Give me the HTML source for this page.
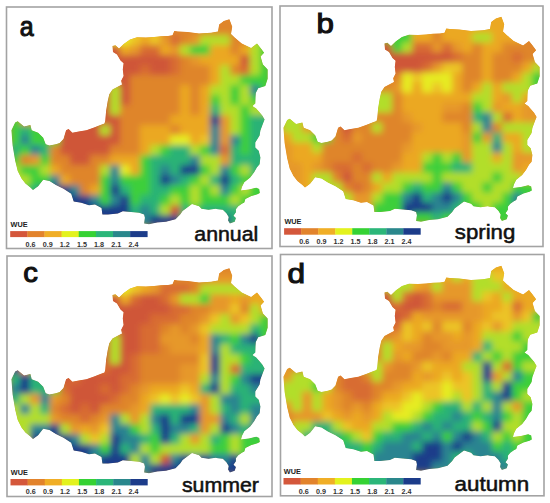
<!DOCTYPE html>
<html><head><meta charset="utf-8"><style>
html,body{margin:0;padding:0;background:#fff;}
svg{display:block;}
text{font-family:"Liberation Sans",sans-serif;}
.wue{font-size:7.3px;font-weight:bold;fill:#222;}
.lbl{font-size:7.2px;font-weight:bold;fill:#333;}
.big{font-size:27.5px;font-weight:normal;fill:#111;stroke:#111;stroke-width:1.1px;}
.season{font-size:21px;fill:#111;stroke:#111;stroke-width:0.55px;}
</style></head><body>
<svg width="550" height="503" viewBox="0 0 550 503">
<defs><clipPath id="clipmap"><polygon points="112.5,46.0 115.4,45.2 119.0,48.5 124.0,43.7 130.0,39.4 137.0,37.2 146.0,37.5 154.0,37.0 161.0,36.3 168.0,36.0 172.5,35.2 174.3,31.0 177.8,31.5 187.3,32.0 199.0,33.4 211.0,32.7 218.0,31.5 219.2,24.5 223.9,20.9 229.4,19.3 232.2,26.8 231.0,33.9 234.6,37.5 241.7,43.4 251.1,48.1 257.0,43.4 260.6,48.1 264.1,52.8 260.6,56.4 262.9,64.6 267.7,69.4 267.7,78.8 265.3,85.9 258.2,88.3 255.8,93.0 255.5,97.0 255.3,103.5 252.5,106.0 256.2,108.6 262.1,115.3 264.6,119.6 262.9,123.8 260.4,130.5 259.6,135.6 255.3,142.4 255.3,147.4 258.7,150.8 260.4,157.6 259.6,164.3 257.0,167.3 254.0,172.5 250.2,177.5 244.3,182.3 241.9,187.1 241.0,190.5 249.0,189.5 256.2,187.7 259.2,188.9 259.8,193.1 257.4,194.3 251.4,196.0 245.4,199.0 244.3,202.6 241.9,203.8 238.3,206.2 235.9,209.2 235.9,212.2 233.5,215.7 235.9,218.1 234.7,221.7 229.9,223.5 228.1,220.5 228.7,216.9 226.4,213.3 222.8,209.8 218.0,209.2 215.7,208.7 208.6,209.8 201.5,208.7 199.1,206.3 192.0,203.9 187.3,207.5 182.6,211.0 180.2,214.6 175.5,219.3 166.0,221.7 157.2,222.6 149.0,224.3 144.1,223.5 144.9,217.7 144.1,214.5 139.2,212.8 131.0,212.0 122.8,211.2 117.9,213.6 108.1,214.5 102.4,214.5 101.5,207.9 95.0,204.6 89.0,205.2 81.3,202.7 73.7,201.4 71.2,193.8 63.5,188.7 55.9,184.9 49.5,181.1 43.2,179.8 38.1,186.2 33.0,190.0 30.4,187.4 25.4,183.6 21.5,178.5 17.7,170.9 15.2,160.7 12.6,145.4 11.4,130.2 15.2,122.5 17.7,121.3 24.1,126.4 30.4,125.1 31.7,130.2 38.1,132.7 43.2,137.8 45.7,144.2 49.5,145.4 55.9,144.2 59.7,142.9 63.5,139.1 66.1,130.2 68.6,128.9 72.4,132.7 78.8,131.5 86.4,130.2 94.1,127.6 100.4,125.1 104.5,123.6 105.3,120.4 106.1,110.9 107.7,101.3 109.3,94.2 112.5,89.4 117.2,87.0 122.0,84.6 121.2,80.7 123.6,75.9 122.8,69.5 123.6,63.2 120.5,60.5 117.0,54.5 113.0,52.0"/></clipPath>
<filter id="soft" x="-5%" y="-5%" width="110%" height="110%"><feGaussianBlur stdDeviation="3"/></filter>
</defs>
<rect width="550" height="503" fill="#fff"/>
<g fill="none" stroke="#a3a3a3" stroke-width="1.6">
<rect x="6.5" y="7" width="265.5" height="241.5"/>
<rect x="280" y="6" width="263" height="240.5"/>
<rect x="7" y="256" width="265" height="240.5"/>
<rect x="280.5" y="254.5" width="263.5" height="241.3"/>
</g>
<g transform="translate(0,0)">
<g clip-path="url(#clipmap)">
<polygon points="112.5,46.0 115.4,45.2 119.0,48.5 124.0,43.7 130.0,39.4 137.0,37.2 146.0,37.5 154.0,37.0 161.0,36.3 168.0,36.0 172.5,35.2 174.3,31.0 177.8,31.5 187.3,32.0 199.0,33.4 211.0,32.7 218.0,31.5 219.2,24.5 223.9,20.9 229.4,19.3 232.2,26.8 231.0,33.9 234.6,37.5 241.7,43.4 251.1,48.1 257.0,43.4 260.6,48.1 264.1,52.8 260.6,56.4 262.9,64.6 267.7,69.4 267.7,78.8 265.3,85.9 258.2,88.3 255.8,93.0 255.5,97.0 255.3,103.5 252.5,106.0 256.2,108.6 262.1,115.3 264.6,119.6 262.9,123.8 260.4,130.5 259.6,135.6 255.3,142.4 255.3,147.4 258.7,150.8 260.4,157.6 259.6,164.3 257.0,167.3 254.0,172.5 250.2,177.5 244.3,182.3 241.9,187.1 241.0,190.5 249.0,189.5 256.2,187.7 259.2,188.9 259.8,193.1 257.4,194.3 251.4,196.0 245.4,199.0 244.3,202.6 241.9,203.8 238.3,206.2 235.9,209.2 235.9,212.2 233.5,215.7 235.9,218.1 234.7,221.7 229.9,223.5 228.1,220.5 228.7,216.9 226.4,213.3 222.8,209.8 218.0,209.2 215.7,208.7 208.6,209.8 201.5,208.7 199.1,206.3 192.0,203.9 187.3,207.5 182.6,211.0 180.2,214.6 175.5,219.3 166.0,221.7 157.2,222.6 149.0,224.3 144.1,223.5 144.9,217.7 144.1,214.5 139.2,212.8 131.0,212.0 122.8,211.2 117.9,213.6 108.1,214.5 102.4,214.5 101.5,207.9 95.0,204.6 89.0,205.2 81.3,202.7 73.7,201.4 71.2,193.8 63.5,188.7 55.9,184.9 49.5,181.1 43.2,179.8 38.1,186.2 33.0,190.0 30.4,187.4 25.4,183.6 21.5,178.5 17.7,170.9 15.2,160.7 12.6,145.4 11.4,130.2 15.2,122.5 17.7,121.3 24.1,126.4 30.4,125.1 31.7,130.2 38.1,132.7 43.2,137.8 45.7,144.2 49.5,145.4 55.9,144.2 59.7,142.9 63.5,139.1 66.1,130.2 68.6,128.9 72.4,132.7 78.8,131.5 86.4,130.2 94.1,127.6 100.4,125.1 104.5,123.6 105.3,120.4 106.1,110.9 107.7,101.3 109.3,94.2 112.5,89.4 117.2,87.0 122.0,84.6 121.2,80.7 123.6,75.9 122.8,69.5 123.6,63.2 120.5,60.5 117.0,54.5 113.0,52.0" fill="#e08a2a"/>
<g filter="url(#soft)"><rect x="10" y="15" width="10.5" height="10.5" fill="#3ccf3a"/>
<rect x="20" y="15" width="10.5" height="10.5" fill="#df852b"/>
<rect x="30" y="15" width="10.5" height="10.5" fill="#e6ec22"/>
<rect x="40" y="15" width="10.5" height="10.5" fill="#e6ec22"/>
<rect x="50" y="15" width="10.5" height="10.5" fill="#e6ec22"/>
<rect x="60" y="15" width="10.5" height="10.5" fill="#e6ec22"/>
<rect x="70" y="15" width="10.5" height="10.5" fill="#e6ec22"/>
<rect x="80" y="15" width="10.5" height="10.5" fill="#e6ec22"/>
<rect x="90" y="15" width="10.5" height="10.5" fill="#e6ec22"/>
<rect x="100" y="15" width="10.5" height="10.5" fill="#e6ec22"/>
<rect x="110" y="15" width="10.5" height="10.5" fill="#e6ec22"/>
<rect x="120" y="15" width="10.5" height="10.5" fill="#e6ec22"/>
<rect x="130" y="15" width="10.5" height="10.5" fill="#ecc427"/>
<rect x="140" y="15" width="10.5" height="10.5" fill="#eba823"/>
<rect x="150" y="15" width="10.5" height="10.5" fill="#ecc427"/>
<rect x="160" y="15" width="10.5" height="10.5" fill="#df852b"/>
<rect x="170" y="15" width="10.5" height="10.5" fill="#df852b"/>
<rect x="180" y="15" width="10.5" height="10.5" fill="#df852b"/>
<rect x="190" y="15" width="10.5" height="10.5" fill="#df852b"/>
<rect x="200" y="15" width="10.5" height="10.5" fill="#df852b"/>
<rect x="210" y="15" width="10.5" height="10.5" fill="#df852b"/>
<rect x="220" y="15" width="10.5" height="10.5" fill="#df852b"/>
<rect x="230" y="15" width="10.5" height="10.5" fill="#df852b"/>
<rect x="240" y="15" width="10.5" height="10.5" fill="#df852b"/>
<rect x="250" y="15" width="10.5" height="10.5" fill="#df852b"/>
<rect x="260" y="15" width="10.5" height="10.5" fill="#3ccf3a"/>
<rect x="10" y="25" width="10.5" height="10.5" fill="#3ccf3a"/>
<rect x="20" y="25" width="10.5" height="10.5" fill="#df852b"/>
<rect x="30" y="25" width="10.5" height="10.5" fill="#e6ec22"/>
<rect x="40" y="25" width="10.5" height="10.5" fill="#e6ec22"/>
<rect x="50" y="25" width="10.5" height="10.5" fill="#e6ec22"/>
<rect x="60" y="25" width="10.5" height="10.5" fill="#e6ec22"/>
<rect x="70" y="25" width="10.5" height="10.5" fill="#e6ec22"/>
<rect x="80" y="25" width="10.5" height="10.5" fill="#e6ec22"/>
<rect x="90" y="25" width="10.5" height="10.5" fill="#e6ec22"/>
<rect x="100" y="25" width="10.5" height="10.5" fill="#e6ec22"/>
<rect x="110" y="25" width="10.5" height="10.5" fill="#e6ec22"/>
<rect x="120" y="25" width="10.5" height="10.5" fill="#e6ec22"/>
<rect x="130" y="25" width="10.5" height="10.5" fill="#ecc427"/>
<rect x="140" y="25" width="10.5" height="10.5" fill="#eba823"/>
<rect x="150" y="25" width="10.5" height="10.5" fill="#ecc427"/>
<rect x="160" y="25" width="10.5" height="10.5" fill="#df852b"/>
<rect x="170" y="25" width="10.5" height="10.5" fill="#df852b"/>
<rect x="180" y="25" width="10.5" height="10.5" fill="#df852b"/>
<rect x="190" y="25" width="10.5" height="10.5" fill="#df852b"/>
<rect x="200" y="25" width="10.5" height="10.5" fill="#df852b"/>
<rect x="210" y="25" width="10.5" height="10.5" fill="#df852b"/>
<rect x="220" y="25" width="10.5" height="10.5" fill="#df852b"/>
<rect x="230" y="25" width="10.5" height="10.5" fill="#df852b"/>
<rect x="240" y="25" width="10.5" height="10.5" fill="#df852b"/>
<rect x="250" y="25" width="10.5" height="10.5" fill="#df852b"/>
<rect x="260" y="25" width="10.5" height="10.5" fill="#3ccf3a"/>
<rect x="10" y="35" width="10.5" height="10.5" fill="#3ccf3a"/>
<rect x="20" y="35" width="10.5" height="10.5" fill="#df852b"/>
<rect x="30" y="35" width="10.5" height="10.5" fill="#e6ec22"/>
<rect x="40" y="35" width="10.5" height="10.5" fill="#e6ec22"/>
<rect x="50" y="35" width="10.5" height="10.5" fill="#e6ec22"/>
<rect x="60" y="35" width="10.5" height="10.5" fill="#e6ec22"/>
<rect x="70" y="35" width="10.5" height="10.5" fill="#e6ec22"/>
<rect x="80" y="35" width="10.5" height="10.5" fill="#e6ec22"/>
<rect x="90" y="35" width="10.5" height="10.5" fill="#e6ec22"/>
<rect x="100" y="35" width="10.5" height="10.5" fill="#e6ec22"/>
<rect x="110" y="35" width="10.5" height="10.5" fill="#e6ec22"/>
<rect x="120" y="35" width="10.5" height="10.5" fill="#e6ec22"/>
<rect x="130" y="35" width="10.5" height="10.5" fill="#ecc427"/>
<rect x="140" y="35" width="10.5" height="10.5" fill="#eba823"/>
<rect x="150" y="35" width="10.5" height="10.5" fill="#ecc427"/>
<rect x="160" y="35" width="10.5" height="10.5" fill="#e6982a"/>
<rect x="170" y="35" width="10.5" height="10.5" fill="#d86c33"/>
<rect x="180" y="35" width="10.5" height="10.5" fill="#df852b"/>
<rect x="190" y="35" width="10.5" height="10.5" fill="#e6982a"/>
<rect x="200" y="35" width="10.5" height="10.5" fill="#b2de2a"/>
<rect x="210" y="35" width="10.5" height="10.5" fill="#b2de2a"/>
<rect x="220" y="35" width="10.5" height="10.5" fill="#b2de2a"/>
<rect x="230" y="35" width="10.5" height="10.5" fill="#df852b"/>
<rect x="240" y="35" width="10.5" height="10.5" fill="#df852b"/>
<rect x="250" y="35" width="10.5" height="10.5" fill="#b2de2a"/>
<rect x="260" y="35" width="10.5" height="10.5" fill="#3ccf3a"/>
<rect x="10" y="45" width="10.5" height="10.5" fill="#3ccf3a"/>
<rect x="20" y="45" width="10.5" height="10.5" fill="#df852b"/>
<rect x="30" y="45" width="10.5" height="10.5" fill="#cf5639"/>
<rect x="40" y="45" width="10.5" height="10.5" fill="#cf5639"/>
<rect x="50" y="45" width="10.5" height="10.5" fill="#cf5639"/>
<rect x="60" y="45" width="10.5" height="10.5" fill="#cf5639"/>
<rect x="70" y="45" width="10.5" height="10.5" fill="#cf5639"/>
<rect x="80" y="45" width="10.5" height="10.5" fill="#cf5639"/>
<rect x="90" y="45" width="10.5" height="10.5" fill="#cf5639"/>
<rect x="100" y="45" width="10.5" height="10.5" fill="#cf5639"/>
<rect x="110" y="45" width="10.5" height="10.5" fill="#cf5639"/>
<rect x="120" y="45" width="10.5" height="10.5" fill="#eba823"/>
<rect x="130" y="45" width="10.5" height="10.5" fill="#e6982a"/>
<rect x="140" y="45" width="10.5" height="10.5" fill="#d86c33"/>
<rect x="150" y="45" width="10.5" height="10.5" fill="#d86c33"/>
<rect x="160" y="45" width="10.5" height="10.5" fill="#eba823"/>
<rect x="170" y="45" width="10.5" height="10.5" fill="#e6982a"/>
<rect x="180" y="45" width="10.5" height="10.5" fill="#b2de2a"/>
<rect x="190" y="45" width="10.5" height="10.5" fill="#3ccf3a"/>
<rect x="200" y="45" width="10.5" height="10.5" fill="#3ccf3a"/>
<rect x="210" y="45" width="10.5" height="10.5" fill="#eba823"/>
<rect x="220" y="45" width="10.5" height="10.5" fill="#eba823"/>
<rect x="230" y="45" width="10.5" height="10.5" fill="#df852b"/>
<rect x="240" y="45" width="10.5" height="10.5" fill="#eba823"/>
<rect x="250" y="45" width="10.5" height="10.5" fill="#b2de2a"/>
<rect x="260" y="45" width="10.5" height="10.5" fill="#3ccf3a"/>
<rect x="10" y="55" width="10.5" height="10.5" fill="#3ccf3a"/>
<rect x="20" y="55" width="10.5" height="10.5" fill="#df852b"/>
<rect x="30" y="55" width="10.5" height="10.5" fill="#df852b"/>
<rect x="40" y="55" width="10.5" height="10.5" fill="#cf5639"/>
<rect x="50" y="55" width="10.5" height="10.5" fill="#cf5639"/>
<rect x="60" y="55" width="10.5" height="10.5" fill="#cf5639"/>
<rect x="70" y="55" width="10.5" height="10.5" fill="#cf5639"/>
<rect x="80" y="55" width="10.5" height="10.5" fill="#cf5639"/>
<rect x="90" y="55" width="10.5" height="10.5" fill="#cf5639"/>
<rect x="100" y="55" width="10.5" height="10.5" fill="#cf5639"/>
<rect x="110" y="55" width="10.5" height="10.5" fill="#cf5639"/>
<rect x="120" y="55" width="10.5" height="10.5" fill="#cf5639"/>
<rect x="130" y="55" width="10.5" height="10.5" fill="#cf5639"/>
<rect x="140" y="55" width="10.5" height="10.5" fill="#cf5639"/>
<rect x="150" y="55" width="10.5" height="10.5" fill="#cf5639"/>
<rect x="160" y="55" width="10.5" height="10.5" fill="#cf5639"/>
<rect x="170" y="55" width="10.5" height="10.5" fill="#d86c33"/>
<rect x="180" y="55" width="10.5" height="10.5" fill="#df852b"/>
<rect x="190" y="55" width="10.5" height="10.5" fill="#e6982a"/>
<rect x="200" y="55" width="10.5" height="10.5" fill="#eba823"/>
<rect x="210" y="55" width="10.5" height="10.5" fill="#eba823"/>
<rect x="220" y="55" width="10.5" height="10.5" fill="#eba823"/>
<rect x="230" y="55" width="10.5" height="10.5" fill="#eba823"/>
<rect x="240" y="55" width="10.5" height="10.5" fill="#cf5639"/>
<rect x="250" y="55" width="10.5" height="10.5" fill="#b2de2a"/>
<rect x="260" y="55" width="10.5" height="10.5" fill="#3ccf3a"/>
<rect x="10" y="65" width="10.5" height="10.5" fill="#3ccf3a"/>
<rect x="20" y="65" width="10.5" height="10.5" fill="#df852b"/>
<rect x="30" y="65" width="10.5" height="10.5" fill="#df852b"/>
<rect x="40" y="65" width="10.5" height="10.5" fill="#df852b"/>
<rect x="50" y="65" width="10.5" height="10.5" fill="#cf5639"/>
<rect x="60" y="65" width="10.5" height="10.5" fill="#cf5639"/>
<rect x="70" y="65" width="10.5" height="10.5" fill="#cf5639"/>
<rect x="80" y="65" width="10.5" height="10.5" fill="#cf5639"/>
<rect x="90" y="65" width="10.5" height="10.5" fill="#cf5639"/>
<rect x="100" y="65" width="10.5" height="10.5" fill="#cf5639"/>
<rect x="110" y="65" width="10.5" height="10.5" fill="#cf5639"/>
<rect x="120" y="65" width="10.5" height="10.5" fill="#cf5639"/>
<rect x="130" y="65" width="10.5" height="10.5" fill="#cf5639"/>
<rect x="140" y="65" width="10.5" height="10.5" fill="#d86c33"/>
<rect x="150" y="65" width="10.5" height="10.5" fill="#cf5639"/>
<rect x="160" y="65" width="10.5" height="10.5" fill="#cf5639"/>
<rect x="170" y="65" width="10.5" height="10.5" fill="#d86c33"/>
<rect x="180" y="65" width="10.5" height="10.5" fill="#df852b"/>
<rect x="190" y="65" width="10.5" height="10.5" fill="#df852b"/>
<rect x="200" y="65" width="10.5" height="10.5" fill="#df852b"/>
<rect x="210" y="65" width="10.5" height="10.5" fill="#eba823"/>
<rect x="220" y="65" width="10.5" height="10.5" fill="#b2de2a"/>
<rect x="230" y="65" width="10.5" height="10.5" fill="#df852b"/>
<rect x="240" y="65" width="10.5" height="10.5" fill="#d86c33"/>
<rect x="250" y="65" width="10.5" height="10.5" fill="#b2de2a"/>
<rect x="260" y="65" width="10.5" height="10.5" fill="#3ccf3a"/>
<rect x="10" y="75" width="10.5" height="10.5" fill="#3ccf3a"/>
<rect x="20" y="75" width="10.5" height="10.5" fill="#df852b"/>
<rect x="30" y="75" width="10.5" height="10.5" fill="#df852b"/>
<rect x="40" y="75" width="10.5" height="10.5" fill="#df852b"/>
<rect x="50" y="75" width="10.5" height="10.5" fill="#cf5639"/>
<rect x="60" y="75" width="10.5" height="10.5" fill="#cf5639"/>
<rect x="70" y="75" width="10.5" height="10.5" fill="#cf5639"/>
<rect x="80" y="75" width="10.5" height="10.5" fill="#cf5639"/>
<rect x="90" y="75" width="10.5" height="10.5" fill="#cf5639"/>
<rect x="100" y="75" width="10.5" height="10.5" fill="#cf5639"/>
<rect x="110" y="75" width="10.5" height="10.5" fill="#cf5639"/>
<rect x="120" y="75" width="10.5" height="10.5" fill="#cf5639"/>
<rect x="130" y="75" width="10.5" height="10.5" fill="#df852b"/>
<rect x="140" y="75" width="10.5" height="10.5" fill="#df852b"/>
<rect x="150" y="75" width="10.5" height="10.5" fill="#df852b"/>
<rect x="160" y="75" width="10.5" height="10.5" fill="#df852b"/>
<rect x="170" y="75" width="10.5" height="10.5" fill="#df852b"/>
<rect x="180" y="75" width="10.5" height="10.5" fill="#df852b"/>
<rect x="190" y="75" width="10.5" height="10.5" fill="#df852b"/>
<rect x="200" y="75" width="10.5" height="10.5" fill="#df852b"/>
<rect x="210" y="75" width="10.5" height="10.5" fill="#eba823"/>
<rect x="220" y="75" width="10.5" height="10.5" fill="#b2de2a"/>
<rect x="230" y="75" width="10.5" height="10.5" fill="#b2de2a"/>
<rect x="240" y="75" width="10.5" height="10.5" fill="#3ccf3a"/>
<rect x="250" y="75" width="10.5" height="10.5" fill="#3ccf3a"/>
<rect x="260" y="75" width="10.5" height="10.5" fill="#3ccf3a"/>
<rect x="10" y="85" width="10.5" height="10.5" fill="#3ccf3a"/>
<rect x="20" y="85" width="10.5" height="10.5" fill="#df852b"/>
<rect x="30" y="85" width="10.5" height="10.5" fill="#df852b"/>
<rect x="40" y="85" width="10.5" height="10.5" fill="#df852b"/>
<rect x="50" y="85" width="10.5" height="10.5" fill="#cf5639"/>
<rect x="60" y="85" width="10.5" height="10.5" fill="#cf5639"/>
<rect x="70" y="85" width="10.5" height="10.5" fill="#cf5639"/>
<rect x="80" y="85" width="10.5" height="10.5" fill="#cf5639"/>
<rect x="90" y="85" width="10.5" height="10.5" fill="#cf5639"/>
<rect x="100" y="85" width="10.5" height="10.5" fill="#cf5639"/>
<rect x="110" y="85" width="10.5" height="10.5" fill="#b2de2a"/>
<rect x="120" y="85" width="10.5" height="10.5" fill="#cf5639"/>
<rect x="130" y="85" width="10.5" height="10.5" fill="#df852b"/>
<rect x="140" y="85" width="10.5" height="10.5" fill="#df852b"/>
<rect x="150" y="85" width="10.5" height="10.5" fill="#df852b"/>
<rect x="160" y="85" width="10.5" height="10.5" fill="#df852b"/>
<rect x="170" y="85" width="10.5" height="10.5" fill="#df852b"/>
<rect x="180" y="85" width="10.5" height="10.5" fill="#eba823"/>
<rect x="190" y="85" width="10.5" height="10.5" fill="#df852b"/>
<rect x="200" y="85" width="10.5" height="10.5" fill="#eba823"/>
<rect x="210" y="85" width="10.5" height="10.5" fill="#b2de2a"/>
<rect x="220" y="85" width="10.5" height="10.5" fill="#b2de2a"/>
<rect x="230" y="85" width="10.5" height="10.5" fill="#3ccf3a"/>
<rect x="240" y="85" width="10.5" height="10.5" fill="#b2de2a"/>
<rect x="250" y="85" width="10.5" height="10.5" fill="#2a8490"/>
<rect x="260" y="85" width="10.5" height="10.5" fill="#3ccf3a"/>
<rect x="10" y="95" width="10.5" height="10.5" fill="#3ccf3a"/>
<rect x="20" y="95" width="10.5" height="10.5" fill="#df852b"/>
<rect x="30" y="95" width="10.5" height="10.5" fill="#df852b"/>
<rect x="40" y="95" width="10.5" height="10.5" fill="#df852b"/>
<rect x="50" y="95" width="10.5" height="10.5" fill="#cf5639"/>
<rect x="60" y="95" width="10.5" height="10.5" fill="#cf5639"/>
<rect x="70" y="95" width="10.5" height="10.5" fill="#cf5639"/>
<rect x="80" y="95" width="10.5" height="10.5" fill="#cf5639"/>
<rect x="90" y="95" width="10.5" height="10.5" fill="#cf5639"/>
<rect x="100" y="95" width="10.5" height="10.5" fill="#cf5639"/>
<rect x="110" y="95" width="10.5" height="10.5" fill="#b2de2a"/>
<rect x="120" y="95" width="10.5" height="10.5" fill="#cf5639"/>
<rect x="130" y="95" width="10.5" height="10.5" fill="#df852b"/>
<rect x="140" y="95" width="10.5" height="10.5" fill="#df852b"/>
<rect x="150" y="95" width="10.5" height="10.5" fill="#df852b"/>
<rect x="160" y="95" width="10.5" height="10.5" fill="#df852b"/>
<rect x="170" y="95" width="10.5" height="10.5" fill="#df852b"/>
<rect x="180" y="95" width="10.5" height="10.5" fill="#eba823"/>
<rect x="190" y="95" width="10.5" height="10.5" fill="#df852b"/>
<rect x="200" y="95" width="10.5" height="10.5" fill="#eba823"/>
<rect x="210" y="95" width="10.5" height="10.5" fill="#3ccf3a"/>
<rect x="220" y="95" width="10.5" height="10.5" fill="#b2de2a"/>
<rect x="230" y="95" width="10.5" height="10.5" fill="#3ccf3a"/>
<rect x="240" y="95" width="10.5" height="10.5" fill="#b2de2a"/>
<rect x="250" y="95" width="10.5" height="10.5" fill="#3ccf3a"/>
<rect x="260" y="95" width="10.5" height="10.5" fill="#3ccf3a"/>
<rect x="10" y="105" width="10.5" height="10.5" fill="#3ccf3a"/>
<rect x="20" y="105" width="10.5" height="10.5" fill="#df852b"/>
<rect x="30" y="105" width="10.5" height="10.5" fill="#df852b"/>
<rect x="40" y="105" width="10.5" height="10.5" fill="#df852b"/>
<rect x="50" y="105" width="10.5" height="10.5" fill="#cf5639"/>
<rect x="60" y="105" width="10.5" height="10.5" fill="#cf5639"/>
<rect x="70" y="105" width="10.5" height="10.5" fill="#cf5639"/>
<rect x="80" y="105" width="10.5" height="10.5" fill="#cf5639"/>
<rect x="90" y="105" width="10.5" height="10.5" fill="#cf5639"/>
<rect x="100" y="105" width="10.5" height="10.5" fill="#cf5639"/>
<rect x="110" y="105" width="10.5" height="10.5" fill="#b2de2a"/>
<rect x="120" y="105" width="10.5" height="10.5" fill="#df852b"/>
<rect x="130" y="105" width="10.5" height="10.5" fill="#df852b"/>
<rect x="140" y="105" width="10.5" height="10.5" fill="#df852b"/>
<rect x="150" y="105" width="10.5" height="10.5" fill="#df852b"/>
<rect x="160" y="105" width="10.5" height="10.5" fill="#df852b"/>
<rect x="170" y="105" width="10.5" height="10.5" fill="#df852b"/>
<rect x="180" y="105" width="10.5" height="10.5" fill="#eba823"/>
<rect x="190" y="105" width="10.5" height="10.5" fill="#df852b"/>
<rect x="200" y="105" width="10.5" height="10.5" fill="#eba823"/>
<rect x="210" y="105" width="10.5" height="10.5" fill="#2bb276"/>
<rect x="220" y="105" width="10.5" height="10.5" fill="#b2de2a"/>
<rect x="230" y="105" width="10.5" height="10.5" fill="#b2de2a"/>
<rect x="240" y="105" width="10.5" height="10.5" fill="#3ccf3a"/>
<rect x="250" y="105" width="10.5" height="10.5" fill="#b2de2a"/>
<rect x="260" y="105" width="10.5" height="10.5" fill="#b2de2a"/>
<rect x="10" y="115" width="10.5" height="10.5" fill="#3ccf3a"/>
<rect x="20" y="115" width="10.5" height="10.5" fill="#df852b"/>
<rect x="30" y="115" width="10.5" height="10.5" fill="#df852b"/>
<rect x="40" y="115" width="10.5" height="10.5" fill="#df852b"/>
<rect x="50" y="115" width="10.5" height="10.5" fill="#cf5639"/>
<rect x="60" y="115" width="10.5" height="10.5" fill="#cf5639"/>
<rect x="70" y="115" width="10.5" height="10.5" fill="#cf5639"/>
<rect x="80" y="115" width="10.5" height="10.5" fill="#cf5639"/>
<rect x="90" y="115" width="10.5" height="10.5" fill="#cf5639"/>
<rect x="100" y="115" width="10.5" height="10.5" fill="#cf5639"/>
<rect x="110" y="115" width="10.5" height="10.5" fill="#cf5639"/>
<rect x="120" y="115" width="10.5" height="10.5" fill="#df852b"/>
<rect x="130" y="115" width="10.5" height="10.5" fill="#df852b"/>
<rect x="140" y="115" width="10.5" height="10.5" fill="#df852b"/>
<rect x="150" y="115" width="10.5" height="10.5" fill="#df852b"/>
<rect x="160" y="115" width="10.5" height="10.5" fill="#df852b"/>
<rect x="170" y="115" width="10.5" height="10.5" fill="#eba823"/>
<rect x="180" y="115" width="10.5" height="10.5" fill="#eba823"/>
<rect x="190" y="115" width="10.5" height="10.5" fill="#eba823"/>
<rect x="200" y="115" width="10.5" height="10.5" fill="#eba823"/>
<rect x="210" y="115" width="10.5" height="10.5" fill="#1d3d8a"/>
<rect x="220" y="115" width="10.5" height="10.5" fill="#e6982a"/>
<rect x="230" y="115" width="10.5" height="10.5" fill="#b2de2a"/>
<rect x="240" y="115" width="10.5" height="10.5" fill="#3ccf3a"/>
<rect x="250" y="115" width="10.5" height="10.5" fill="#2bb276"/>
<rect x="260" y="115" width="10.5" height="10.5" fill="#2bb276"/>
<rect x="10" y="125" width="10.5" height="10.5" fill="#3ccf3a"/>
<rect x="20" y="125" width="10.5" height="10.5" fill="#2bb276"/>
<rect x="30" y="125" width="10.5" height="10.5" fill="#3ccf3a"/>
<rect x="40" y="125" width="10.5" height="10.5" fill="#3ccf3a"/>
<rect x="50" y="125" width="10.5" height="10.5" fill="#cf5639"/>
<rect x="60" y="125" width="10.5" height="10.5" fill="#cf5639"/>
<rect x="70" y="125" width="10.5" height="10.5" fill="#cf5639"/>
<rect x="80" y="125" width="10.5" height="10.5" fill="#cf5639"/>
<rect x="90" y="125" width="10.5" height="10.5" fill="#cf5639"/>
<rect x="100" y="125" width="10.5" height="10.5" fill="#b2de2a"/>
<rect x="110" y="125" width="10.5" height="10.5" fill="#cf5639"/>
<rect x="120" y="125" width="10.5" height="10.5" fill="#df852b"/>
<rect x="130" y="125" width="10.5" height="10.5" fill="#df852b"/>
<rect x="140" y="125" width="10.5" height="10.5" fill="#eba823"/>
<rect x="150" y="125" width="10.5" height="10.5" fill="#eba823"/>
<rect x="160" y="125" width="10.5" height="10.5" fill="#eba823"/>
<rect x="170" y="125" width="10.5" height="10.5" fill="#df852b"/>
<rect x="180" y="125" width="10.5" height="10.5" fill="#eba823"/>
<rect x="190" y="125" width="10.5" height="10.5" fill="#eba823"/>
<rect x="200" y="125" width="10.5" height="10.5" fill="#eba823"/>
<rect x="210" y="125" width="10.5" height="10.5" fill="#2a8490"/>
<rect x="220" y="125" width="10.5" height="10.5" fill="#e6982a"/>
<rect x="230" y="125" width="10.5" height="10.5" fill="#b2de2a"/>
<rect x="240" y="125" width="10.5" height="10.5" fill="#3ccf3a"/>
<rect x="250" y="125" width="10.5" height="10.5" fill="#2bb276"/>
<rect x="260" y="125" width="10.5" height="10.5" fill="#2bb276"/>
<rect x="10" y="135" width="10.5" height="10.5" fill="#3ccf3a"/>
<rect x="20" y="135" width="10.5" height="10.5" fill="#2a8490"/>
<rect x="30" y="135" width="10.5" height="10.5" fill="#3ccf3a"/>
<rect x="40" y="135" width="10.5" height="10.5" fill="#3ccf3a"/>
<rect x="50" y="135" width="10.5" height="10.5" fill="#3ccf3a"/>
<rect x="60" y="135" width="10.5" height="10.5" fill="#cf5639"/>
<rect x="70" y="135" width="10.5" height="10.5" fill="#cf5639"/>
<rect x="80" y="135" width="10.5" height="10.5" fill="#cf5639"/>
<rect x="90" y="135" width="10.5" height="10.5" fill="#cf5639"/>
<rect x="100" y="135" width="10.5" height="10.5" fill="#cf5639"/>
<rect x="110" y="135" width="10.5" height="10.5" fill="#cf5639"/>
<rect x="120" y="135" width="10.5" height="10.5" fill="#df852b"/>
<rect x="130" y="135" width="10.5" height="10.5" fill="#df852b"/>
<rect x="140" y="135" width="10.5" height="10.5" fill="#eba823"/>
<rect x="150" y="135" width="10.5" height="10.5" fill="#eba823"/>
<rect x="160" y="135" width="10.5" height="10.5" fill="#eba823"/>
<rect x="170" y="135" width="10.5" height="10.5" fill="#e6ec22"/>
<rect x="180" y="135" width="10.5" height="10.5" fill="#e6ec22"/>
<rect x="190" y="135" width="10.5" height="10.5" fill="#eba823"/>
<rect x="200" y="135" width="10.5" height="10.5" fill="#ecc427"/>
<rect x="210" y="135" width="10.5" height="10.5" fill="#2a8490"/>
<rect x="220" y="135" width="10.5" height="10.5" fill="#e6982a"/>
<rect x="230" y="135" width="10.5" height="10.5" fill="#2a8490"/>
<rect x="240" y="135" width="10.5" height="10.5" fill="#3ccf3a"/>
<rect x="250" y="135" width="10.5" height="10.5" fill="#2bb276"/>
<rect x="260" y="135" width="10.5" height="10.5" fill="#2bb276"/>
<rect x="10" y="145" width="10.5" height="10.5" fill="#2bb276"/>
<rect x="20" y="145" width="10.5" height="10.5" fill="#3ccf3a"/>
<rect x="30" y="145" width="10.5" height="10.5" fill="#2a8490"/>
<rect x="40" y="145" width="10.5" height="10.5" fill="#2bb276"/>
<rect x="50" y="145" width="10.5" height="10.5" fill="#df852b"/>
<rect x="60" y="145" width="10.5" height="10.5" fill="#cf5639"/>
<rect x="70" y="145" width="10.5" height="10.5" fill="#cf5639"/>
<rect x="80" y="145" width="10.5" height="10.5" fill="#cf5639"/>
<rect x="90" y="145" width="10.5" height="10.5" fill="#cf5639"/>
<rect x="100" y="145" width="10.5" height="10.5" fill="#cf5639"/>
<rect x="110" y="145" width="10.5" height="10.5" fill="#df852b"/>
<rect x="120" y="145" width="10.5" height="10.5" fill="#df852b"/>
<rect x="130" y="145" width="10.5" height="10.5" fill="#df852b"/>
<rect x="140" y="145" width="10.5" height="10.5" fill="#eba823"/>
<rect x="150" y="145" width="10.5" height="10.5" fill="#b2de2a"/>
<rect x="160" y="145" width="10.5" height="10.5" fill="#3ccf3a"/>
<rect x="170" y="145" width="10.5" height="10.5" fill="#2bb276"/>
<rect x="180" y="145" width="10.5" height="10.5" fill="#2bb276"/>
<rect x="190" y="145" width="10.5" height="10.5" fill="#b2de2a"/>
<rect x="200" y="145" width="10.5" height="10.5" fill="#3ccf3a"/>
<rect x="210" y="145" width="10.5" height="10.5" fill="#2a8490"/>
<rect x="220" y="145" width="10.5" height="10.5" fill="#d86c33"/>
<rect x="230" y="145" width="10.5" height="10.5" fill="#2bb276"/>
<rect x="240" y="145" width="10.5" height="10.5" fill="#3ccf3a"/>
<rect x="250" y="145" width="10.5" height="10.5" fill="#2bb276"/>
<rect x="260" y="145" width="10.5" height="10.5" fill="#2bb276"/>
<rect x="10" y="155" width="10.5" height="10.5" fill="#3ccf3a"/>
<rect x="20" y="155" width="10.5" height="10.5" fill="#df852b"/>
<rect x="30" y="155" width="10.5" height="10.5" fill="#e6982a"/>
<rect x="40" y="155" width="10.5" height="10.5" fill="#3ccf3a"/>
<rect x="50" y="155" width="10.5" height="10.5" fill="#df852b"/>
<rect x="60" y="155" width="10.5" height="10.5" fill="#df852b"/>
<rect x="70" y="155" width="10.5" height="10.5" fill="#cf5639"/>
<rect x="80" y="155" width="10.5" height="10.5" fill="#cf5639"/>
<rect x="90" y="155" width="10.5" height="10.5" fill="#df852b"/>
<rect x="100" y="155" width="10.5" height="10.5" fill="#df852b"/>
<rect x="110" y="155" width="10.5" height="10.5" fill="#eba823"/>
<rect x="120" y="155" width="10.5" height="10.5" fill="#eba823"/>
<rect x="130" y="155" width="10.5" height="10.5" fill="#eba823"/>
<rect x="140" y="155" width="10.5" height="10.5" fill="#3ccf3a"/>
<rect x="150" y="155" width="10.5" height="10.5" fill="#2bb276"/>
<rect x="160" y="155" width="10.5" height="10.5" fill="#2bb276"/>
<rect x="170" y="155" width="10.5" height="10.5" fill="#2bb276"/>
<rect x="180" y="155" width="10.5" height="10.5" fill="#2bb276"/>
<rect x="190" y="155" width="10.5" height="10.5" fill="#2a8490"/>
<rect x="200" y="155" width="10.5" height="10.5" fill="#b2de2a"/>
<rect x="210" y="155" width="10.5" height="10.5" fill="#b2de2a"/>
<rect x="220" y="155" width="10.5" height="10.5" fill="#e6982a"/>
<rect x="230" y="155" width="10.5" height="10.5" fill="#2bb276"/>
<rect x="240" y="155" width="10.5" height="10.5" fill="#2bb276"/>
<rect x="250" y="155" width="10.5" height="10.5" fill="#2bb276"/>
<rect x="260" y="155" width="10.5" height="10.5" fill="#2bb276"/>
<rect x="10" y="165" width="10.5" height="10.5" fill="#b2de2a"/>
<rect x="20" y="165" width="10.5" height="10.5" fill="#3ccf3a"/>
<rect x="30" y="165" width="10.5" height="10.5" fill="#3ccf3a"/>
<rect x="40" y="165" width="10.5" height="10.5" fill="#b2de2a"/>
<rect x="50" y="165" width="10.5" height="10.5" fill="#eba823"/>
<rect x="60" y="165" width="10.5" height="10.5" fill="#df852b"/>
<rect x="70" y="165" width="10.5" height="10.5" fill="#df852b"/>
<rect x="80" y="165" width="10.5" height="10.5" fill="#df852b"/>
<rect x="90" y="165" width="10.5" height="10.5" fill="#df852b"/>
<rect x="100" y="165" width="10.5" height="10.5" fill="#b2de2a"/>
<rect x="110" y="165" width="10.5" height="10.5" fill="#2a8490"/>
<rect x="120" y="165" width="10.5" height="10.5" fill="#e6ec22"/>
<rect x="130" y="165" width="10.5" height="10.5" fill="#eba823"/>
<rect x="140" y="165" width="10.5" height="10.5" fill="#3ccf3a"/>
<rect x="150" y="165" width="10.5" height="10.5" fill="#2bb276"/>
<rect x="160" y="165" width="10.5" height="10.5" fill="#2a8490"/>
<rect x="170" y="165" width="10.5" height="10.5" fill="#2bb276"/>
<rect x="180" y="165" width="10.5" height="10.5" fill="#1d3d8a"/>
<rect x="190" y="165" width="10.5" height="10.5" fill="#1d3d8a"/>
<rect x="200" y="165" width="10.5" height="10.5" fill="#3ccf3a"/>
<rect x="210" y="165" width="10.5" height="10.5" fill="#b2de2a"/>
<rect x="220" y="165" width="10.5" height="10.5" fill="#2a8490"/>
<rect x="230" y="165" width="10.5" height="10.5" fill="#3ccf3a"/>
<rect x="240" y="165" width="10.5" height="10.5" fill="#b2de2a"/>
<rect x="250" y="165" width="10.5" height="10.5" fill="#2bb276"/>
<rect x="260" y="165" width="10.5" height="10.5" fill="#2bb276"/>
<rect x="10" y="175" width="10.5" height="10.5" fill="#b2de2a"/>
<rect x="20" y="175" width="10.5" height="10.5" fill="#b2de2a"/>
<rect x="30" y="175" width="10.5" height="10.5" fill="#3ccf3a"/>
<rect x="40" y="175" width="10.5" height="10.5" fill="#3ccf3a"/>
<rect x="50" y="175" width="10.5" height="10.5" fill="#2a8490"/>
<rect x="60" y="175" width="10.5" height="10.5" fill="#eba823"/>
<rect x="70" y="175" width="10.5" height="10.5" fill="#df852b"/>
<rect x="80" y="175" width="10.5" height="10.5" fill="#df852b"/>
<rect x="90" y="175" width="10.5" height="10.5" fill="#df852b"/>
<rect x="100" y="175" width="10.5" height="10.5" fill="#3ccf3a"/>
<rect x="110" y="175" width="10.5" height="10.5" fill="#2a8490"/>
<rect x="120" y="175" width="10.5" height="10.5" fill="#3ccf3a"/>
<rect x="130" y="175" width="10.5" height="10.5" fill="#3ccf3a"/>
<rect x="140" y="175" width="10.5" height="10.5" fill="#3ccf3a"/>
<rect x="150" y="175" width="10.5" height="10.5" fill="#2bb276"/>
<rect x="160" y="175" width="10.5" height="10.5" fill="#1d3d8a"/>
<rect x="170" y="175" width="10.5" height="10.5" fill="#2a8490"/>
<rect x="180" y="175" width="10.5" height="10.5" fill="#2bb276"/>
<rect x="190" y="175" width="10.5" height="10.5" fill="#3ccf3a"/>
<rect x="200" y="175" width="10.5" height="10.5" fill="#b2de2a"/>
<rect x="210" y="175" width="10.5" height="10.5" fill="#2bb276"/>
<rect x="220" y="175" width="10.5" height="10.5" fill="#1d3d8a"/>
<rect x="230" y="175" width="10.5" height="10.5" fill="#2bb276"/>
<rect x="240" y="175" width="10.5" height="10.5" fill="#3ccf3a"/>
<rect x="250" y="175" width="10.5" height="10.5" fill="#3ccf3a"/>
<rect x="260" y="175" width="10.5" height="10.5" fill="#3ccf3a"/>
<rect x="10" y="185" width="10.5" height="10.5" fill="#3ccf3a"/>
<rect x="20" y="185" width="10.5" height="10.5" fill="#3ccf3a"/>
<rect x="30" y="185" width="10.5" height="10.5" fill="#2bb276"/>
<rect x="40" y="185" width="10.5" height="10.5" fill="#1d3d8a"/>
<rect x="50" y="185" width="10.5" height="10.5" fill="#1d3d8a"/>
<rect x="60" y="185" width="10.5" height="10.5" fill="#1d3d8a"/>
<rect x="70" y="185" width="10.5" height="10.5" fill="#2a8490"/>
<rect x="80" y="185" width="10.5" height="10.5" fill="#df852b"/>
<rect x="90" y="185" width="10.5" height="10.5" fill="#eba823"/>
<rect x="100" y="185" width="10.5" height="10.5" fill="#3ccf3a"/>
<rect x="110" y="185" width="10.5" height="10.5" fill="#1d3d8a"/>
<rect x="120" y="185" width="10.5" height="10.5" fill="#2bb276"/>
<rect x="130" y="185" width="10.5" height="10.5" fill="#3ccf3a"/>
<rect x="140" y="185" width="10.5" height="10.5" fill="#3ccf3a"/>
<rect x="150" y="185" width="10.5" height="10.5" fill="#2bb276"/>
<rect x="160" y="185" width="10.5" height="10.5" fill="#2bb276"/>
<rect x="170" y="185" width="10.5" height="10.5" fill="#3ccf3a"/>
<rect x="180" y="185" width="10.5" height="10.5" fill="#3ccf3a"/>
<rect x="190" y="185" width="10.5" height="10.5" fill="#b2de2a"/>
<rect x="200" y="185" width="10.5" height="10.5" fill="#3ccf3a"/>
<rect x="210" y="185" width="10.5" height="10.5" fill="#b2de2a"/>
<rect x="220" y="185" width="10.5" height="10.5" fill="#2a8490"/>
<rect x="230" y="185" width="10.5" height="10.5" fill="#3ccf3a"/>
<rect x="240" y="185" width="10.5" height="10.5" fill="#b2de2a"/>
<rect x="250" y="185" width="10.5" height="10.5" fill="#3ccf3a"/>
<rect x="260" y="185" width="10.5" height="10.5" fill="#3ccf3a"/>
<rect x="10" y="195" width="10.5" height="10.5" fill="#3ccf3a"/>
<rect x="20" y="195" width="10.5" height="10.5" fill="#3ccf3a"/>
<rect x="30" y="195" width="10.5" height="10.5" fill="#2bb276"/>
<rect x="40" y="195" width="10.5" height="10.5" fill="#1d3d8a"/>
<rect x="50" y="195" width="10.5" height="10.5" fill="#1d3d8a"/>
<rect x="60" y="195" width="10.5" height="10.5" fill="#1d3d8a"/>
<rect x="70" y="195" width="10.5" height="10.5" fill="#1d3d8a"/>
<rect x="80" y="195" width="10.5" height="10.5" fill="#1d3d8a"/>
<rect x="90" y="195" width="10.5" height="10.5" fill="#2a8490"/>
<rect x="100" y="195" width="10.5" height="10.5" fill="#3ccf3a"/>
<rect x="110" y="195" width="10.5" height="10.5" fill="#2a8490"/>
<rect x="120" y="195" width="10.5" height="10.5" fill="#1d3d8a"/>
<rect x="130" y="195" width="10.5" height="10.5" fill="#3ccf3a"/>
<rect x="140" y="195" width="10.5" height="10.5" fill="#2bb276"/>
<rect x="150" y="195" width="10.5" height="10.5" fill="#2bb276"/>
<rect x="160" y="195" width="10.5" height="10.5" fill="#3ccf3a"/>
<rect x="170" y="195" width="10.5" height="10.5" fill="#b2de2a"/>
<rect x="180" y="195" width="10.5" height="10.5" fill="#3ccf3a"/>
<rect x="190" y="195" width="10.5" height="10.5" fill="#b2de2a"/>
<rect x="200" y="195" width="10.5" height="10.5" fill="#3ccf3a"/>
<rect x="210" y="195" width="10.5" height="10.5" fill="#3ccf3a"/>
<rect x="220" y="195" width="10.5" height="10.5" fill="#3ccf3a"/>
<rect x="230" y="195" width="10.5" height="10.5" fill="#b2de2a"/>
<rect x="240" y="195" width="10.5" height="10.5" fill="#3ccf3a"/>
<rect x="250" y="195" width="10.5" height="10.5" fill="#3ccf3a"/>
<rect x="260" y="195" width="10.5" height="10.5" fill="#3ccf3a"/>
<rect x="10" y="205" width="10.5" height="10.5" fill="#3ccf3a"/>
<rect x="20" y="205" width="10.5" height="10.5" fill="#3ccf3a"/>
<rect x="30" y="205" width="10.5" height="10.5" fill="#2bb276"/>
<rect x="40" y="205" width="10.5" height="10.5" fill="#1d3d8a"/>
<rect x="50" y="205" width="10.5" height="10.5" fill="#1d3d8a"/>
<rect x="60" y="205" width="10.5" height="10.5" fill="#1d3d8a"/>
<rect x="70" y="205" width="10.5" height="10.5" fill="#1d3d8a"/>
<rect x="80" y="205" width="10.5" height="10.5" fill="#1d3d8a"/>
<rect x="90" y="205" width="10.5" height="10.5" fill="#1d3d8a"/>
<rect x="100" y="205" width="10.5" height="10.5" fill="#1d3d8a"/>
<rect x="110" y="205" width="10.5" height="10.5" fill="#1d3d8a"/>
<rect x="120" y="205" width="10.5" height="10.5" fill="#1d3d8a"/>
<rect x="130" y="205" width="10.5" height="10.5" fill="#2bb276"/>
<rect x="140" y="205" width="10.5" height="10.5" fill="#2a8490"/>
<rect x="150" y="205" width="10.5" height="10.5" fill="#2bb276"/>
<rect x="160" y="205" width="10.5" height="10.5" fill="#b2de2a"/>
<rect x="170" y="205" width="10.5" height="10.5" fill="#cf5639"/>
<rect x="180" y="205" width="10.5" height="10.5" fill="#2bb276"/>
<rect x="190" y="205" width="10.5" height="10.5" fill="#3ccf3a"/>
<rect x="200" y="205" width="10.5" height="10.5" fill="#2bb276"/>
<rect x="210" y="205" width="10.5" height="10.5" fill="#2bb276"/>
<rect x="220" y="205" width="10.5" height="10.5" fill="#2bb276"/>
<rect x="230" y="205" width="10.5" height="10.5" fill="#2bb276"/>
<rect x="240" y="205" width="10.5" height="10.5" fill="#3ccf3a"/>
<rect x="250" y="205" width="10.5" height="10.5" fill="#3ccf3a"/>
<rect x="260" y="205" width="10.5" height="10.5" fill="#3ccf3a"/>
<rect x="10" y="215" width="10.5" height="10.5" fill="#3ccf3a"/>
<rect x="20" y="215" width="10.5" height="10.5" fill="#3ccf3a"/>
<rect x="30" y="215" width="10.5" height="10.5" fill="#2bb276"/>
<rect x="40" y="215" width="10.5" height="10.5" fill="#1d3d8a"/>
<rect x="50" y="215" width="10.5" height="10.5" fill="#1d3d8a"/>
<rect x="60" y="215" width="10.5" height="10.5" fill="#1d3d8a"/>
<rect x="70" y="215" width="10.5" height="10.5" fill="#1d3d8a"/>
<rect x="80" y="215" width="10.5" height="10.5" fill="#1d3d8a"/>
<rect x="90" y="215" width="10.5" height="10.5" fill="#1d3d8a"/>
<rect x="100" y="215" width="10.5" height="10.5" fill="#1d3d8a"/>
<rect x="110" y="215" width="10.5" height="10.5" fill="#1d3d8a"/>
<rect x="120" y="215" width="10.5" height="10.5" fill="#1d3d8a"/>
<rect x="130" y="215" width="10.5" height="10.5" fill="#2bb276"/>
<rect x="140" y="215" width="10.5" height="10.5" fill="#2a8490"/>
<rect x="150" y="215" width="10.5" height="10.5" fill="#1d3d8a"/>
<rect x="160" y="215" width="10.5" height="10.5" fill="#1d3d8a"/>
<rect x="170" y="215" width="10.5" height="10.5" fill="#1d3d8a"/>
<rect x="180" y="215" width="10.5" height="10.5" fill="#3ccf3a"/>
<rect x="190" y="215" width="10.5" height="10.5" fill="#3ccf3a"/>
<rect x="200" y="215" width="10.5" height="10.5" fill="#2bb276"/>
<rect x="210" y="215" width="10.5" height="10.5" fill="#2bb276"/>
<rect x="220" y="215" width="10.5" height="10.5" fill="#1d3d8a"/>
<rect x="230" y="215" width="10.5" height="10.5" fill="#2bb276"/>
<rect x="240" y="215" width="10.5" height="10.5" fill="#3ccf3a"/>
<rect x="250" y="215" width="10.5" height="10.5" fill="#3ccf3a"/>
<rect x="260" y="215" width="10.5" height="10.5" fill="#3ccf3a"/></g>
</g></g>
<g transform="translate(272,-2.5)">
<g clip-path="url(#clipmap)">
<polygon points="112.5,46.0 115.4,45.2 119.0,48.5 124.0,43.7 130.0,39.4 137.0,37.2 146.0,37.5 154.0,37.0 161.0,36.3 168.0,36.0 172.5,35.2 174.3,31.0 177.8,31.5 187.3,32.0 199.0,33.4 211.0,32.7 218.0,31.5 219.2,24.5 223.9,20.9 229.4,19.3 232.2,26.8 231.0,33.9 234.6,37.5 241.7,43.4 251.1,48.1 257.0,43.4 260.6,48.1 264.1,52.8 260.6,56.4 262.9,64.6 267.7,69.4 267.7,78.8 265.3,85.9 258.2,88.3 255.8,93.0 255.5,97.0 255.3,103.5 252.5,106.0 256.2,108.6 262.1,115.3 264.6,119.6 262.9,123.8 260.4,130.5 259.6,135.6 255.3,142.4 255.3,147.4 258.7,150.8 260.4,157.6 259.6,164.3 257.0,167.3 254.0,172.5 250.2,177.5 244.3,182.3 241.9,187.1 241.0,190.5 249.0,189.5 256.2,187.7 259.2,188.9 259.8,193.1 257.4,194.3 251.4,196.0 245.4,199.0 244.3,202.6 241.9,203.8 238.3,206.2 235.9,209.2 235.9,212.2 233.5,215.7 235.9,218.1 234.7,221.7 229.9,223.5 228.1,220.5 228.7,216.9 226.4,213.3 222.8,209.8 218.0,209.2 215.7,208.7 208.6,209.8 201.5,208.7 199.1,206.3 192.0,203.9 187.3,207.5 182.6,211.0 180.2,214.6 175.5,219.3 166.0,221.7 157.2,222.6 149.0,224.3 144.1,223.5 144.9,217.7 144.1,214.5 139.2,212.8 131.0,212.0 122.8,211.2 117.9,213.6 108.1,214.5 102.4,214.5 101.5,207.9 95.0,204.6 89.0,205.2 81.3,202.7 73.7,201.4 71.2,193.8 63.5,188.7 55.9,184.9 49.5,181.1 43.2,179.8 38.1,186.2 33.0,190.0 30.4,187.4 25.4,183.6 21.5,178.5 17.7,170.9 15.2,160.7 12.6,145.4 11.4,130.2 15.2,122.5 17.7,121.3 24.1,126.4 30.4,125.1 31.7,130.2 38.1,132.7 43.2,137.8 45.7,144.2 49.5,145.4 55.9,144.2 59.7,142.9 63.5,139.1 66.1,130.2 68.6,128.9 72.4,132.7 78.8,131.5 86.4,130.2 94.1,127.6 100.4,125.1 104.5,123.6 105.3,120.4 106.1,110.9 107.7,101.3 109.3,94.2 112.5,89.4 117.2,87.0 122.0,84.6 121.2,80.7 123.6,75.9 122.8,69.5 123.6,63.2 120.5,60.5 117.0,54.5 113.0,52.0" fill="#e3902c"/>
<g filter="url(#soft)"><rect x="10" y="15" width="10.5" height="10.5" fill="#b2de2a"/>
<rect x="20" y="15" width="10.5" height="10.5" fill="#b2de2a"/>
<rect x="30" y="15" width="10.5" height="10.5" fill="#3ccf3a"/>
<rect x="40" y="15" width="10.5" height="10.5" fill="#3ccf3a"/>
<rect x="50" y="15" width="10.5" height="10.5" fill="#3ccf3a"/>
<rect x="60" y="15" width="10.5" height="10.5" fill="#3ccf3a"/>
<rect x="70" y="15" width="10.5" height="10.5" fill="#3ccf3a"/>
<rect x="80" y="15" width="10.5" height="10.5" fill="#3ccf3a"/>
<rect x="90" y="15" width="10.5" height="10.5" fill="#3ccf3a"/>
<rect x="100" y="15" width="10.5" height="10.5" fill="#3ccf3a"/>
<rect x="110" y="15" width="10.5" height="10.5" fill="#3ccf3a"/>
<rect x="120" y="15" width="10.5" height="10.5" fill="#3ccf3a"/>
<rect x="130" y="15" width="10.5" height="10.5" fill="#3ccf3a"/>
<rect x="140" y="15" width="10.5" height="10.5" fill="#eba823"/>
<rect x="150" y="15" width="10.5" height="10.5" fill="#eba823"/>
<rect x="160" y="15" width="10.5" height="10.5" fill="#df852b"/>
<rect x="170" y="15" width="10.5" height="10.5" fill="#eba823"/>
<rect x="180" y="15" width="10.5" height="10.5" fill="#eba823"/>
<rect x="190" y="15" width="10.5" height="10.5" fill="#eba823"/>
<rect x="200" y="15" width="10.5" height="10.5" fill="#eba823"/>
<rect x="210" y="15" width="10.5" height="10.5" fill="#eba823"/>
<rect x="220" y="15" width="10.5" height="10.5" fill="#eba823"/>
<rect x="230" y="15" width="10.5" height="10.5" fill="#eba823"/>
<rect x="240" y="15" width="10.5" height="10.5" fill="#eba823"/>
<rect x="250" y="15" width="10.5" height="10.5" fill="#eba823"/>
<rect x="260" y="15" width="10.5" height="10.5" fill="#df852b"/>
<rect x="10" y="25" width="10.5" height="10.5" fill="#b2de2a"/>
<rect x="20" y="25" width="10.5" height="10.5" fill="#b2de2a"/>
<rect x="30" y="25" width="10.5" height="10.5" fill="#3ccf3a"/>
<rect x="40" y="25" width="10.5" height="10.5" fill="#3ccf3a"/>
<rect x="50" y="25" width="10.5" height="10.5" fill="#3ccf3a"/>
<rect x="60" y="25" width="10.5" height="10.5" fill="#3ccf3a"/>
<rect x="70" y="25" width="10.5" height="10.5" fill="#3ccf3a"/>
<rect x="80" y="25" width="10.5" height="10.5" fill="#3ccf3a"/>
<rect x="90" y="25" width="10.5" height="10.5" fill="#3ccf3a"/>
<rect x="100" y="25" width="10.5" height="10.5" fill="#3ccf3a"/>
<rect x="110" y="25" width="10.5" height="10.5" fill="#3ccf3a"/>
<rect x="120" y="25" width="10.5" height="10.5" fill="#3ccf3a"/>
<rect x="130" y="25" width="10.5" height="10.5" fill="#3ccf3a"/>
<rect x="140" y="25" width="10.5" height="10.5" fill="#eba823"/>
<rect x="150" y="25" width="10.5" height="10.5" fill="#eba823"/>
<rect x="160" y="25" width="10.5" height="10.5" fill="#df852b"/>
<rect x="170" y="25" width="10.5" height="10.5" fill="#eba823"/>
<rect x="180" y="25" width="10.5" height="10.5" fill="#eba823"/>
<rect x="190" y="25" width="10.5" height="10.5" fill="#eba823"/>
<rect x="200" y="25" width="10.5" height="10.5" fill="#eba823"/>
<rect x="210" y="25" width="10.5" height="10.5" fill="#eba823"/>
<rect x="220" y="25" width="10.5" height="10.5" fill="#eba823"/>
<rect x="230" y="25" width="10.5" height="10.5" fill="#eba823"/>
<rect x="240" y="25" width="10.5" height="10.5" fill="#eba823"/>
<rect x="250" y="25" width="10.5" height="10.5" fill="#df852b"/>
<rect x="260" y="25" width="10.5" height="10.5" fill="#df852b"/>
<rect x="10" y="35" width="10.5" height="10.5" fill="#b2de2a"/>
<rect x="20" y="35" width="10.5" height="10.5" fill="#b2de2a"/>
<rect x="30" y="35" width="10.5" height="10.5" fill="#3ccf3a"/>
<rect x="40" y="35" width="10.5" height="10.5" fill="#3ccf3a"/>
<rect x="50" y="35" width="10.5" height="10.5" fill="#3ccf3a"/>
<rect x="60" y="35" width="10.5" height="10.5" fill="#3ccf3a"/>
<rect x="70" y="35" width="10.5" height="10.5" fill="#3ccf3a"/>
<rect x="80" y="35" width="10.5" height="10.5" fill="#3ccf3a"/>
<rect x="90" y="35" width="10.5" height="10.5" fill="#3ccf3a"/>
<rect x="100" y="35" width="10.5" height="10.5" fill="#3ccf3a"/>
<rect x="110" y="35" width="10.5" height="10.5" fill="#3ccf3a"/>
<rect x="120" y="35" width="10.5" height="10.5" fill="#3ccf3a"/>
<rect x="130" y="35" width="10.5" height="10.5" fill="#3ccf3a"/>
<rect x="140" y="35" width="10.5" height="10.5" fill="#eba823"/>
<rect x="150" y="35" width="10.5" height="10.5" fill="#eba823"/>
<rect x="160" y="35" width="10.5" height="10.5" fill="#df852b"/>
<rect x="170" y="35" width="10.5" height="10.5" fill="#eba823"/>
<rect x="180" y="35" width="10.5" height="10.5" fill="#eba823"/>
<rect x="190" y="35" width="10.5" height="10.5" fill="#eba823"/>
<rect x="200" y="35" width="10.5" height="10.5" fill="#b2de2a"/>
<rect x="210" y="35" width="10.5" height="10.5" fill="#b2de2a"/>
<rect x="220" y="35" width="10.5" height="10.5" fill="#eba823"/>
<rect x="230" y="35" width="10.5" height="10.5" fill="#eba823"/>
<rect x="240" y="35" width="10.5" height="10.5" fill="#eba823"/>
<rect x="250" y="35" width="10.5" height="10.5" fill="#df852b"/>
<rect x="260" y="35" width="10.5" height="10.5" fill="#df852b"/>
<rect x="10" y="45" width="10.5" height="10.5" fill="#b2de2a"/>
<rect x="20" y="45" width="10.5" height="10.5" fill="#b2de2a"/>
<rect x="30" y="45" width="10.5" height="10.5" fill="#cf5639"/>
<rect x="40" y="45" width="10.5" height="10.5" fill="#cf5639"/>
<rect x="50" y="45" width="10.5" height="10.5" fill="#cf5639"/>
<rect x="60" y="45" width="10.5" height="10.5" fill="#cf5639"/>
<rect x="70" y="45" width="10.5" height="10.5" fill="#cf5639"/>
<rect x="80" y="45" width="10.5" height="10.5" fill="#cf5639"/>
<rect x="90" y="45" width="10.5" height="10.5" fill="#cf5639"/>
<rect x="100" y="45" width="10.5" height="10.5" fill="#cf5639"/>
<rect x="110" y="45" width="10.5" height="10.5" fill="#cf5639"/>
<rect x="120" y="45" width="10.5" height="10.5" fill="#3ccf3a"/>
<rect x="130" y="45" width="10.5" height="10.5" fill="#b2de2a"/>
<rect x="140" y="45" width="10.5" height="10.5" fill="#d86c33"/>
<rect x="150" y="45" width="10.5" height="10.5" fill="#d86c33"/>
<rect x="160" y="45" width="10.5" height="10.5" fill="#e6982a"/>
<rect x="170" y="45" width="10.5" height="10.5" fill="#d86c33"/>
<rect x="180" y="45" width="10.5" height="10.5" fill="#e6982a"/>
<rect x="190" y="45" width="10.5" height="10.5" fill="#eba823"/>
<rect x="200" y="45" width="10.5" height="10.5" fill="#df852b"/>
<rect x="210" y="45" width="10.5" height="10.5" fill="#eba823"/>
<rect x="220" y="45" width="10.5" height="10.5" fill="#eba823"/>
<rect x="230" y="45" width="10.5" height="10.5" fill="#df852b"/>
<rect x="240" y="45" width="10.5" height="10.5" fill="#df852b"/>
<rect x="250" y="45" width="10.5" height="10.5" fill="#df852b"/>
<rect x="260" y="45" width="10.5" height="10.5" fill="#df852b"/>
<rect x="10" y="55" width="10.5" height="10.5" fill="#b2de2a"/>
<rect x="20" y="55" width="10.5" height="10.5" fill="#b2de2a"/>
<rect x="30" y="55" width="10.5" height="10.5" fill="#b2de2a"/>
<rect x="40" y="55" width="10.5" height="10.5" fill="#cf5639"/>
<rect x="50" y="55" width="10.5" height="10.5" fill="#cf5639"/>
<rect x="60" y="55" width="10.5" height="10.5" fill="#cf5639"/>
<rect x="70" y="55" width="10.5" height="10.5" fill="#cf5639"/>
<rect x="80" y="55" width="10.5" height="10.5" fill="#cf5639"/>
<rect x="90" y="55" width="10.5" height="10.5" fill="#cf5639"/>
<rect x="100" y="55" width="10.5" height="10.5" fill="#cf5639"/>
<rect x="110" y="55" width="10.5" height="10.5" fill="#cf5639"/>
<rect x="120" y="55" width="10.5" height="10.5" fill="#cf5639"/>
<rect x="130" y="55" width="10.5" height="10.5" fill="#cf5639"/>
<rect x="140" y="55" width="10.5" height="10.5" fill="#cf5639"/>
<rect x="150" y="55" width="10.5" height="10.5" fill="#cf5639"/>
<rect x="160" y="55" width="10.5" height="10.5" fill="#cf5639"/>
<rect x="170" y="55" width="10.5" height="10.5" fill="#cf5639"/>
<rect x="180" y="55" width="10.5" height="10.5" fill="#d86c33"/>
<rect x="190" y="55" width="10.5" height="10.5" fill="#df852b"/>
<rect x="200" y="55" width="10.5" height="10.5" fill="#df852b"/>
<rect x="210" y="55" width="10.5" height="10.5" fill="#eba823"/>
<rect x="220" y="55" width="10.5" height="10.5" fill="#df852b"/>
<rect x="230" y="55" width="10.5" height="10.5" fill="#df852b"/>
<rect x="240" y="55" width="10.5" height="10.5" fill="#d86c33"/>
<rect x="250" y="55" width="10.5" height="10.5" fill="#df852b"/>
<rect x="260" y="55" width="10.5" height="10.5" fill="#df852b"/>
<rect x="10" y="65" width="10.5" height="10.5" fill="#b2de2a"/>
<rect x="20" y="65" width="10.5" height="10.5" fill="#b2de2a"/>
<rect x="30" y="65" width="10.5" height="10.5" fill="#b2de2a"/>
<rect x="40" y="65" width="10.5" height="10.5" fill="#b2de2a"/>
<rect x="50" y="65" width="10.5" height="10.5" fill="#cf5639"/>
<rect x="60" y="65" width="10.5" height="10.5" fill="#cf5639"/>
<rect x="70" y="65" width="10.5" height="10.5" fill="#cf5639"/>
<rect x="80" y="65" width="10.5" height="10.5" fill="#cf5639"/>
<rect x="90" y="65" width="10.5" height="10.5" fill="#cf5639"/>
<rect x="100" y="65" width="10.5" height="10.5" fill="#cf5639"/>
<rect x="110" y="65" width="10.5" height="10.5" fill="#cf5639"/>
<rect x="120" y="65" width="10.5" height="10.5" fill="#cf5639"/>
<rect x="130" y="65" width="10.5" height="10.5" fill="#cf5639"/>
<rect x="140" y="65" width="10.5" height="10.5" fill="#cf5639"/>
<rect x="150" y="65" width="10.5" height="10.5" fill="#d86c33"/>
<rect x="160" y="65" width="10.5" height="10.5" fill="#e6982a"/>
<rect x="170" y="65" width="10.5" height="10.5" fill="#ecc427"/>
<rect x="180" y="65" width="10.5" height="10.5" fill="#ecc427"/>
<rect x="190" y="65" width="10.5" height="10.5" fill="#df852b"/>
<rect x="200" y="65" width="10.5" height="10.5" fill="#df852b"/>
<rect x="210" y="65" width="10.5" height="10.5" fill="#eba823"/>
<rect x="220" y="65" width="10.5" height="10.5" fill="#df852b"/>
<rect x="230" y="65" width="10.5" height="10.5" fill="#df852b"/>
<rect x="240" y="65" width="10.5" height="10.5" fill="#df852b"/>
<rect x="250" y="65" width="10.5" height="10.5" fill="#eba823"/>
<rect x="260" y="65" width="10.5" height="10.5" fill="#b2de2a"/>
<rect x="10" y="75" width="10.5" height="10.5" fill="#b2de2a"/>
<rect x="20" y="75" width="10.5" height="10.5" fill="#b2de2a"/>
<rect x="30" y="75" width="10.5" height="10.5" fill="#b2de2a"/>
<rect x="40" y="75" width="10.5" height="10.5" fill="#b2de2a"/>
<rect x="50" y="75" width="10.5" height="10.5" fill="#df852b"/>
<rect x="60" y="75" width="10.5" height="10.5" fill="#df852b"/>
<rect x="70" y="75" width="10.5" height="10.5" fill="#df852b"/>
<rect x="80" y="75" width="10.5" height="10.5" fill="#df852b"/>
<rect x="90" y="75" width="10.5" height="10.5" fill="#df852b"/>
<rect x="100" y="75" width="10.5" height="10.5" fill="#df852b"/>
<rect x="110" y="75" width="10.5" height="10.5" fill="#df852b"/>
<rect x="120" y="75" width="10.5" height="10.5" fill="#df852b"/>
<rect x="130" y="75" width="10.5" height="10.5" fill="#e6ec22"/>
<rect x="140" y="75" width="10.5" height="10.5" fill="#ecc427"/>
<rect x="150" y="75" width="10.5" height="10.5" fill="#e6ec22"/>
<rect x="160" y="75" width="10.5" height="10.5" fill="#e6ec22"/>
<rect x="170" y="75" width="10.5" height="10.5" fill="#e6ec22"/>
<rect x="180" y="75" width="10.5" height="10.5" fill="#eba823"/>
<rect x="190" y="75" width="10.5" height="10.5" fill="#df852b"/>
<rect x="200" y="75" width="10.5" height="10.5" fill="#df852b"/>
<rect x="210" y="75" width="10.5" height="10.5" fill="#eba823"/>
<rect x="220" y="75" width="10.5" height="10.5" fill="#df852b"/>
<rect x="230" y="75" width="10.5" height="10.5" fill="#df852b"/>
<rect x="240" y="75" width="10.5" height="10.5" fill="#eba823"/>
<rect x="250" y="75" width="10.5" height="10.5" fill="#b2de2a"/>
<rect x="260" y="75" width="10.5" height="10.5" fill="#3ccf3a"/>
<rect x="10" y="85" width="10.5" height="10.5" fill="#b2de2a"/>
<rect x="20" y="85" width="10.5" height="10.5" fill="#b2de2a"/>
<rect x="30" y="85" width="10.5" height="10.5" fill="#b2de2a"/>
<rect x="40" y="85" width="10.5" height="10.5" fill="#b2de2a"/>
<rect x="50" y="85" width="10.5" height="10.5" fill="#df852b"/>
<rect x="60" y="85" width="10.5" height="10.5" fill="#df852b"/>
<rect x="70" y="85" width="10.5" height="10.5" fill="#df852b"/>
<rect x="80" y="85" width="10.5" height="10.5" fill="#df852b"/>
<rect x="90" y="85" width="10.5" height="10.5" fill="#df852b"/>
<rect x="100" y="85" width="10.5" height="10.5" fill="#df852b"/>
<rect x="110" y="85" width="10.5" height="10.5" fill="#df852b"/>
<rect x="120" y="85" width="10.5" height="10.5" fill="#e6982a"/>
<rect x="130" y="85" width="10.5" height="10.5" fill="#e6ec22"/>
<rect x="140" y="85" width="10.5" height="10.5" fill="#eba823"/>
<rect x="150" y="85" width="10.5" height="10.5" fill="#e6ec22"/>
<rect x="160" y="85" width="10.5" height="10.5" fill="#ecc427"/>
<rect x="170" y="85" width="10.5" height="10.5" fill="#e6ec22"/>
<rect x="180" y="85" width="10.5" height="10.5" fill="#eba823"/>
<rect x="190" y="85" width="10.5" height="10.5" fill="#df852b"/>
<rect x="200" y="85" width="10.5" height="10.5" fill="#eba823"/>
<rect x="210" y="85" width="10.5" height="10.5" fill="#b2de2a"/>
<rect x="220" y="85" width="10.5" height="10.5" fill="#eba823"/>
<rect x="230" y="85" width="10.5" height="10.5" fill="#b2de2a"/>
<rect x="240" y="85" width="10.5" height="10.5" fill="#b2de2a"/>
<rect x="250" y="85" width="10.5" height="10.5" fill="#b2de2a"/>
<rect x="260" y="85" width="10.5" height="10.5" fill="#3ccf3a"/>
<rect x="10" y="95" width="10.5" height="10.5" fill="#b2de2a"/>
<rect x="20" y="95" width="10.5" height="10.5" fill="#b2de2a"/>
<rect x="30" y="95" width="10.5" height="10.5" fill="#b2de2a"/>
<rect x="40" y="95" width="10.5" height="10.5" fill="#b2de2a"/>
<rect x="50" y="95" width="10.5" height="10.5" fill="#df852b"/>
<rect x="60" y="95" width="10.5" height="10.5" fill="#df852b"/>
<rect x="70" y="95" width="10.5" height="10.5" fill="#b2de2a"/>
<rect x="80" y="95" width="10.5" height="10.5" fill="#b2de2a"/>
<rect x="90" y="95" width="10.5" height="10.5" fill="#b2de2a"/>
<rect x="100" y="95" width="10.5" height="10.5" fill="#b2de2a"/>
<rect x="110" y="95" width="10.5" height="10.5" fill="#b2de2a"/>
<rect x="120" y="95" width="10.5" height="10.5" fill="#df852b"/>
<rect x="130" y="95" width="10.5" height="10.5" fill="#eba823"/>
<rect x="140" y="95" width="10.5" height="10.5" fill="#eba823"/>
<rect x="150" y="95" width="10.5" height="10.5" fill="#eba823"/>
<rect x="160" y="95" width="10.5" height="10.5" fill="#eba823"/>
<rect x="170" y="95" width="10.5" height="10.5" fill="#eba823"/>
<rect x="180" y="95" width="10.5" height="10.5" fill="#eba823"/>
<rect x="190" y="95" width="10.5" height="10.5" fill="#eba823"/>
<rect x="200" y="95" width="10.5" height="10.5" fill="#b2de2a"/>
<rect x="210" y="95" width="10.5" height="10.5" fill="#b2de2a"/>
<rect x="220" y="95" width="10.5" height="10.5" fill="#eba823"/>
<rect x="230" y="95" width="10.5" height="10.5" fill="#e6982a"/>
<rect x="240" y="95" width="10.5" height="10.5" fill="#b2de2a"/>
<rect x="250" y="95" width="10.5" height="10.5" fill="#eba823"/>
<rect x="260" y="95" width="10.5" height="10.5" fill="#eba823"/>
<rect x="10" y="105" width="10.5" height="10.5" fill="#b2de2a"/>
<rect x="20" y="105" width="10.5" height="10.5" fill="#b2de2a"/>
<rect x="30" y="105" width="10.5" height="10.5" fill="#b2de2a"/>
<rect x="40" y="105" width="10.5" height="10.5" fill="#b2de2a"/>
<rect x="50" y="105" width="10.5" height="10.5" fill="#df852b"/>
<rect x="60" y="105" width="10.5" height="10.5" fill="#df852b"/>
<rect x="70" y="105" width="10.5" height="10.5" fill="#cf5639"/>
<rect x="80" y="105" width="10.5" height="10.5" fill="#b2de2a"/>
<rect x="90" y="105" width="10.5" height="10.5" fill="#b2de2a"/>
<rect x="100" y="105" width="10.5" height="10.5" fill="#b2de2a"/>
<rect x="110" y="105" width="10.5" height="10.5" fill="#b2de2a"/>
<rect x="120" y="105" width="10.5" height="10.5" fill="#df852b"/>
<rect x="130" y="105" width="10.5" height="10.5" fill="#eba823"/>
<rect x="140" y="105" width="10.5" height="10.5" fill="#eba823"/>
<rect x="150" y="105" width="10.5" height="10.5" fill="#eba823"/>
<rect x="160" y="105" width="10.5" height="10.5" fill="#eba823"/>
<rect x="170" y="105" width="10.5" height="10.5" fill="#e6982a"/>
<rect x="180" y="105" width="10.5" height="10.5" fill="#e6982a"/>
<rect x="190" y="105" width="10.5" height="10.5" fill="#df852b"/>
<rect x="200" y="105" width="10.5" height="10.5" fill="#3ccf3a"/>
<rect x="210" y="105" width="10.5" height="10.5" fill="#b2de2a"/>
<rect x="220" y="105" width="10.5" height="10.5" fill="#e6982a"/>
<rect x="230" y="105" width="10.5" height="10.5" fill="#eba823"/>
<rect x="240" y="105" width="10.5" height="10.5" fill="#eba823"/>
<rect x="250" y="105" width="10.5" height="10.5" fill="#e6982a"/>
<rect x="260" y="105" width="10.5" height="10.5" fill="#e6982a"/>
<rect x="10" y="115" width="10.5" height="10.5" fill="#b2de2a"/>
<rect x="20" y="115" width="10.5" height="10.5" fill="#b2de2a"/>
<rect x="30" y="115" width="10.5" height="10.5" fill="#b2de2a"/>
<rect x="40" y="115" width="10.5" height="10.5" fill="#b2de2a"/>
<rect x="50" y="115" width="10.5" height="10.5" fill="#df852b"/>
<rect x="60" y="115" width="10.5" height="10.5" fill="#df852b"/>
<rect x="70" y="115" width="10.5" height="10.5" fill="#cf5639"/>
<rect x="80" y="115" width="10.5" height="10.5" fill="#df852b"/>
<rect x="90" y="115" width="10.5" height="10.5" fill="#df852b"/>
<rect x="100" y="115" width="10.5" height="10.5" fill="#df852b"/>
<rect x="110" y="115" width="10.5" height="10.5" fill="#df852b"/>
<rect x="120" y="115" width="10.5" height="10.5" fill="#df852b"/>
<rect x="130" y="115" width="10.5" height="10.5" fill="#e6982a"/>
<rect x="140" y="115" width="10.5" height="10.5" fill="#eba823"/>
<rect x="150" y="115" width="10.5" height="10.5" fill="#eba823"/>
<rect x="160" y="115" width="10.5" height="10.5" fill="#eba823"/>
<rect x="170" y="115" width="10.5" height="10.5" fill="#df852b"/>
<rect x="180" y="115" width="10.5" height="10.5" fill="#df852b"/>
<rect x="190" y="115" width="10.5" height="10.5" fill="#df852b"/>
<rect x="200" y="115" width="10.5" height="10.5" fill="#2bb276"/>
<rect x="210" y="115" width="10.5" height="10.5" fill="#2a8490"/>
<rect x="220" y="115" width="10.5" height="10.5" fill="#b2de2a"/>
<rect x="230" y="115" width="10.5" height="10.5" fill="#d86c33"/>
<rect x="240" y="115" width="10.5" height="10.5" fill="#eba823"/>
<rect x="250" y="115" width="10.5" height="10.5" fill="#e6982a"/>
<rect x="260" y="115" width="10.5" height="10.5" fill="#e6982a"/>
<rect x="10" y="125" width="10.5" height="10.5" fill="#b2de2a"/>
<rect x="20" y="125" width="10.5" height="10.5" fill="#b2de2a"/>
<rect x="30" y="125" width="10.5" height="10.5" fill="#e6982a"/>
<rect x="40" y="125" width="10.5" height="10.5" fill="#e6982a"/>
<rect x="50" y="125" width="10.5" height="10.5" fill="#df852b"/>
<rect x="60" y="125" width="10.5" height="10.5" fill="#df852b"/>
<rect x="70" y="125" width="10.5" height="10.5" fill="#cf5639"/>
<rect x="80" y="125" width="10.5" height="10.5" fill="#df852b"/>
<rect x="90" y="125" width="10.5" height="10.5" fill="#df852b"/>
<rect x="100" y="125" width="10.5" height="10.5" fill="#b2de2a"/>
<rect x="110" y="125" width="10.5" height="10.5" fill="#df852b"/>
<rect x="120" y="125" width="10.5" height="10.5" fill="#df852b"/>
<rect x="130" y="125" width="10.5" height="10.5" fill="#df852b"/>
<rect x="140" y="125" width="10.5" height="10.5" fill="#e6982a"/>
<rect x="150" y="125" width="10.5" height="10.5" fill="#eba823"/>
<rect x="160" y="125" width="10.5" height="10.5" fill="#eba823"/>
<rect x="170" y="125" width="10.5" height="10.5" fill="#eba823"/>
<rect x="180" y="125" width="10.5" height="10.5" fill="#eba823"/>
<rect x="190" y="125" width="10.5" height="10.5" fill="#df852b"/>
<rect x="200" y="125" width="10.5" height="10.5" fill="#b2de2a"/>
<rect x="210" y="125" width="10.5" height="10.5" fill="#2a8490"/>
<rect x="220" y="125" width="10.5" height="10.5" fill="#df852b"/>
<rect x="230" y="125" width="10.5" height="10.5" fill="#b2de2a"/>
<rect x="240" y="125" width="10.5" height="10.5" fill="#b2de2a"/>
<rect x="250" y="125" width="10.5" height="10.5" fill="#b2de2a"/>
<rect x="260" y="125" width="10.5" height="10.5" fill="#b2de2a"/>
<rect x="10" y="135" width="10.5" height="10.5" fill="#eba823"/>
<rect x="20" y="135" width="10.5" height="10.5" fill="#b2de2a"/>
<rect x="30" y="135" width="10.5" height="10.5" fill="#b2de2a"/>
<rect x="40" y="135" width="10.5" height="10.5" fill="#3ccf3a"/>
<rect x="50" y="135" width="10.5" height="10.5" fill="#3ccf3a"/>
<rect x="60" y="135" width="10.5" height="10.5" fill="#df852b"/>
<rect x="70" y="135" width="10.5" height="10.5" fill="#d86c33"/>
<rect x="80" y="135" width="10.5" height="10.5" fill="#e6982a"/>
<rect x="90" y="135" width="10.5" height="10.5" fill="#df852b"/>
<rect x="100" y="135" width="10.5" height="10.5" fill="#df852b"/>
<rect x="110" y="135" width="10.5" height="10.5" fill="#df852b"/>
<rect x="120" y="135" width="10.5" height="10.5" fill="#df852b"/>
<rect x="130" y="135" width="10.5" height="10.5" fill="#df852b"/>
<rect x="140" y="135" width="10.5" height="10.5" fill="#eba823"/>
<rect x="150" y="135" width="10.5" height="10.5" fill="#eba823"/>
<rect x="160" y="135" width="10.5" height="10.5" fill="#eba823"/>
<rect x="170" y="135" width="10.5" height="10.5" fill="#eba823"/>
<rect x="180" y="135" width="10.5" height="10.5" fill="#eba823"/>
<rect x="190" y="135" width="10.5" height="10.5" fill="#e6982a"/>
<rect x="200" y="135" width="10.5" height="10.5" fill="#3ccf3a"/>
<rect x="210" y="135" width="10.5" height="10.5" fill="#e6982a"/>
<rect x="220" y="135" width="10.5" height="10.5" fill="#2bb276"/>
<rect x="230" y="135" width="10.5" height="10.5" fill="#eba823"/>
<rect x="240" y="135" width="10.5" height="10.5" fill="#eba823"/>
<rect x="250" y="135" width="10.5" height="10.5" fill="#b2de2a"/>
<rect x="260" y="135" width="10.5" height="10.5" fill="#b2de2a"/>
<rect x="10" y="145" width="10.5" height="10.5" fill="#e6982a"/>
<rect x="20" y="145" width="10.5" height="10.5" fill="#eba823"/>
<rect x="30" y="145" width="10.5" height="10.5" fill="#eba823"/>
<rect x="40" y="145" width="10.5" height="10.5" fill="#b2de2a"/>
<rect x="50" y="145" width="10.5" height="10.5" fill="#df852b"/>
<rect x="60" y="145" width="10.5" height="10.5" fill="#df852b"/>
<rect x="70" y="145" width="10.5" height="10.5" fill="#df852b"/>
<rect x="80" y="145" width="10.5" height="10.5" fill="#df852b"/>
<rect x="90" y="145" width="10.5" height="10.5" fill="#df852b"/>
<rect x="100" y="145" width="10.5" height="10.5" fill="#df852b"/>
<rect x="110" y="145" width="10.5" height="10.5" fill="#df852b"/>
<rect x="120" y="145" width="10.5" height="10.5" fill="#df852b"/>
<rect x="130" y="145" width="10.5" height="10.5" fill="#e6982a"/>
<rect x="140" y="145" width="10.5" height="10.5" fill="#eba823"/>
<rect x="150" y="145" width="10.5" height="10.5" fill="#eba823"/>
<rect x="160" y="145" width="10.5" height="10.5" fill="#eba823"/>
<rect x="170" y="145" width="10.5" height="10.5" fill="#eba823"/>
<rect x="180" y="145" width="10.5" height="10.5" fill="#eba823"/>
<rect x="190" y="145" width="10.5" height="10.5" fill="#e6982a"/>
<rect x="200" y="145" width="10.5" height="10.5" fill="#b2de2a"/>
<rect x="210" y="145" width="10.5" height="10.5" fill="#b2de2a"/>
<rect x="220" y="145" width="10.5" height="10.5" fill="#2a8490"/>
<rect x="230" y="145" width="10.5" height="10.5" fill="#b2de2a"/>
<rect x="240" y="145" width="10.5" height="10.5" fill="#eba823"/>
<rect x="250" y="145" width="10.5" height="10.5" fill="#b2de2a"/>
<rect x="260" y="145" width="10.5" height="10.5" fill="#b2de2a"/>
<rect x="10" y="155" width="10.5" height="10.5" fill="#e6982a"/>
<rect x="20" y="155" width="10.5" height="10.5" fill="#eba823"/>
<rect x="30" y="155" width="10.5" height="10.5" fill="#eba823"/>
<rect x="40" y="155" width="10.5" height="10.5" fill="#eba823"/>
<rect x="50" y="155" width="10.5" height="10.5" fill="#df852b"/>
<rect x="60" y="155" width="10.5" height="10.5" fill="#df852b"/>
<rect x="70" y="155" width="10.5" height="10.5" fill="#df852b"/>
<rect x="80" y="155" width="10.5" height="10.5" fill="#d86c33"/>
<rect x="90" y="155" width="10.5" height="10.5" fill="#df852b"/>
<rect x="100" y="155" width="10.5" height="10.5" fill="#df852b"/>
<rect x="110" y="155" width="10.5" height="10.5" fill="#df852b"/>
<rect x="120" y="155" width="10.5" height="10.5" fill="#df852b"/>
<rect x="130" y="155" width="10.5" height="10.5" fill="#eba823"/>
<rect x="140" y="155" width="10.5" height="10.5" fill="#eba823"/>
<rect x="150" y="155" width="10.5" height="10.5" fill="#b2de2a"/>
<rect x="160" y="155" width="10.5" height="10.5" fill="#3ccf3a"/>
<rect x="170" y="155" width="10.5" height="10.5" fill="#b2de2a"/>
<rect x="180" y="155" width="10.5" height="10.5" fill="#3ccf3a"/>
<rect x="190" y="155" width="10.5" height="10.5" fill="#e6982a"/>
<rect x="200" y="155" width="10.5" height="10.5" fill="#b2de2a"/>
<rect x="210" y="155" width="10.5" height="10.5" fill="#b2de2a"/>
<rect x="220" y="155" width="10.5" height="10.5" fill="#eba823"/>
<rect x="230" y="155" width="10.5" height="10.5" fill="#b2de2a"/>
<rect x="240" y="155" width="10.5" height="10.5" fill="#e6982a"/>
<rect x="250" y="155" width="10.5" height="10.5" fill="#e6982a"/>
<rect x="260" y="155" width="10.5" height="10.5" fill="#e6982a"/>
<rect x="10" y="165" width="10.5" height="10.5" fill="#e6982a"/>
<rect x="20" y="165" width="10.5" height="10.5" fill="#e6982a"/>
<rect x="30" y="165" width="10.5" height="10.5" fill="#eba823"/>
<rect x="40" y="165" width="10.5" height="10.5" fill="#e6982a"/>
<rect x="50" y="165" width="10.5" height="10.5" fill="#df852b"/>
<rect x="60" y="165" width="10.5" height="10.5" fill="#d86c33"/>
<rect x="70" y="165" width="10.5" height="10.5" fill="#d86c33"/>
<rect x="80" y="165" width="10.5" height="10.5" fill="#df852b"/>
<rect x="90" y="165" width="10.5" height="10.5" fill="#d86c33"/>
<rect x="100" y="165" width="10.5" height="10.5" fill="#df852b"/>
<rect x="110" y="165" width="10.5" height="10.5" fill="#df852b"/>
<rect x="120" y="165" width="10.5" height="10.5" fill="#e6982a"/>
<rect x="130" y="165" width="10.5" height="10.5" fill="#eba823"/>
<rect x="140" y="165" width="10.5" height="10.5" fill="#eba823"/>
<rect x="150" y="165" width="10.5" height="10.5" fill="#3ccf3a"/>
<rect x="160" y="165" width="10.5" height="10.5" fill="#3ccf3a"/>
<rect x="170" y="165" width="10.5" height="10.5" fill="#3ccf3a"/>
<rect x="180" y="165" width="10.5" height="10.5" fill="#2bb276"/>
<rect x="190" y="165" width="10.5" height="10.5" fill="#2bb276"/>
<rect x="200" y="165" width="10.5" height="10.5" fill="#b2de2a"/>
<rect x="210" y="165" width="10.5" height="10.5" fill="#b2de2a"/>
<rect x="220" y="165" width="10.5" height="10.5" fill="#b2de2a"/>
<rect x="230" y="165" width="10.5" height="10.5" fill="#b2de2a"/>
<rect x="240" y="165" width="10.5" height="10.5" fill="#e6982a"/>
<rect x="250" y="165" width="10.5" height="10.5" fill="#eba823"/>
<rect x="260" y="165" width="10.5" height="10.5" fill="#eba823"/>
<rect x="10" y="175" width="10.5" height="10.5" fill="#e6982a"/>
<rect x="20" y="175" width="10.5" height="10.5" fill="#e6982a"/>
<rect x="30" y="175" width="10.5" height="10.5" fill="#eba823"/>
<rect x="40" y="175" width="10.5" height="10.5" fill="#b2de2a"/>
<rect x="50" y="175" width="10.5" height="10.5" fill="#b2de2a"/>
<rect x="60" y="175" width="10.5" height="10.5" fill="#df852b"/>
<rect x="70" y="175" width="10.5" height="10.5" fill="#cf5639"/>
<rect x="80" y="175" width="10.5" height="10.5" fill="#df852b"/>
<rect x="90" y="175" width="10.5" height="10.5" fill="#df852b"/>
<rect x="100" y="175" width="10.5" height="10.5" fill="#b2de2a"/>
<rect x="110" y="175" width="10.5" height="10.5" fill="#eba823"/>
<rect x="120" y="175" width="10.5" height="10.5" fill="#b2de2a"/>
<rect x="130" y="175" width="10.5" height="10.5" fill="#b2de2a"/>
<rect x="140" y="175" width="10.5" height="10.5" fill="#b2de2a"/>
<rect x="150" y="175" width="10.5" height="10.5" fill="#b2de2a"/>
<rect x="160" y="175" width="10.5" height="10.5" fill="#3ccf3a"/>
<rect x="170" y="175" width="10.5" height="10.5" fill="#b2de2a"/>
<rect x="180" y="175" width="10.5" height="10.5" fill="#b2de2a"/>
<rect x="190" y="175" width="10.5" height="10.5" fill="#b2de2a"/>
<rect x="200" y="175" width="10.5" height="10.5" fill="#b2de2a"/>
<rect x="210" y="175" width="10.5" height="10.5" fill="#b2de2a"/>
<rect x="220" y="175" width="10.5" height="10.5" fill="#3ccf3a"/>
<rect x="230" y="175" width="10.5" height="10.5" fill="#b2de2a"/>
<rect x="240" y="175" width="10.5" height="10.5" fill="#b2de2a"/>
<rect x="250" y="175" width="10.5" height="10.5" fill="#eba823"/>
<rect x="260" y="175" width="10.5" height="10.5" fill="#eba823"/>
<rect x="10" y="185" width="10.5" height="10.5" fill="#e6982a"/>
<rect x="20" y="185" width="10.5" height="10.5" fill="#e6982a"/>
<rect x="30" y="185" width="10.5" height="10.5" fill="#eba823"/>
<rect x="40" y="185" width="10.5" height="10.5" fill="#b2de2a"/>
<rect x="50" y="185" width="10.5" height="10.5" fill="#b2de2a"/>
<rect x="60" y="185" width="10.5" height="10.5" fill="#b2de2a"/>
<rect x="70" y="185" width="10.5" height="10.5" fill="#df852b"/>
<rect x="80" y="185" width="10.5" height="10.5" fill="#d86c33"/>
<rect x="90" y="185" width="10.5" height="10.5" fill="#df852b"/>
<rect x="100" y="185" width="10.5" height="10.5" fill="#eba823"/>
<rect x="110" y="185" width="10.5" height="10.5" fill="#b2de2a"/>
<rect x="120" y="185" width="10.5" height="10.5" fill="#b2de2a"/>
<rect x="130" y="185" width="10.5" height="10.5" fill="#3ccf3a"/>
<rect x="140" y="185" width="10.5" height="10.5" fill="#2bb276"/>
<rect x="150" y="185" width="10.5" height="10.5" fill="#3ccf3a"/>
<rect x="160" y="185" width="10.5" height="10.5" fill="#3ccf3a"/>
<rect x="170" y="185" width="10.5" height="10.5" fill="#2a8490"/>
<rect x="180" y="185" width="10.5" height="10.5" fill="#3ccf3a"/>
<rect x="190" y="185" width="10.5" height="10.5" fill="#b2de2a"/>
<rect x="200" y="185" width="10.5" height="10.5" fill="#b2de2a"/>
<rect x="210" y="185" width="10.5" height="10.5" fill="#3ccf3a"/>
<rect x="220" y="185" width="10.5" height="10.5" fill="#b2de2a"/>
<rect x="230" y="185" width="10.5" height="10.5" fill="#b2de2a"/>
<rect x="240" y="185" width="10.5" height="10.5" fill="#3ccf3a"/>
<rect x="250" y="185" width="10.5" height="10.5" fill="#3ccf3a"/>
<rect x="260" y="185" width="10.5" height="10.5" fill="#3ccf3a"/>
<rect x="10" y="195" width="10.5" height="10.5" fill="#e6982a"/>
<rect x="20" y="195" width="10.5" height="10.5" fill="#e6982a"/>
<rect x="30" y="195" width="10.5" height="10.5" fill="#eba823"/>
<rect x="40" y="195" width="10.5" height="10.5" fill="#b2de2a"/>
<rect x="50" y="195" width="10.5" height="10.5" fill="#b2de2a"/>
<rect x="60" y="195" width="10.5" height="10.5" fill="#b2de2a"/>
<rect x="70" y="195" width="10.5" height="10.5" fill="#b2de2a"/>
<rect x="80" y="195" width="10.5" height="10.5" fill="#e6982a"/>
<rect x="90" y="195" width="10.5" height="10.5" fill="#e6982a"/>
<rect x="100" y="195" width="10.5" height="10.5" fill="#b2de2a"/>
<rect x="110" y="195" width="10.5" height="10.5" fill="#3ccf3a"/>
<rect x="120" y="195" width="10.5" height="10.5" fill="#3ccf3a"/>
<rect x="130" y="195" width="10.5" height="10.5" fill="#2a8490"/>
<rect x="140" y="195" width="10.5" height="10.5" fill="#1d3d8a"/>
<rect x="150" y="195" width="10.5" height="10.5" fill="#2bb276"/>
<rect x="160" y="195" width="10.5" height="10.5" fill="#2a8490"/>
<rect x="170" y="195" width="10.5" height="10.5" fill="#1d3d8a"/>
<rect x="180" y="195" width="10.5" height="10.5" fill="#2a8490"/>
<rect x="190" y="195" width="10.5" height="10.5" fill="#3ccf3a"/>
<rect x="200" y="195" width="10.5" height="10.5" fill="#b2de2a"/>
<rect x="210" y="195" width="10.5" height="10.5" fill="#b2de2a"/>
<rect x="220" y="195" width="10.5" height="10.5" fill="#b2de2a"/>
<rect x="230" y="195" width="10.5" height="10.5" fill="#3ccf3a"/>
<rect x="240" y="195" width="10.5" height="10.5" fill="#2a8490"/>
<rect x="250" y="195" width="10.5" height="10.5" fill="#3ccf3a"/>
<rect x="260" y="195" width="10.5" height="10.5" fill="#3ccf3a"/>
<rect x="10" y="205" width="10.5" height="10.5" fill="#e6982a"/>
<rect x="20" y="205" width="10.5" height="10.5" fill="#e6982a"/>
<rect x="30" y="205" width="10.5" height="10.5" fill="#eba823"/>
<rect x="40" y="205" width="10.5" height="10.5" fill="#b2de2a"/>
<rect x="50" y="205" width="10.5" height="10.5" fill="#b2de2a"/>
<rect x="60" y="205" width="10.5" height="10.5" fill="#b2de2a"/>
<rect x="70" y="205" width="10.5" height="10.5" fill="#b2de2a"/>
<rect x="80" y="205" width="10.5" height="10.5" fill="#e6982a"/>
<rect x="90" y="205" width="10.5" height="10.5" fill="#e6982a"/>
<rect x="100" y="205" width="10.5" height="10.5" fill="#3ccf3a"/>
<rect x="110" y="205" width="10.5" height="10.5" fill="#3ccf3a"/>
<rect x="120" y="205" width="10.5" height="10.5" fill="#3ccf3a"/>
<rect x="130" y="205" width="10.5" height="10.5" fill="#1d3d8a"/>
<rect x="140" y="205" width="10.5" height="10.5" fill="#1d3d8a"/>
<rect x="150" y="205" width="10.5" height="10.5" fill="#1d3d8a"/>
<rect x="160" y="205" width="10.5" height="10.5" fill="#2a8490"/>
<rect x="170" y="205" width="10.5" height="10.5" fill="#2a8490"/>
<rect x="180" y="205" width="10.5" height="10.5" fill="#2bb276"/>
<rect x="190" y="205" width="10.5" height="10.5" fill="#3ccf3a"/>
<rect x="200" y="205" width="10.5" height="10.5" fill="#3ccf3a"/>
<rect x="210" y="205" width="10.5" height="10.5" fill="#b2de2a"/>
<rect x="220" y="205" width="10.5" height="10.5" fill="#3ccf3a"/>
<rect x="230" y="205" width="10.5" height="10.5" fill="#3ccf3a"/>
<rect x="240" y="205" width="10.5" height="10.5" fill="#2a8490"/>
<rect x="250" y="205" width="10.5" height="10.5" fill="#3ccf3a"/>
<rect x="260" y="205" width="10.5" height="10.5" fill="#3ccf3a"/>
<rect x="10" y="215" width="10.5" height="10.5" fill="#e6982a"/>
<rect x="20" y="215" width="10.5" height="10.5" fill="#e6982a"/>
<rect x="30" y="215" width="10.5" height="10.5" fill="#eba823"/>
<rect x="40" y="215" width="10.5" height="10.5" fill="#b2de2a"/>
<rect x="50" y="215" width="10.5" height="10.5" fill="#b2de2a"/>
<rect x="60" y="215" width="10.5" height="10.5" fill="#b2de2a"/>
<rect x="70" y="215" width="10.5" height="10.5" fill="#b2de2a"/>
<rect x="80" y="215" width="10.5" height="10.5" fill="#e6982a"/>
<rect x="90" y="215" width="10.5" height="10.5" fill="#e6982a"/>
<rect x="100" y="215" width="10.5" height="10.5" fill="#3ccf3a"/>
<rect x="110" y="215" width="10.5" height="10.5" fill="#3ccf3a"/>
<rect x="120" y="215" width="10.5" height="10.5" fill="#3ccf3a"/>
<rect x="130" y="215" width="10.5" height="10.5" fill="#1d3d8a"/>
<rect x="140" y="215" width="10.5" height="10.5" fill="#3ccf3a"/>
<rect x="150" y="215" width="10.5" height="10.5" fill="#3ccf3a"/>
<rect x="160" y="215" width="10.5" height="10.5" fill="#2bb276"/>
<rect x="170" y="215" width="10.5" height="10.5" fill="#3ccf3a"/>
<rect x="180" y="215" width="10.5" height="10.5" fill="#2bb276"/>
<rect x="190" y="215" width="10.5" height="10.5" fill="#3ccf3a"/>
<rect x="200" y="215" width="10.5" height="10.5" fill="#3ccf3a"/>
<rect x="210" y="215" width="10.5" height="10.5" fill="#b2de2a"/>
<rect x="220" y="215" width="10.5" height="10.5" fill="#3ccf3a"/>
<rect x="230" y="215" width="10.5" height="10.5" fill="#3ccf3a"/>
<rect x="240" y="215" width="10.5" height="10.5" fill="#2a8490"/>
<rect x="250" y="215" width="10.5" height="10.5" fill="#3ccf3a"/>
<rect x="260" y="215" width="10.5" height="10.5" fill="#3ccf3a"/></g>
</g></g>
<g transform="translate(0,249)">
<g clip-path="url(#clipmap)">
<polygon points="112.5,46.0 115.4,45.2 119.0,48.5 124.0,43.7 130.0,39.4 137.0,37.2 146.0,37.5 154.0,37.0 161.0,36.3 168.0,36.0 172.5,35.2 174.3,31.0 177.8,31.5 187.3,32.0 199.0,33.4 211.0,32.7 218.0,31.5 219.2,24.5 223.9,20.9 229.4,19.3 232.2,26.8 231.0,33.9 234.6,37.5 241.7,43.4 251.1,48.1 257.0,43.4 260.6,48.1 264.1,52.8 260.6,56.4 262.9,64.6 267.7,69.4 267.7,78.8 265.3,85.9 258.2,88.3 255.8,93.0 255.5,97.0 255.3,103.5 252.5,106.0 256.2,108.6 262.1,115.3 264.6,119.6 262.9,123.8 260.4,130.5 259.6,135.6 255.3,142.4 255.3,147.4 258.7,150.8 260.4,157.6 259.6,164.3 257.0,167.3 254.0,172.5 250.2,177.5 244.3,182.3 241.9,187.1 241.0,190.5 249.0,189.5 256.2,187.7 259.2,188.9 259.8,193.1 257.4,194.3 251.4,196.0 245.4,199.0 244.3,202.6 241.9,203.8 238.3,206.2 235.9,209.2 235.9,212.2 233.5,215.7 235.9,218.1 234.7,221.7 229.9,223.5 228.1,220.5 228.7,216.9 226.4,213.3 222.8,209.8 218.0,209.2 215.7,208.7 208.6,209.8 201.5,208.7 199.1,206.3 192.0,203.9 187.3,207.5 182.6,211.0 180.2,214.6 175.5,219.3 166.0,221.7 157.2,222.6 149.0,224.3 144.1,223.5 144.9,217.7 144.1,214.5 139.2,212.8 131.0,212.0 122.8,211.2 117.9,213.6 108.1,214.5 102.4,214.5 101.5,207.9 95.0,204.6 89.0,205.2 81.3,202.7 73.7,201.4 71.2,193.8 63.5,188.7 55.9,184.9 49.5,181.1 43.2,179.8 38.1,186.2 33.0,190.0 30.4,187.4 25.4,183.6 21.5,178.5 17.7,170.9 15.2,160.7 12.6,145.4 11.4,130.2 15.2,122.5 17.7,121.3 24.1,126.4 30.4,125.1 31.7,130.2 38.1,132.7 43.2,137.8 45.7,144.2 49.5,145.4 55.9,144.2 59.7,142.9 63.5,139.1 66.1,130.2 68.6,128.9 72.4,132.7 78.8,131.5 86.4,130.2 94.1,127.6 100.4,125.1 104.5,123.6 105.3,120.4 106.1,110.9 107.7,101.3 109.3,94.2 112.5,89.4 117.2,87.0 122.0,84.6 121.2,80.7 123.6,75.9 122.8,69.5 123.6,63.2 120.5,60.5 117.0,54.5 113.0,52.0" fill="#e08a2a"/>
<g filter="url(#soft)"><rect x="10" y="15" width="10.5" height="10.5" fill="#1d3d8a"/>
<rect x="20" y="15" width="10.5" height="10.5" fill="#e6982a"/>
<rect x="30" y="15" width="10.5" height="10.5" fill="#3ccf3a"/>
<rect x="40" y="15" width="10.5" height="10.5" fill="#e6ec22"/>
<rect x="50" y="15" width="10.5" height="10.5" fill="#e6ec22"/>
<rect x="60" y="15" width="10.5" height="10.5" fill="#e6ec22"/>
<rect x="70" y="15" width="10.5" height="10.5" fill="#e6ec22"/>
<rect x="80" y="15" width="10.5" height="10.5" fill="#e6ec22"/>
<rect x="90" y="15" width="10.5" height="10.5" fill="#e6ec22"/>
<rect x="100" y="15" width="10.5" height="10.5" fill="#e6ec22"/>
<rect x="110" y="15" width="10.5" height="10.5" fill="#e6ec22"/>
<rect x="120" y="15" width="10.5" height="10.5" fill="#e6ec22"/>
<rect x="130" y="15" width="10.5" height="10.5" fill="#ecc427"/>
<rect x="140" y="15" width="10.5" height="10.5" fill="#eba823"/>
<rect x="150" y="15" width="10.5" height="10.5" fill="#e6982a"/>
<rect x="160" y="15" width="10.5" height="10.5" fill="#df852b"/>
<rect x="170" y="15" width="10.5" height="10.5" fill="#df852b"/>
<rect x="180" y="15" width="10.5" height="10.5" fill="#df852b"/>
<rect x="190" y="15" width="10.5" height="10.5" fill="#df852b"/>
<rect x="200" y="15" width="10.5" height="10.5" fill="#df852b"/>
<rect x="210" y="15" width="10.5" height="10.5" fill="#df852b"/>
<rect x="220" y="15" width="10.5" height="10.5" fill="#df852b"/>
<rect x="230" y="15" width="10.5" height="10.5" fill="#df852b"/>
<rect x="240" y="15" width="10.5" height="10.5" fill="#df852b"/>
<rect x="250" y="15" width="10.5" height="10.5" fill="#df852b"/>
<rect x="260" y="15" width="10.5" height="10.5" fill="#eba823"/>
<rect x="10" y="25" width="10.5" height="10.5" fill="#1d3d8a"/>
<rect x="20" y="25" width="10.5" height="10.5" fill="#e6982a"/>
<rect x="30" y="25" width="10.5" height="10.5" fill="#3ccf3a"/>
<rect x="40" y="25" width="10.5" height="10.5" fill="#e6ec22"/>
<rect x="50" y="25" width="10.5" height="10.5" fill="#e6ec22"/>
<rect x="60" y="25" width="10.5" height="10.5" fill="#e6ec22"/>
<rect x="70" y="25" width="10.5" height="10.5" fill="#e6ec22"/>
<rect x="80" y="25" width="10.5" height="10.5" fill="#e6ec22"/>
<rect x="90" y="25" width="10.5" height="10.5" fill="#e6ec22"/>
<rect x="100" y="25" width="10.5" height="10.5" fill="#e6ec22"/>
<rect x="110" y="25" width="10.5" height="10.5" fill="#e6ec22"/>
<rect x="120" y="25" width="10.5" height="10.5" fill="#e6ec22"/>
<rect x="130" y="25" width="10.5" height="10.5" fill="#ecc427"/>
<rect x="140" y="25" width="10.5" height="10.5" fill="#eba823"/>
<rect x="150" y="25" width="10.5" height="10.5" fill="#e6982a"/>
<rect x="160" y="25" width="10.5" height="10.5" fill="#df852b"/>
<rect x="170" y="25" width="10.5" height="10.5" fill="#df852b"/>
<rect x="180" y="25" width="10.5" height="10.5" fill="#df852b"/>
<rect x="190" y="25" width="10.5" height="10.5" fill="#df852b"/>
<rect x="200" y="25" width="10.5" height="10.5" fill="#df852b"/>
<rect x="210" y="25" width="10.5" height="10.5" fill="#e6982a"/>
<rect x="220" y="25" width="10.5" height="10.5" fill="#e6982a"/>
<rect x="230" y="25" width="10.5" height="10.5" fill="#e6982a"/>
<rect x="240" y="25" width="10.5" height="10.5" fill="#e6982a"/>
<rect x="250" y="25" width="10.5" height="10.5" fill="#eba823"/>
<rect x="260" y="25" width="10.5" height="10.5" fill="#eba823"/>
<rect x="10" y="35" width="10.5" height="10.5" fill="#1d3d8a"/>
<rect x="20" y="35" width="10.5" height="10.5" fill="#e6982a"/>
<rect x="30" y="35" width="10.5" height="10.5" fill="#3ccf3a"/>
<rect x="40" y="35" width="10.5" height="10.5" fill="#e6ec22"/>
<rect x="50" y="35" width="10.5" height="10.5" fill="#e6ec22"/>
<rect x="60" y="35" width="10.5" height="10.5" fill="#e6ec22"/>
<rect x="70" y="35" width="10.5" height="10.5" fill="#e6ec22"/>
<rect x="80" y="35" width="10.5" height="10.5" fill="#e6ec22"/>
<rect x="90" y="35" width="10.5" height="10.5" fill="#e6ec22"/>
<rect x="100" y="35" width="10.5" height="10.5" fill="#e6ec22"/>
<rect x="110" y="35" width="10.5" height="10.5" fill="#e6ec22"/>
<rect x="120" y="35" width="10.5" height="10.5" fill="#e6ec22"/>
<rect x="130" y="35" width="10.5" height="10.5" fill="#ecc427"/>
<rect x="140" y="35" width="10.5" height="10.5" fill="#eba823"/>
<rect x="150" y="35" width="10.5" height="10.5" fill="#e6982a"/>
<rect x="160" y="35" width="10.5" height="10.5" fill="#d86c33"/>
<rect x="170" y="35" width="10.5" height="10.5" fill="#d86c33"/>
<rect x="180" y="35" width="10.5" height="10.5" fill="#d86c33"/>
<rect x="190" y="35" width="10.5" height="10.5" fill="#df852b"/>
<rect x="200" y="35" width="10.5" height="10.5" fill="#b2de2a"/>
<rect x="210" y="35" width="10.5" height="10.5" fill="#b2de2a"/>
<rect x="220" y="35" width="10.5" height="10.5" fill="#b2de2a"/>
<rect x="230" y="35" width="10.5" height="10.5" fill="#b2de2a"/>
<rect x="240" y="35" width="10.5" height="10.5" fill="#b2de2a"/>
<rect x="250" y="35" width="10.5" height="10.5" fill="#eba823"/>
<rect x="260" y="35" width="10.5" height="10.5" fill="#eba823"/>
<rect x="10" y="45" width="10.5" height="10.5" fill="#1d3d8a"/>
<rect x="20" y="45" width="10.5" height="10.5" fill="#e6982a"/>
<rect x="30" y="45" width="10.5" height="10.5" fill="#3ccf3a"/>
<rect x="40" y="45" width="10.5" height="10.5" fill="#cf5639"/>
<rect x="50" y="45" width="10.5" height="10.5" fill="#cf5639"/>
<rect x="60" y="45" width="10.5" height="10.5" fill="#cf5639"/>
<rect x="70" y="45" width="10.5" height="10.5" fill="#cf5639"/>
<rect x="80" y="45" width="10.5" height="10.5" fill="#cf5639"/>
<rect x="90" y="45" width="10.5" height="10.5" fill="#cf5639"/>
<rect x="100" y="45" width="10.5" height="10.5" fill="#cf5639"/>
<rect x="110" y="45" width="10.5" height="10.5" fill="#cf5639"/>
<rect x="120" y="45" width="10.5" height="10.5" fill="#eba823"/>
<rect x="130" y="45" width="10.5" height="10.5" fill="#d86c33"/>
<rect x="140" y="45" width="10.5" height="10.5" fill="#cf5639"/>
<rect x="150" y="45" width="10.5" height="10.5" fill="#cf5639"/>
<rect x="160" y="45" width="10.5" height="10.5" fill="#d86c33"/>
<rect x="170" y="45" width="10.5" height="10.5" fill="#e6982a"/>
<rect x="180" y="45" width="10.5" height="10.5" fill="#b2de2a"/>
<rect x="190" y="45" width="10.5" height="10.5" fill="#b2de2a"/>
<rect x="200" y="45" width="10.5" height="10.5" fill="#3ccf3a"/>
<rect x="210" y="45" width="10.5" height="10.5" fill="#e6982a"/>
<rect x="220" y="45" width="10.5" height="10.5" fill="#e6982a"/>
<rect x="230" y="45" width="10.5" height="10.5" fill="#eba823"/>
<rect x="240" y="45" width="10.5" height="10.5" fill="#e6982a"/>
<rect x="250" y="45" width="10.5" height="10.5" fill="#eba823"/>
<rect x="260" y="45" width="10.5" height="10.5" fill="#eba823"/>
<rect x="10" y="55" width="10.5" height="10.5" fill="#1d3d8a"/>
<rect x="20" y="55" width="10.5" height="10.5" fill="#e6982a"/>
<rect x="30" y="55" width="10.5" height="10.5" fill="#3ccf3a"/>
<rect x="40" y="55" width="10.5" height="10.5" fill="#3ccf3a"/>
<rect x="50" y="55" width="10.5" height="10.5" fill="#cf5639"/>
<rect x="60" y="55" width="10.5" height="10.5" fill="#cf5639"/>
<rect x="70" y="55" width="10.5" height="10.5" fill="#cf5639"/>
<rect x="80" y="55" width="10.5" height="10.5" fill="#cf5639"/>
<rect x="90" y="55" width="10.5" height="10.5" fill="#cf5639"/>
<rect x="100" y="55" width="10.5" height="10.5" fill="#cf5639"/>
<rect x="110" y="55" width="10.5" height="10.5" fill="#cf5639"/>
<rect x="120" y="55" width="10.5" height="10.5" fill="#cf5639"/>
<rect x="130" y="55" width="10.5" height="10.5" fill="#cf5639"/>
<rect x="140" y="55" width="10.5" height="10.5" fill="#cf5639"/>
<rect x="150" y="55" width="10.5" height="10.5" fill="#cf5639"/>
<rect x="160" y="55" width="10.5" height="10.5" fill="#cf5639"/>
<rect x="170" y="55" width="10.5" height="10.5" fill="#d86c33"/>
<rect x="180" y="55" width="10.5" height="10.5" fill="#d86c33"/>
<rect x="190" y="55" width="10.5" height="10.5" fill="#df852b"/>
<rect x="200" y="55" width="10.5" height="10.5" fill="#df852b"/>
<rect x="210" y="55" width="10.5" height="10.5" fill="#e6982a"/>
<rect x="220" y="55" width="10.5" height="10.5" fill="#e6982a"/>
<rect x="230" y="55" width="10.5" height="10.5" fill="#ecc427"/>
<rect x="240" y="55" width="10.5" height="10.5" fill="#df852b"/>
<rect x="250" y="55" width="10.5" height="10.5" fill="#b2de2a"/>
<rect x="260" y="55" width="10.5" height="10.5" fill="#eba823"/>
<rect x="10" y="65" width="10.5" height="10.5" fill="#1d3d8a"/>
<rect x="20" y="65" width="10.5" height="10.5" fill="#e6982a"/>
<rect x="30" y="65" width="10.5" height="10.5" fill="#3ccf3a"/>
<rect x="40" y="65" width="10.5" height="10.5" fill="#3ccf3a"/>
<rect x="50" y="65" width="10.5" height="10.5" fill="#cf5639"/>
<rect x="60" y="65" width="10.5" height="10.5" fill="#cf5639"/>
<rect x="70" y="65" width="10.5" height="10.5" fill="#cf5639"/>
<rect x="80" y="65" width="10.5" height="10.5" fill="#cf5639"/>
<rect x="90" y="65" width="10.5" height="10.5" fill="#cf5639"/>
<rect x="100" y="65" width="10.5" height="10.5" fill="#cf5639"/>
<rect x="110" y="65" width="10.5" height="10.5" fill="#cf5639"/>
<rect x="120" y="65" width="10.5" height="10.5" fill="#cf5639"/>
<rect x="130" y="65" width="10.5" height="10.5" fill="#cf5639"/>
<rect x="140" y="65" width="10.5" height="10.5" fill="#cf5639"/>
<rect x="150" y="65" width="10.5" height="10.5" fill="#d86c33"/>
<rect x="160" y="65" width="10.5" height="10.5" fill="#d86c33"/>
<rect x="170" y="65" width="10.5" height="10.5" fill="#d86c33"/>
<rect x="180" y="65" width="10.5" height="10.5" fill="#df852b"/>
<rect x="190" y="65" width="10.5" height="10.5" fill="#df852b"/>
<rect x="200" y="65" width="10.5" height="10.5" fill="#e6982a"/>
<rect x="210" y="65" width="10.5" height="10.5" fill="#ecc427"/>
<rect x="220" y="65" width="10.5" height="10.5" fill="#b2de2a"/>
<rect x="230" y="65" width="10.5" height="10.5" fill="#e6982a"/>
<rect x="240" y="65" width="10.5" height="10.5" fill="#ecc427"/>
<rect x="250" y="65" width="10.5" height="10.5" fill="#b2de2a"/>
<rect x="260" y="65" width="10.5" height="10.5" fill="#3ccf3a"/>
<rect x="10" y="75" width="10.5" height="10.5" fill="#1d3d8a"/>
<rect x="20" y="75" width="10.5" height="10.5" fill="#e6982a"/>
<rect x="30" y="75" width="10.5" height="10.5" fill="#3ccf3a"/>
<rect x="40" y="75" width="10.5" height="10.5" fill="#3ccf3a"/>
<rect x="50" y="75" width="10.5" height="10.5" fill="#cf5639"/>
<rect x="60" y="75" width="10.5" height="10.5" fill="#cf5639"/>
<rect x="70" y="75" width="10.5" height="10.5" fill="#cf5639"/>
<rect x="80" y="75" width="10.5" height="10.5" fill="#cf5639"/>
<rect x="90" y="75" width="10.5" height="10.5" fill="#cf5639"/>
<rect x="100" y="75" width="10.5" height="10.5" fill="#cf5639"/>
<rect x="110" y="75" width="10.5" height="10.5" fill="#cf5639"/>
<rect x="120" y="75" width="10.5" height="10.5" fill="#cf5639"/>
<rect x="130" y="75" width="10.5" height="10.5" fill="#cf5639"/>
<rect x="140" y="75" width="10.5" height="10.5" fill="#d86c33"/>
<rect x="150" y="75" width="10.5" height="10.5" fill="#d86c33"/>
<rect x="160" y="75" width="10.5" height="10.5" fill="#df852b"/>
<rect x="170" y="75" width="10.5" height="10.5" fill="#e6982a"/>
<rect x="180" y="75" width="10.5" height="10.5" fill="#df852b"/>
<rect x="190" y="75" width="10.5" height="10.5" fill="#e6982a"/>
<rect x="200" y="75" width="10.5" height="10.5" fill="#ecc427"/>
<rect x="210" y="75" width="10.5" height="10.5" fill="#b2de2a"/>
<rect x="220" y="75" width="10.5" height="10.5" fill="#b2de2a"/>
<rect x="230" y="75" width="10.5" height="10.5" fill="#b2de2a"/>
<rect x="240" y="75" width="10.5" height="10.5" fill="#b2de2a"/>
<rect x="250" y="75" width="10.5" height="10.5" fill="#2bb276"/>
<rect x="260" y="75" width="10.5" height="10.5" fill="#3ccf3a"/>
<rect x="10" y="85" width="10.5" height="10.5" fill="#1d3d8a"/>
<rect x="20" y="85" width="10.5" height="10.5" fill="#e6982a"/>
<rect x="30" y="85" width="10.5" height="10.5" fill="#3ccf3a"/>
<rect x="40" y="85" width="10.5" height="10.5" fill="#3ccf3a"/>
<rect x="50" y="85" width="10.5" height="10.5" fill="#cf5639"/>
<rect x="60" y="85" width="10.5" height="10.5" fill="#cf5639"/>
<rect x="70" y="85" width="10.5" height="10.5" fill="#cf5639"/>
<rect x="80" y="85" width="10.5" height="10.5" fill="#cf5639"/>
<rect x="90" y="85" width="10.5" height="10.5" fill="#cf5639"/>
<rect x="100" y="85" width="10.5" height="10.5" fill="#cf5639"/>
<rect x="110" y="85" width="10.5" height="10.5" fill="#b2de2a"/>
<rect x="120" y="85" width="10.5" height="10.5" fill="#cf5639"/>
<rect x="130" y="85" width="10.5" height="10.5" fill="#cf5639"/>
<rect x="140" y="85" width="10.5" height="10.5" fill="#d86c33"/>
<rect x="150" y="85" width="10.5" height="10.5" fill="#d86c33"/>
<rect x="160" y="85" width="10.5" height="10.5" fill="#e6982a"/>
<rect x="170" y="85" width="10.5" height="10.5" fill="#e6982a"/>
<rect x="180" y="85" width="10.5" height="10.5" fill="#e6982a"/>
<rect x="190" y="85" width="10.5" height="10.5" fill="#df852b"/>
<rect x="200" y="85" width="10.5" height="10.5" fill="#eba823"/>
<rect x="210" y="85" width="10.5" height="10.5" fill="#2a8490"/>
<rect x="220" y="85" width="10.5" height="10.5" fill="#2bb276"/>
<rect x="230" y="85" width="10.5" height="10.5" fill="#3ccf3a"/>
<rect x="240" y="85" width="10.5" height="10.5" fill="#2a8490"/>
<rect x="250" y="85" width="10.5" height="10.5" fill="#1d3d8a"/>
<rect x="260" y="85" width="10.5" height="10.5" fill="#3ccf3a"/>
<rect x="10" y="95" width="10.5" height="10.5" fill="#1d3d8a"/>
<rect x="20" y="95" width="10.5" height="10.5" fill="#e6982a"/>
<rect x="30" y="95" width="10.5" height="10.5" fill="#3ccf3a"/>
<rect x="40" y="95" width="10.5" height="10.5" fill="#3ccf3a"/>
<rect x="50" y="95" width="10.5" height="10.5" fill="#3ccf3a"/>
<rect x="60" y="95" width="10.5" height="10.5" fill="#cf5639"/>
<rect x="70" y="95" width="10.5" height="10.5" fill="#cf5639"/>
<rect x="80" y="95" width="10.5" height="10.5" fill="#cf5639"/>
<rect x="90" y="95" width="10.5" height="10.5" fill="#cf5639"/>
<rect x="100" y="95" width="10.5" height="10.5" fill="#cf5639"/>
<rect x="110" y="95" width="10.5" height="10.5" fill="#b2de2a"/>
<rect x="120" y="95" width="10.5" height="10.5" fill="#cf5639"/>
<rect x="130" y="95" width="10.5" height="10.5" fill="#cf5639"/>
<rect x="140" y="95" width="10.5" height="10.5" fill="#d86c33"/>
<rect x="150" y="95" width="10.5" height="10.5" fill="#d86c33"/>
<rect x="160" y="95" width="10.5" height="10.5" fill="#df852b"/>
<rect x="170" y="95" width="10.5" height="10.5" fill="#e6982a"/>
<rect x="180" y="95" width="10.5" height="10.5" fill="#e6982a"/>
<rect x="190" y="95" width="10.5" height="10.5" fill="#e6982a"/>
<rect x="200" y="95" width="10.5" height="10.5" fill="#eba823"/>
<rect x="210" y="95" width="10.5" height="10.5" fill="#2a8490"/>
<rect x="220" y="95" width="10.5" height="10.5" fill="#b2de2a"/>
<rect x="230" y="95" width="10.5" height="10.5" fill="#2bb276"/>
<rect x="240" y="95" width="10.5" height="10.5" fill="#2bb276"/>
<rect x="250" y="95" width="10.5" height="10.5" fill="#2bb276"/>
<rect x="260" y="95" width="10.5" height="10.5" fill="#2bb276"/>
<rect x="10" y="105" width="10.5" height="10.5" fill="#1d3d8a"/>
<rect x="20" y="105" width="10.5" height="10.5" fill="#e6982a"/>
<rect x="30" y="105" width="10.5" height="10.5" fill="#3ccf3a"/>
<rect x="40" y="105" width="10.5" height="10.5" fill="#3ccf3a"/>
<rect x="50" y="105" width="10.5" height="10.5" fill="#3ccf3a"/>
<rect x="60" y="105" width="10.5" height="10.5" fill="#cf5639"/>
<rect x="70" y="105" width="10.5" height="10.5" fill="#d86c33"/>
<rect x="80" y="105" width="10.5" height="10.5" fill="#cf5639"/>
<rect x="90" y="105" width="10.5" height="10.5" fill="#cf5639"/>
<rect x="100" y="105" width="10.5" height="10.5" fill="#cf5639"/>
<rect x="110" y="105" width="10.5" height="10.5" fill="#b2de2a"/>
<rect x="120" y="105" width="10.5" height="10.5" fill="#cf5639"/>
<rect x="130" y="105" width="10.5" height="10.5" fill="#d86c33"/>
<rect x="140" y="105" width="10.5" height="10.5" fill="#df852b"/>
<rect x="150" y="105" width="10.5" height="10.5" fill="#df852b"/>
<rect x="160" y="105" width="10.5" height="10.5" fill="#df852b"/>
<rect x="170" y="105" width="10.5" height="10.5" fill="#df852b"/>
<rect x="180" y="105" width="10.5" height="10.5" fill="#df852b"/>
<rect x="190" y="105" width="10.5" height="10.5" fill="#df852b"/>
<rect x="200" y="105" width="10.5" height="10.5" fill="#ecc427"/>
<rect x="210" y="105" width="10.5" height="10.5" fill="#1d3d8a"/>
<rect x="220" y="105" width="10.5" height="10.5" fill="#b2de2a"/>
<rect x="230" y="105" width="10.5" height="10.5" fill="#b2de2a"/>
<rect x="240" y="105" width="10.5" height="10.5" fill="#3ccf3a"/>
<rect x="250" y="105" width="10.5" height="10.5" fill="#2bb276"/>
<rect x="260" y="105" width="10.5" height="10.5" fill="#2bb276"/>
<rect x="10" y="115" width="10.5" height="10.5" fill="#1d3d8a"/>
<rect x="20" y="115" width="10.5" height="10.5" fill="#e6982a"/>
<rect x="30" y="115" width="10.5" height="10.5" fill="#3ccf3a"/>
<rect x="40" y="115" width="10.5" height="10.5" fill="#3ccf3a"/>
<rect x="50" y="115" width="10.5" height="10.5" fill="#3ccf3a"/>
<rect x="60" y="115" width="10.5" height="10.5" fill="#cf5639"/>
<rect x="70" y="115" width="10.5" height="10.5" fill="#d86c33"/>
<rect x="80" y="115" width="10.5" height="10.5" fill="#cf5639"/>
<rect x="90" y="115" width="10.5" height="10.5" fill="#d86c33"/>
<rect x="100" y="115" width="10.5" height="10.5" fill="#d86c33"/>
<rect x="110" y="115" width="10.5" height="10.5" fill="#cf5639"/>
<rect x="120" y="115" width="10.5" height="10.5" fill="#cf5639"/>
<rect x="130" y="115" width="10.5" height="10.5" fill="#d86c33"/>
<rect x="140" y="115" width="10.5" height="10.5" fill="#df852b"/>
<rect x="150" y="115" width="10.5" height="10.5" fill="#df852b"/>
<rect x="160" y="115" width="10.5" height="10.5" fill="#df852b"/>
<rect x="170" y="115" width="10.5" height="10.5" fill="#df852b"/>
<rect x="180" y="115" width="10.5" height="10.5" fill="#e6982a"/>
<rect x="190" y="115" width="10.5" height="10.5" fill="#e6982a"/>
<rect x="200" y="115" width="10.5" height="10.5" fill="#ecc427"/>
<rect x="210" y="115" width="10.5" height="10.5" fill="#1d3d8a"/>
<rect x="220" y="115" width="10.5" height="10.5" fill="#b2de2a"/>
<rect x="230" y="115" width="10.5" height="10.5" fill="#d86c33"/>
<rect x="240" y="115" width="10.5" height="10.5" fill="#2bb276"/>
<rect x="250" y="115" width="10.5" height="10.5" fill="#2bb276"/>
<rect x="260" y="115" width="10.5" height="10.5" fill="#2bb276"/>
<rect x="10" y="125" width="10.5" height="10.5" fill="#2bb276"/>
<rect x="20" y="125" width="10.5" height="10.5" fill="#1d3d8a"/>
<rect x="30" y="125" width="10.5" height="10.5" fill="#2bb276"/>
<rect x="40" y="125" width="10.5" height="10.5" fill="#2bb276"/>
<rect x="50" y="125" width="10.5" height="10.5" fill="#cf5639"/>
<rect x="60" y="125" width="10.5" height="10.5" fill="#cf5639"/>
<rect x="70" y="125" width="10.5" height="10.5" fill="#d86c33"/>
<rect x="80" y="125" width="10.5" height="10.5" fill="#cf5639"/>
<rect x="90" y="125" width="10.5" height="10.5" fill="#cf5639"/>
<rect x="100" y="125" width="10.5" height="10.5" fill="#cf5639"/>
<rect x="110" y="125" width="10.5" height="10.5" fill="#cf5639"/>
<rect x="120" y="125" width="10.5" height="10.5" fill="#d86c33"/>
<rect x="130" y="125" width="10.5" height="10.5" fill="#d86c33"/>
<rect x="140" y="125" width="10.5" height="10.5" fill="#df852b"/>
<rect x="150" y="125" width="10.5" height="10.5" fill="#df852b"/>
<rect x="160" y="125" width="10.5" height="10.5" fill="#df852b"/>
<rect x="170" y="125" width="10.5" height="10.5" fill="#df852b"/>
<rect x="180" y="125" width="10.5" height="10.5" fill="#e6982a"/>
<rect x="190" y="125" width="10.5" height="10.5" fill="#e6982a"/>
<rect x="200" y="125" width="10.5" height="10.5" fill="#b2de2a"/>
<rect x="210" y="125" width="10.5" height="10.5" fill="#2a8490"/>
<rect x="220" y="125" width="10.5" height="10.5" fill="#b2de2a"/>
<rect x="230" y="125" width="10.5" height="10.5" fill="#3ccf3a"/>
<rect x="240" y="125" width="10.5" height="10.5" fill="#2a8490"/>
<rect x="250" y="125" width="10.5" height="10.5" fill="#1d3d8a"/>
<rect x="260" y="125" width="10.5" height="10.5" fill="#1d3d8a"/>
<rect x="10" y="135" width="10.5" height="10.5" fill="#2a8490"/>
<rect x="20" y="135" width="10.5" height="10.5" fill="#1d3d8a"/>
<rect x="30" y="135" width="10.5" height="10.5" fill="#2bb276"/>
<rect x="40" y="135" width="10.5" height="10.5" fill="#2bb276"/>
<rect x="50" y="135" width="10.5" height="10.5" fill="#3ccf3a"/>
<rect x="60" y="135" width="10.5" height="10.5" fill="#d86c33"/>
<rect x="70" y="135" width="10.5" height="10.5" fill="#cf5639"/>
<rect x="80" y="135" width="10.5" height="10.5" fill="#cf5639"/>
<rect x="90" y="135" width="10.5" height="10.5" fill="#cf5639"/>
<rect x="100" y="135" width="10.5" height="10.5" fill="#d86c33"/>
<rect x="110" y="135" width="10.5" height="10.5" fill="#cf5639"/>
<rect x="120" y="135" width="10.5" height="10.5" fill="#d86c33"/>
<rect x="130" y="135" width="10.5" height="10.5" fill="#df852b"/>
<rect x="140" y="135" width="10.5" height="10.5" fill="#e6982a"/>
<rect x="150" y="135" width="10.5" height="10.5" fill="#eba823"/>
<rect x="160" y="135" width="10.5" height="10.5" fill="#eba823"/>
<rect x="170" y="135" width="10.5" height="10.5" fill="#eba823"/>
<rect x="180" y="135" width="10.5" height="10.5" fill="#ecc427"/>
<rect x="190" y="135" width="10.5" height="10.5" fill="#eba823"/>
<rect x="200" y="135" width="10.5" height="10.5" fill="#2bb276"/>
<rect x="210" y="135" width="10.5" height="10.5" fill="#1d3d8a"/>
<rect x="220" y="135" width="10.5" height="10.5" fill="#b2de2a"/>
<rect x="230" y="135" width="10.5" height="10.5" fill="#2bb276"/>
<rect x="240" y="135" width="10.5" height="10.5" fill="#2bb276"/>
<rect x="250" y="135" width="10.5" height="10.5" fill="#2a8490"/>
<rect x="260" y="135" width="10.5" height="10.5" fill="#2a8490"/>
<rect x="10" y="145" width="10.5" height="10.5" fill="#2bb276"/>
<rect x="20" y="145" width="10.5" height="10.5" fill="#b2de2a"/>
<rect x="30" y="145" width="10.5" height="10.5" fill="#e6982a"/>
<rect x="40" y="145" width="10.5" height="10.5" fill="#2a8490"/>
<rect x="50" y="145" width="10.5" height="10.5" fill="#e6982a"/>
<rect x="60" y="145" width="10.5" height="10.5" fill="#df852b"/>
<rect x="70" y="145" width="10.5" height="10.5" fill="#cf5639"/>
<rect x="80" y="145" width="10.5" height="10.5" fill="#cf5639"/>
<rect x="90" y="145" width="10.5" height="10.5" fill="#cf5639"/>
<rect x="100" y="145" width="10.5" height="10.5" fill="#cf5639"/>
<rect x="110" y="145" width="10.5" height="10.5" fill="#d86c33"/>
<rect x="120" y="145" width="10.5" height="10.5" fill="#df852b"/>
<rect x="130" y="145" width="10.5" height="10.5" fill="#df852b"/>
<rect x="140" y="145" width="10.5" height="10.5" fill="#eba823"/>
<rect x="150" y="145" width="10.5" height="10.5" fill="#ecc427"/>
<rect x="160" y="145" width="10.5" height="10.5" fill="#e6ec22"/>
<rect x="170" y="145" width="10.5" height="10.5" fill="#ecc427"/>
<rect x="180" y="145" width="10.5" height="10.5" fill="#e6ec22"/>
<rect x="190" y="145" width="10.5" height="10.5" fill="#ecc427"/>
<rect x="200" y="145" width="10.5" height="10.5" fill="#e6982a"/>
<rect x="210" y="145" width="10.5" height="10.5" fill="#b2de2a"/>
<rect x="220" y="145" width="10.5" height="10.5" fill="#2a8490"/>
<rect x="230" y="145" width="10.5" height="10.5" fill="#2a8490"/>
<rect x="240" y="145" width="10.5" height="10.5" fill="#2bb276"/>
<rect x="250" y="145" width="10.5" height="10.5" fill="#2bb276"/>
<rect x="260" y="145" width="10.5" height="10.5" fill="#2bb276"/>
<rect x="10" y="155" width="10.5" height="10.5" fill="#b2de2a"/>
<rect x="20" y="155" width="10.5" height="10.5" fill="#2a8490"/>
<rect x="30" y="155" width="10.5" height="10.5" fill="#b2de2a"/>
<rect x="40" y="155" width="10.5" height="10.5" fill="#2bb276"/>
<rect x="50" y="155" width="10.5" height="10.5" fill="#df852b"/>
<rect x="60" y="155" width="10.5" height="10.5" fill="#d86c33"/>
<rect x="70" y="155" width="10.5" height="10.5" fill="#cf5639"/>
<rect x="80" y="155" width="10.5" height="10.5" fill="#d86c33"/>
<rect x="90" y="155" width="10.5" height="10.5" fill="#cf5639"/>
<rect x="100" y="155" width="10.5" height="10.5" fill="#df852b"/>
<rect x="110" y="155" width="10.5" height="10.5" fill="#df852b"/>
<rect x="120" y="155" width="10.5" height="10.5" fill="#df852b"/>
<rect x="130" y="155" width="10.5" height="10.5" fill="#e6982a"/>
<rect x="140" y="155" width="10.5" height="10.5" fill="#eba823"/>
<rect x="150" y="155" width="10.5" height="10.5" fill="#2bb276"/>
<rect x="160" y="155" width="10.5" height="10.5" fill="#2bb276"/>
<rect x="170" y="155" width="10.5" height="10.5" fill="#2bb276"/>
<rect x="180" y="155" width="10.5" height="10.5" fill="#2bb276"/>
<rect x="190" y="155" width="10.5" height="10.5" fill="#2a8490"/>
<rect x="200" y="155" width="10.5" height="10.5" fill="#e6982a"/>
<rect x="210" y="155" width="10.5" height="10.5" fill="#b2de2a"/>
<rect x="220" y="155" width="10.5" height="10.5" fill="#2bb276"/>
<rect x="230" y="155" width="10.5" height="10.5" fill="#2a8490"/>
<rect x="240" y="155" width="10.5" height="10.5" fill="#2bb276"/>
<rect x="250" y="155" width="10.5" height="10.5" fill="#2a8490"/>
<rect x="260" y="155" width="10.5" height="10.5" fill="#2a8490"/>
<rect x="10" y="165" width="10.5" height="10.5" fill="#b2de2a"/>
<rect x="20" y="165" width="10.5" height="10.5" fill="#b2de2a"/>
<rect x="30" y="165" width="10.5" height="10.5" fill="#b2de2a"/>
<rect x="40" y="165" width="10.5" height="10.5" fill="#b2de2a"/>
<rect x="50" y="165" width="10.5" height="10.5" fill="#e6982a"/>
<rect x="60" y="165" width="10.5" height="10.5" fill="#df852b"/>
<rect x="70" y="165" width="10.5" height="10.5" fill="#df852b"/>
<rect x="80" y="165" width="10.5" height="10.5" fill="#d86c33"/>
<rect x="90" y="165" width="10.5" height="10.5" fill="#df852b"/>
<rect x="100" y="165" width="10.5" height="10.5" fill="#e6982a"/>
<rect x="110" y="165" width="10.5" height="10.5" fill="#2a8490"/>
<rect x="120" y="165" width="10.5" height="10.5" fill="#b2de2a"/>
<rect x="130" y="165" width="10.5" height="10.5" fill="#e6982a"/>
<rect x="140" y="165" width="10.5" height="10.5" fill="#b2de2a"/>
<rect x="150" y="165" width="10.5" height="10.5" fill="#2a8490"/>
<rect x="160" y="165" width="10.5" height="10.5" fill="#1d3d8a"/>
<rect x="170" y="165" width="10.5" height="10.5" fill="#2bb276"/>
<rect x="180" y="165" width="10.5" height="10.5" fill="#1d3d8a"/>
<rect x="190" y="165" width="10.5" height="10.5" fill="#1d3d8a"/>
<rect x="200" y="165" width="10.5" height="10.5" fill="#e6982a"/>
<rect x="210" y="165" width="10.5" height="10.5" fill="#e6982a"/>
<rect x="220" y="165" width="10.5" height="10.5" fill="#2a8490"/>
<rect x="230" y="165" width="10.5" height="10.5" fill="#2bb276"/>
<rect x="240" y="165" width="10.5" height="10.5" fill="#b2de2a"/>
<rect x="250" y="165" width="10.5" height="10.5" fill="#2a8490"/>
<rect x="260" y="165" width="10.5" height="10.5" fill="#2a8490"/>
<rect x="10" y="175" width="10.5" height="10.5" fill="#b2de2a"/>
<rect x="20" y="175" width="10.5" height="10.5" fill="#b2de2a"/>
<rect x="30" y="175" width="10.5" height="10.5" fill="#2a8490"/>
<rect x="40" y="175" width="10.5" height="10.5" fill="#2a8490"/>
<rect x="50" y="175" width="10.5" height="10.5" fill="#1d3d8a"/>
<rect x="60" y="175" width="10.5" height="10.5" fill="#b2de2a"/>
<rect x="70" y="175" width="10.5" height="10.5" fill="#e6982a"/>
<rect x="80" y="175" width="10.5" height="10.5" fill="#eba823"/>
<rect x="90" y="175" width="10.5" height="10.5" fill="#e6982a"/>
<rect x="100" y="175" width="10.5" height="10.5" fill="#ecc427"/>
<rect x="110" y="175" width="10.5" height="10.5" fill="#2a8490"/>
<rect x="120" y="175" width="10.5" height="10.5" fill="#2a8490"/>
<rect x="130" y="175" width="10.5" height="10.5" fill="#3ccf3a"/>
<rect x="140" y="175" width="10.5" height="10.5" fill="#b2de2a"/>
<rect x="150" y="175" width="10.5" height="10.5" fill="#2bb276"/>
<rect x="160" y="175" width="10.5" height="10.5" fill="#1d3d8a"/>
<rect x="170" y="175" width="10.5" height="10.5" fill="#2a8490"/>
<rect x="180" y="175" width="10.5" height="10.5" fill="#2a8490"/>
<rect x="190" y="175" width="10.5" height="10.5" fill="#2bb276"/>
<rect x="200" y="175" width="10.5" height="10.5" fill="#e6982a"/>
<rect x="210" y="175" width="10.5" height="10.5" fill="#b2de2a"/>
<rect x="220" y="175" width="10.5" height="10.5" fill="#1d3d8a"/>
<rect x="230" y="175" width="10.5" height="10.5" fill="#2a8490"/>
<rect x="240" y="175" width="10.5" height="10.5" fill="#2bb276"/>
<rect x="250" y="175" width="10.5" height="10.5" fill="#2a8490"/>
<rect x="260" y="175" width="10.5" height="10.5" fill="#2a8490"/>
<rect x="10" y="185" width="10.5" height="10.5" fill="#b2de2a"/>
<rect x="20" y="185" width="10.5" height="10.5" fill="#b2de2a"/>
<rect x="30" y="185" width="10.5" height="10.5" fill="#1d3d8a"/>
<rect x="40" y="185" width="10.5" height="10.5" fill="#1d3d8a"/>
<rect x="50" y="185" width="10.5" height="10.5" fill="#1d3d8a"/>
<rect x="60" y="185" width="10.5" height="10.5" fill="#1d3d8a"/>
<rect x="70" y="185" width="10.5" height="10.5" fill="#2a8490"/>
<rect x="80" y="185" width="10.5" height="10.5" fill="#b2de2a"/>
<rect x="90" y="185" width="10.5" height="10.5" fill="#ecc427"/>
<rect x="100" y="185" width="10.5" height="10.5" fill="#b2de2a"/>
<rect x="110" y="185" width="10.5" height="10.5" fill="#1d3d8a"/>
<rect x="120" y="185" width="10.5" height="10.5" fill="#2a8490"/>
<rect x="130" y="185" width="10.5" height="10.5" fill="#2a8490"/>
<rect x="140" y="185" width="10.5" height="10.5" fill="#2bb276"/>
<rect x="150" y="185" width="10.5" height="10.5" fill="#3ccf3a"/>
<rect x="160" y="185" width="10.5" height="10.5" fill="#1d3d8a"/>
<rect x="170" y="185" width="10.5" height="10.5" fill="#2bb276"/>
<rect x="180" y="185" width="10.5" height="10.5" fill="#b2de2a"/>
<rect x="190" y="185" width="10.5" height="10.5" fill="#e6982a"/>
<rect x="200" y="185" width="10.5" height="10.5" fill="#b2de2a"/>
<rect x="210" y="185" width="10.5" height="10.5" fill="#2bb276"/>
<rect x="220" y="185" width="10.5" height="10.5" fill="#3ccf3a"/>
<rect x="230" y="185" width="10.5" height="10.5" fill="#b2de2a"/>
<rect x="240" y="185" width="10.5" height="10.5" fill="#3ccf3a"/>
<rect x="250" y="185" width="10.5" height="10.5" fill="#3ccf3a"/>
<rect x="260" y="185" width="10.5" height="10.5" fill="#3ccf3a"/>
<rect x="10" y="195" width="10.5" height="10.5" fill="#b2de2a"/>
<rect x="20" y="195" width="10.5" height="10.5" fill="#b2de2a"/>
<rect x="30" y="195" width="10.5" height="10.5" fill="#1d3d8a"/>
<rect x="40" y="195" width="10.5" height="10.5" fill="#1d3d8a"/>
<rect x="50" y="195" width="10.5" height="10.5" fill="#1d3d8a"/>
<rect x="60" y="195" width="10.5" height="10.5" fill="#1d3d8a"/>
<rect x="70" y="195" width="10.5" height="10.5" fill="#1d3d8a"/>
<rect x="80" y="195" width="10.5" height="10.5" fill="#1d3d8a"/>
<rect x="90" y="195" width="10.5" height="10.5" fill="#2a8490"/>
<rect x="100" y="195" width="10.5" height="10.5" fill="#3ccf3a"/>
<rect x="110" y="195" width="10.5" height="10.5" fill="#1d3d8a"/>
<rect x="120" y="195" width="10.5" height="10.5" fill="#2bb276"/>
<rect x="130" y="195" width="10.5" height="10.5" fill="#2a8490"/>
<rect x="140" y="195" width="10.5" height="10.5" fill="#b2de2a"/>
<rect x="150" y="195" width="10.5" height="10.5" fill="#3ccf3a"/>
<rect x="160" y="195" width="10.5" height="10.5" fill="#b2de2a"/>
<rect x="170" y="195" width="10.5" height="10.5" fill="#b2de2a"/>
<rect x="180" y="195" width="10.5" height="10.5" fill="#b2de2a"/>
<rect x="190" y="195" width="10.5" height="10.5" fill="#b2de2a"/>
<rect x="200" y="195" width="10.5" height="10.5" fill="#b2de2a"/>
<rect x="210" y="195" width="10.5" height="10.5" fill="#3ccf3a"/>
<rect x="220" y="195" width="10.5" height="10.5" fill="#3ccf3a"/>
<rect x="230" y="195" width="10.5" height="10.5" fill="#b2de2a"/>
<rect x="240" y="195" width="10.5" height="10.5" fill="#3ccf3a"/>
<rect x="250" y="195" width="10.5" height="10.5" fill="#3ccf3a"/>
<rect x="260" y="195" width="10.5" height="10.5" fill="#3ccf3a"/>
<rect x="10" y="205" width="10.5" height="10.5" fill="#b2de2a"/>
<rect x="20" y="205" width="10.5" height="10.5" fill="#b2de2a"/>
<rect x="30" y="205" width="10.5" height="10.5" fill="#1d3d8a"/>
<rect x="40" y="205" width="10.5" height="10.5" fill="#1d3d8a"/>
<rect x="50" y="205" width="10.5" height="10.5" fill="#1d3d8a"/>
<rect x="60" y="205" width="10.5" height="10.5" fill="#1d3d8a"/>
<rect x="70" y="205" width="10.5" height="10.5" fill="#1d3d8a"/>
<rect x="80" y="205" width="10.5" height="10.5" fill="#1d3d8a"/>
<rect x="90" y="205" width="10.5" height="10.5" fill="#2a8490"/>
<rect x="100" y="205" width="10.5" height="10.5" fill="#1d3d8a"/>
<rect x="110" y="205" width="10.5" height="10.5" fill="#1d3d8a"/>
<rect x="120" y="205" width="10.5" height="10.5" fill="#1d3d8a"/>
<rect x="130" y="205" width="10.5" height="10.5" fill="#b2de2a"/>
<rect x="140" y="205" width="10.5" height="10.5" fill="#2a8490"/>
<rect x="150" y="205" width="10.5" height="10.5" fill="#b2de2a"/>
<rect x="160" y="205" width="10.5" height="10.5" fill="#cf5639"/>
<rect x="170" y="205" width="10.5" height="10.5" fill="#2a8490"/>
<rect x="180" y="205" width="10.5" height="10.5" fill="#1d3d8a"/>
<rect x="190" y="205" width="10.5" height="10.5" fill="#2a8490"/>
<rect x="200" y="205" width="10.5" height="10.5" fill="#1d3d8a"/>
<rect x="210" y="205" width="10.5" height="10.5" fill="#2a8490"/>
<rect x="220" y="205" width="10.5" height="10.5" fill="#2a8490"/>
<rect x="230" y="205" width="10.5" height="10.5" fill="#1d3d8a"/>
<rect x="240" y="205" width="10.5" height="10.5" fill="#3ccf3a"/>
<rect x="250" y="205" width="10.5" height="10.5" fill="#3ccf3a"/>
<rect x="260" y="205" width="10.5" height="10.5" fill="#3ccf3a"/>
<rect x="10" y="215" width="10.5" height="10.5" fill="#b2de2a"/>
<rect x="20" y="215" width="10.5" height="10.5" fill="#b2de2a"/>
<rect x="30" y="215" width="10.5" height="10.5" fill="#1d3d8a"/>
<rect x="40" y="215" width="10.5" height="10.5" fill="#1d3d8a"/>
<rect x="50" y="215" width="10.5" height="10.5" fill="#1d3d8a"/>
<rect x="60" y="215" width="10.5" height="10.5" fill="#1d3d8a"/>
<rect x="70" y="215" width="10.5" height="10.5" fill="#1d3d8a"/>
<rect x="80" y="215" width="10.5" height="10.5" fill="#1d3d8a"/>
<rect x="90" y="215" width="10.5" height="10.5" fill="#2a8490"/>
<rect x="100" y="215" width="10.5" height="10.5" fill="#1d3d8a"/>
<rect x="110" y="215" width="10.5" height="10.5" fill="#1d3d8a"/>
<rect x="120" y="215" width="10.5" height="10.5" fill="#1d3d8a"/>
<rect x="130" y="215" width="10.5" height="10.5" fill="#b2de2a"/>
<rect x="140" y="215" width="10.5" height="10.5" fill="#2a8490"/>
<rect x="150" y="215" width="10.5" height="10.5" fill="#1d3d8a"/>
<rect x="160" y="215" width="10.5" height="10.5" fill="#1d3d8a"/>
<rect x="170" y="215" width="10.5" height="10.5" fill="#1d3d8a"/>
<rect x="180" y="215" width="10.5" height="10.5" fill="#1d3d8a"/>
<rect x="190" y="215" width="10.5" height="10.5" fill="#1d3d8a"/>
<rect x="200" y="215" width="10.5" height="10.5" fill="#1d3d8a"/>
<rect x="210" y="215" width="10.5" height="10.5" fill="#1d3d8a"/>
<rect x="220" y="215" width="10.5" height="10.5" fill="#1d3d8a"/>
<rect x="230" y="215" width="10.5" height="10.5" fill="#1d3d8a"/>
<rect x="240" y="215" width="10.5" height="10.5" fill="#1d3d8a"/>
<rect x="250" y="215" width="10.5" height="10.5" fill="#3ccf3a"/>
<rect x="260" y="215" width="10.5" height="10.5" fill="#3ccf3a"/></g>
</g></g>
<g transform="translate(272,246.5)">
<g clip-path="url(#clipmap)">
<polygon points="112.5,46.0 115.4,45.2 119.0,48.5 124.0,43.7 130.0,39.4 137.0,37.2 146.0,37.5 154.0,37.0 161.0,36.3 168.0,36.0 172.5,35.2 174.3,31.0 177.8,31.5 187.3,32.0 199.0,33.4 211.0,32.7 218.0,31.5 219.2,24.5 223.9,20.9 229.4,19.3 232.2,26.8 231.0,33.9 234.6,37.5 241.7,43.4 251.1,48.1 257.0,43.4 260.6,48.1 264.1,52.8 260.6,56.4 262.9,64.6 267.7,69.4 267.7,78.8 265.3,85.9 258.2,88.3 255.8,93.0 255.5,97.0 255.3,103.5 252.5,106.0 256.2,108.6 262.1,115.3 264.6,119.6 262.9,123.8 260.4,130.5 259.6,135.6 255.3,142.4 255.3,147.4 258.7,150.8 260.4,157.6 259.6,164.3 257.0,167.3 254.0,172.5 250.2,177.5 244.3,182.3 241.9,187.1 241.0,190.5 249.0,189.5 256.2,187.7 259.2,188.9 259.8,193.1 257.4,194.3 251.4,196.0 245.4,199.0 244.3,202.6 241.9,203.8 238.3,206.2 235.9,209.2 235.9,212.2 233.5,215.7 235.9,218.1 234.7,221.7 229.9,223.5 228.1,220.5 228.7,216.9 226.4,213.3 222.8,209.8 218.0,209.2 215.7,208.7 208.6,209.8 201.5,208.7 199.1,206.3 192.0,203.9 187.3,207.5 182.6,211.0 180.2,214.6 175.5,219.3 166.0,221.7 157.2,222.6 149.0,224.3 144.1,223.5 144.9,217.7 144.1,214.5 139.2,212.8 131.0,212.0 122.8,211.2 117.9,213.6 108.1,214.5 102.4,214.5 101.5,207.9 95.0,204.6 89.0,205.2 81.3,202.7 73.7,201.4 71.2,193.8 63.5,188.7 55.9,184.9 49.5,181.1 43.2,179.8 38.1,186.2 33.0,190.0 30.4,187.4 25.4,183.6 21.5,178.5 17.7,170.9 15.2,160.7 12.6,145.4 11.4,130.2 15.2,122.5 17.7,121.3 24.1,126.4 30.4,125.1 31.7,130.2 38.1,132.7 43.2,137.8 45.7,144.2 49.5,145.4 55.9,144.2 59.7,142.9 63.5,139.1 66.1,130.2 68.6,128.9 72.4,132.7 78.8,131.5 86.4,130.2 94.1,127.6 100.4,125.1 104.5,123.6 105.3,120.4 106.1,110.9 107.7,101.3 109.3,94.2 112.5,89.4 117.2,87.0 122.0,84.6 121.2,80.7 123.6,75.9 122.8,69.5 123.6,63.2 120.5,60.5 117.0,54.5 113.0,52.0" fill="#e9a82a"/>
<g filter="url(#soft)"><rect x="10" y="15" width="10.5" height="10.5" fill="#e6982a"/>
<rect x="20" y="15" width="10.5" height="10.5" fill="#d86c33"/>
<rect x="30" y="15" width="10.5" height="10.5" fill="#d86c33"/>
<rect x="40" y="15" width="10.5" height="10.5" fill="#b2de2a"/>
<rect x="50" y="15" width="10.5" height="10.5" fill="#b2de2a"/>
<rect x="60" y="15" width="10.5" height="10.5" fill="#b2de2a"/>
<rect x="70" y="15" width="10.5" height="10.5" fill="#b2de2a"/>
<rect x="80" y="15" width="10.5" height="10.5" fill="#b2de2a"/>
<rect x="90" y="15" width="10.5" height="10.5" fill="#b2de2a"/>
<rect x="100" y="15" width="10.5" height="10.5" fill="#b2de2a"/>
<rect x="110" y="15" width="10.5" height="10.5" fill="#b2de2a"/>
<rect x="120" y="15" width="10.5" height="10.5" fill="#b2de2a"/>
<rect x="130" y="15" width="10.5" height="10.5" fill="#b2de2a"/>
<rect x="140" y="15" width="10.5" height="10.5" fill="#eba823"/>
<rect x="150" y="15" width="10.5" height="10.5" fill="#e6982a"/>
<rect x="160" y="15" width="10.5" height="10.5" fill="#eba823"/>
<rect x="170" y="15" width="10.5" height="10.5" fill="#eba823"/>
<rect x="180" y="15" width="10.5" height="10.5" fill="#b2de2a"/>
<rect x="190" y="15" width="10.5" height="10.5" fill="#eba823"/>
<rect x="200" y="15" width="10.5" height="10.5" fill="#b2de2a"/>
<rect x="210" y="15" width="10.5" height="10.5" fill="#eba823"/>
<rect x="220" y="15" width="10.5" height="10.5" fill="#eba823"/>
<rect x="230" y="15" width="10.5" height="10.5" fill="#eba823"/>
<rect x="240" y="15" width="10.5" height="10.5" fill="#eba823"/>
<rect x="250" y="15" width="10.5" height="10.5" fill="#eba823"/>
<rect x="260" y="15" width="10.5" height="10.5" fill="#eba823"/>
<rect x="10" y="25" width="10.5" height="10.5" fill="#e6982a"/>
<rect x="20" y="25" width="10.5" height="10.5" fill="#d86c33"/>
<rect x="30" y="25" width="10.5" height="10.5" fill="#d86c33"/>
<rect x="40" y="25" width="10.5" height="10.5" fill="#b2de2a"/>
<rect x="50" y="25" width="10.5" height="10.5" fill="#b2de2a"/>
<rect x="60" y="25" width="10.5" height="10.5" fill="#b2de2a"/>
<rect x="70" y="25" width="10.5" height="10.5" fill="#b2de2a"/>
<rect x="80" y="25" width="10.5" height="10.5" fill="#b2de2a"/>
<rect x="90" y="25" width="10.5" height="10.5" fill="#b2de2a"/>
<rect x="100" y="25" width="10.5" height="10.5" fill="#b2de2a"/>
<rect x="110" y="25" width="10.5" height="10.5" fill="#b2de2a"/>
<rect x="120" y="25" width="10.5" height="10.5" fill="#b2de2a"/>
<rect x="130" y="25" width="10.5" height="10.5" fill="#b2de2a"/>
<rect x="140" y="25" width="10.5" height="10.5" fill="#eba823"/>
<rect x="150" y="25" width="10.5" height="10.5" fill="#e6982a"/>
<rect x="160" y="25" width="10.5" height="10.5" fill="#eba823"/>
<rect x="170" y="25" width="10.5" height="10.5" fill="#eba823"/>
<rect x="180" y="25" width="10.5" height="10.5" fill="#b2de2a"/>
<rect x="190" y="25" width="10.5" height="10.5" fill="#eba823"/>
<rect x="200" y="25" width="10.5" height="10.5" fill="#b2de2a"/>
<rect x="210" y="25" width="10.5" height="10.5" fill="#b2de2a"/>
<rect x="220" y="25" width="10.5" height="10.5" fill="#ecc427"/>
<rect x="230" y="25" width="10.5" height="10.5" fill="#ecc427"/>
<rect x="240" y="25" width="10.5" height="10.5" fill="#ecc427"/>
<rect x="250" y="25" width="10.5" height="10.5" fill="#eba823"/>
<rect x="260" y="25" width="10.5" height="10.5" fill="#eba823"/>
<rect x="10" y="35" width="10.5" height="10.5" fill="#e6982a"/>
<rect x="20" y="35" width="10.5" height="10.5" fill="#d86c33"/>
<rect x="30" y="35" width="10.5" height="10.5" fill="#d86c33"/>
<rect x="40" y="35" width="10.5" height="10.5" fill="#b2de2a"/>
<rect x="50" y="35" width="10.5" height="10.5" fill="#b2de2a"/>
<rect x="60" y="35" width="10.5" height="10.5" fill="#b2de2a"/>
<rect x="70" y="35" width="10.5" height="10.5" fill="#b2de2a"/>
<rect x="80" y="35" width="10.5" height="10.5" fill="#b2de2a"/>
<rect x="90" y="35" width="10.5" height="10.5" fill="#b2de2a"/>
<rect x="100" y="35" width="10.5" height="10.5" fill="#b2de2a"/>
<rect x="110" y="35" width="10.5" height="10.5" fill="#b2de2a"/>
<rect x="120" y="35" width="10.5" height="10.5" fill="#b2de2a"/>
<rect x="130" y="35" width="10.5" height="10.5" fill="#b2de2a"/>
<rect x="140" y="35" width="10.5" height="10.5" fill="#eba823"/>
<rect x="150" y="35" width="10.5" height="10.5" fill="#e6982a"/>
<rect x="160" y="35" width="10.5" height="10.5" fill="#b2de2a"/>
<rect x="170" y="35" width="10.5" height="10.5" fill="#e6982a"/>
<rect x="180" y="35" width="10.5" height="10.5" fill="#e6982a"/>
<rect x="190" y="35" width="10.5" height="10.5" fill="#e6982a"/>
<rect x="200" y="35" width="10.5" height="10.5" fill="#b2de2a"/>
<rect x="210" y="35" width="10.5" height="10.5" fill="#b2de2a"/>
<rect x="220" y="35" width="10.5" height="10.5" fill="#b2de2a"/>
<rect x="230" y="35" width="10.5" height="10.5" fill="#eba823"/>
<rect x="240" y="35" width="10.5" height="10.5" fill="#eba823"/>
<rect x="250" y="35" width="10.5" height="10.5" fill="#eba823"/>
<rect x="260" y="35" width="10.5" height="10.5" fill="#eba823"/>
<rect x="10" y="45" width="10.5" height="10.5" fill="#e6982a"/>
<rect x="20" y="45" width="10.5" height="10.5" fill="#d86c33"/>
<rect x="30" y="45" width="10.5" height="10.5" fill="#d86c33"/>
<rect x="40" y="45" width="10.5" height="10.5" fill="#cf5639"/>
<rect x="50" y="45" width="10.5" height="10.5" fill="#cf5639"/>
<rect x="60" y="45" width="10.5" height="10.5" fill="#cf5639"/>
<rect x="70" y="45" width="10.5" height="10.5" fill="#cf5639"/>
<rect x="80" y="45" width="10.5" height="10.5" fill="#cf5639"/>
<rect x="90" y="45" width="10.5" height="10.5" fill="#cf5639"/>
<rect x="100" y="45" width="10.5" height="10.5" fill="#cf5639"/>
<rect x="110" y="45" width="10.5" height="10.5" fill="#cf5639"/>
<rect x="120" y="45" width="10.5" height="10.5" fill="#b2de2a"/>
<rect x="130" y="45" width="10.5" height="10.5" fill="#d86c33"/>
<rect x="140" y="45" width="10.5" height="10.5" fill="#cf5639"/>
<rect x="150" y="45" width="10.5" height="10.5" fill="#d86c33"/>
<rect x="160" y="45" width="10.5" height="10.5" fill="#e6982a"/>
<rect x="170" y="45" width="10.5" height="10.5" fill="#e6982a"/>
<rect x="180" y="45" width="10.5" height="10.5" fill="#e6982a"/>
<rect x="190" y="45" width="10.5" height="10.5" fill="#e6982a"/>
<rect x="200" y="45" width="10.5" height="10.5" fill="#b2de2a"/>
<rect x="210" y="45" width="10.5" height="10.5" fill="#ecc427"/>
<rect x="220" y="45" width="10.5" height="10.5" fill="#eba823"/>
<rect x="230" y="45" width="10.5" height="10.5" fill="#b2de2a"/>
<rect x="240" y="45" width="10.5" height="10.5" fill="#eba823"/>
<rect x="250" y="45" width="10.5" height="10.5" fill="#eba823"/>
<rect x="260" y="45" width="10.5" height="10.5" fill="#eba823"/>
<rect x="10" y="55" width="10.5" height="10.5" fill="#e6982a"/>
<rect x="20" y="55" width="10.5" height="10.5" fill="#d86c33"/>
<rect x="30" y="55" width="10.5" height="10.5" fill="#d86c33"/>
<rect x="40" y="55" width="10.5" height="10.5" fill="#d86c33"/>
<rect x="50" y="55" width="10.5" height="10.5" fill="#cf5639"/>
<rect x="60" y="55" width="10.5" height="10.5" fill="#cf5639"/>
<rect x="70" y="55" width="10.5" height="10.5" fill="#cf5639"/>
<rect x="80" y="55" width="10.5" height="10.5" fill="#cf5639"/>
<rect x="90" y="55" width="10.5" height="10.5" fill="#cf5639"/>
<rect x="100" y="55" width="10.5" height="10.5" fill="#cf5639"/>
<rect x="110" y="55" width="10.5" height="10.5" fill="#cf5639"/>
<rect x="120" y="55" width="10.5" height="10.5" fill="#d86c33"/>
<rect x="130" y="55" width="10.5" height="10.5" fill="#cf5639"/>
<rect x="140" y="55" width="10.5" height="10.5" fill="#cf5639"/>
<rect x="150" y="55" width="10.5" height="10.5" fill="#d86c33"/>
<rect x="160" y="55" width="10.5" height="10.5" fill="#df852b"/>
<rect x="170" y="55" width="10.5" height="10.5" fill="#d86c33"/>
<rect x="180" y="55" width="10.5" height="10.5" fill="#d86c33"/>
<rect x="190" y="55" width="10.5" height="10.5" fill="#e6982a"/>
<rect x="200" y="55" width="10.5" height="10.5" fill="#e6982a"/>
<rect x="210" y="55" width="10.5" height="10.5" fill="#eba823"/>
<rect x="220" y="55" width="10.5" height="10.5" fill="#eba823"/>
<rect x="230" y="55" width="10.5" height="10.5" fill="#ecc427"/>
<rect x="240" y="55" width="10.5" height="10.5" fill="#d86c33"/>
<rect x="250" y="55" width="10.5" height="10.5" fill="#eba823"/>
<rect x="260" y="55" width="10.5" height="10.5" fill="#eba823"/>
<rect x="10" y="65" width="10.5" height="10.5" fill="#e6982a"/>
<rect x="20" y="65" width="10.5" height="10.5" fill="#d86c33"/>
<rect x="30" y="65" width="10.5" height="10.5" fill="#d86c33"/>
<rect x="40" y="65" width="10.5" height="10.5" fill="#d86c33"/>
<rect x="50" y="65" width="10.5" height="10.5" fill="#cf5639"/>
<rect x="60" y="65" width="10.5" height="10.5" fill="#cf5639"/>
<rect x="70" y="65" width="10.5" height="10.5" fill="#cf5639"/>
<rect x="80" y="65" width="10.5" height="10.5" fill="#cf5639"/>
<rect x="90" y="65" width="10.5" height="10.5" fill="#cf5639"/>
<rect x="100" y="65" width="10.5" height="10.5" fill="#cf5639"/>
<rect x="110" y="65" width="10.5" height="10.5" fill="#cf5639"/>
<rect x="120" y="65" width="10.5" height="10.5" fill="#cf5639"/>
<rect x="130" y="65" width="10.5" height="10.5" fill="#d86c33"/>
<rect x="140" y="65" width="10.5" height="10.5" fill="#eba823"/>
<rect x="150" y="65" width="10.5" height="10.5" fill="#e6982a"/>
<rect x="160" y="65" width="10.5" height="10.5" fill="#e6982a"/>
<rect x="170" y="65" width="10.5" height="10.5" fill="#e6982a"/>
<rect x="180" y="65" width="10.5" height="10.5" fill="#e6982a"/>
<rect x="190" y="65" width="10.5" height="10.5" fill="#e6982a"/>
<rect x="200" y="65" width="10.5" height="10.5" fill="#e6982a"/>
<rect x="210" y="65" width="10.5" height="10.5" fill="#eba823"/>
<rect x="220" y="65" width="10.5" height="10.5" fill="#ecc427"/>
<rect x="230" y="65" width="10.5" height="10.5" fill="#ecc427"/>
<rect x="240" y="65" width="10.5" height="10.5" fill="#e6982a"/>
<rect x="250" y="65" width="10.5" height="10.5" fill="#ecc427"/>
<rect x="260" y="65" width="10.5" height="10.5" fill="#3ccf3a"/>
<rect x="10" y="75" width="10.5" height="10.5" fill="#e6982a"/>
<rect x="20" y="75" width="10.5" height="10.5" fill="#d86c33"/>
<rect x="30" y="75" width="10.5" height="10.5" fill="#d86c33"/>
<rect x="40" y="75" width="10.5" height="10.5" fill="#d86c33"/>
<rect x="50" y="75" width="10.5" height="10.5" fill="#e6982a"/>
<rect x="60" y="75" width="10.5" height="10.5" fill="#e6982a"/>
<rect x="70" y="75" width="10.5" height="10.5" fill="#e6982a"/>
<rect x="80" y="75" width="10.5" height="10.5" fill="#e6982a"/>
<rect x="90" y="75" width="10.5" height="10.5" fill="#e6982a"/>
<rect x="100" y="75" width="10.5" height="10.5" fill="#e6982a"/>
<rect x="110" y="75" width="10.5" height="10.5" fill="#d86c33"/>
<rect x="120" y="75" width="10.5" height="10.5" fill="#d86c33"/>
<rect x="130" y="75" width="10.5" height="10.5" fill="#ecc427"/>
<rect x="140" y="75" width="10.5" height="10.5" fill="#eba823"/>
<rect x="150" y="75" width="10.5" height="10.5" fill="#ecc427"/>
<rect x="160" y="75" width="10.5" height="10.5" fill="#df852b"/>
<rect x="170" y="75" width="10.5" height="10.5" fill="#ecc427"/>
<rect x="180" y="75" width="10.5" height="10.5" fill="#ecc427"/>
<rect x="190" y="75" width="10.5" height="10.5" fill="#df852b"/>
<rect x="200" y="75" width="10.5" height="10.5" fill="#eba823"/>
<rect x="210" y="75" width="10.5" height="10.5" fill="#ecc427"/>
<rect x="220" y="75" width="10.5" height="10.5" fill="#e6982a"/>
<rect x="230" y="75" width="10.5" height="10.5" fill="#ecc427"/>
<rect x="240" y="75" width="10.5" height="10.5" fill="#b2de2a"/>
<rect x="250" y="75" width="10.5" height="10.5" fill="#b2de2a"/>
<rect x="260" y="75" width="10.5" height="10.5" fill="#b2de2a"/>
<rect x="10" y="85" width="10.5" height="10.5" fill="#e6982a"/>
<rect x="20" y="85" width="10.5" height="10.5" fill="#d86c33"/>
<rect x="30" y="85" width="10.5" height="10.5" fill="#d86c33"/>
<rect x="40" y="85" width="10.5" height="10.5" fill="#d86c33"/>
<rect x="50" y="85" width="10.5" height="10.5" fill="#e6982a"/>
<rect x="60" y="85" width="10.5" height="10.5" fill="#e6982a"/>
<rect x="70" y="85" width="10.5" height="10.5" fill="#e6982a"/>
<rect x="80" y="85" width="10.5" height="10.5" fill="#e6982a"/>
<rect x="90" y="85" width="10.5" height="10.5" fill="#e6982a"/>
<rect x="100" y="85" width="10.5" height="10.5" fill="#e6982a"/>
<rect x="110" y="85" width="10.5" height="10.5" fill="#df852b"/>
<rect x="120" y="85" width="10.5" height="10.5" fill="#e6982a"/>
<rect x="130" y="85" width="10.5" height="10.5" fill="#ecc427"/>
<rect x="140" y="85" width="10.5" height="10.5" fill="#eba823"/>
<rect x="150" y="85" width="10.5" height="10.5" fill="#df852b"/>
<rect x="160" y="85" width="10.5" height="10.5" fill="#e6982a"/>
<rect x="170" y="85" width="10.5" height="10.5" fill="#e6982a"/>
<rect x="180" y="85" width="10.5" height="10.5" fill="#eba823"/>
<rect x="190" y="85" width="10.5" height="10.5" fill="#e6982a"/>
<rect x="200" y="85" width="10.5" height="10.5" fill="#eba823"/>
<rect x="210" y="85" width="10.5" height="10.5" fill="#b2de2a"/>
<rect x="220" y="85" width="10.5" height="10.5" fill="#b2de2a"/>
<rect x="230" y="85" width="10.5" height="10.5" fill="#b2de2a"/>
<rect x="240" y="85" width="10.5" height="10.5" fill="#3ccf3a"/>
<rect x="250" y="85" width="10.5" height="10.5" fill="#b2de2a"/>
<rect x="260" y="85" width="10.5" height="10.5" fill="#b2de2a"/>
<rect x="10" y="95" width="10.5" height="10.5" fill="#e6982a"/>
<rect x="20" y="95" width="10.5" height="10.5" fill="#d86c33"/>
<rect x="30" y="95" width="10.5" height="10.5" fill="#d86c33"/>
<rect x="40" y="95" width="10.5" height="10.5" fill="#d86c33"/>
<rect x="50" y="95" width="10.5" height="10.5" fill="#d86c33"/>
<rect x="60" y="95" width="10.5" height="10.5" fill="#df852b"/>
<rect x="70" y="95" width="10.5" height="10.5" fill="#df852b"/>
<rect x="80" y="95" width="10.5" height="10.5" fill="#df852b"/>
<rect x="90" y="95" width="10.5" height="10.5" fill="#df852b"/>
<rect x="100" y="95" width="10.5" height="10.5" fill="#df852b"/>
<rect x="110" y="95" width="10.5" height="10.5" fill="#b2de2a"/>
<rect x="120" y="95" width="10.5" height="10.5" fill="#eba823"/>
<rect x="130" y="95" width="10.5" height="10.5" fill="#e6982a"/>
<rect x="140" y="95" width="10.5" height="10.5" fill="#e6982a"/>
<rect x="150" y="95" width="10.5" height="10.5" fill="#df852b"/>
<rect x="160" y="95" width="10.5" height="10.5" fill="#df852b"/>
<rect x="170" y="95" width="10.5" height="10.5" fill="#e6982a"/>
<rect x="180" y="95" width="10.5" height="10.5" fill="#e6982a"/>
<rect x="190" y="95" width="10.5" height="10.5" fill="#e6982a"/>
<rect x="200" y="95" width="10.5" height="10.5" fill="#eba823"/>
<rect x="210" y="95" width="10.5" height="10.5" fill="#2bb276"/>
<rect x="220" y="95" width="10.5" height="10.5" fill="#b2de2a"/>
<rect x="230" y="95" width="10.5" height="10.5" fill="#b2de2a"/>
<rect x="240" y="95" width="10.5" height="10.5" fill="#b2de2a"/>
<rect x="250" y="95" width="10.5" height="10.5" fill="#3ccf3a"/>
<rect x="260" y="95" width="10.5" height="10.5" fill="#3ccf3a"/>
<rect x="10" y="105" width="10.5" height="10.5" fill="#e6982a"/>
<rect x="20" y="105" width="10.5" height="10.5" fill="#d86c33"/>
<rect x="30" y="105" width="10.5" height="10.5" fill="#d86c33"/>
<rect x="40" y="105" width="10.5" height="10.5" fill="#d86c33"/>
<rect x="50" y="105" width="10.5" height="10.5" fill="#d86c33"/>
<rect x="60" y="105" width="10.5" height="10.5" fill="#df852b"/>
<rect x="70" y="105" width="10.5" height="10.5" fill="#d86c33"/>
<rect x="80" y="105" width="10.5" height="10.5" fill="#df852b"/>
<rect x="90" y="105" width="10.5" height="10.5" fill="#df852b"/>
<rect x="100" y="105" width="10.5" height="10.5" fill="#df852b"/>
<rect x="110" y="105" width="10.5" height="10.5" fill="#b2de2a"/>
<rect x="120" y="105" width="10.5" height="10.5" fill="#e6982a"/>
<rect x="130" y="105" width="10.5" height="10.5" fill="#eba823"/>
<rect x="140" y="105" width="10.5" height="10.5" fill="#df852b"/>
<rect x="150" y="105" width="10.5" height="10.5" fill="#df852b"/>
<rect x="160" y="105" width="10.5" height="10.5" fill="#e6982a"/>
<rect x="170" y="105" width="10.5" height="10.5" fill="#df852b"/>
<rect x="180" y="105" width="10.5" height="10.5" fill="#eba823"/>
<rect x="190" y="105" width="10.5" height="10.5" fill="#eba823"/>
<rect x="200" y="105" width="10.5" height="10.5" fill="#2bb276"/>
<rect x="210" y="105" width="10.5" height="10.5" fill="#b2de2a"/>
<rect x="220" y="105" width="10.5" height="10.5" fill="#3ccf3a"/>
<rect x="230" y="105" width="10.5" height="10.5" fill="#b2de2a"/>
<rect x="240" y="105" width="10.5" height="10.5" fill="#3ccf3a"/>
<rect x="250" y="105" width="10.5" height="10.5" fill="#3ccf3a"/>
<rect x="260" y="105" width="10.5" height="10.5" fill="#3ccf3a"/>
<rect x="10" y="115" width="10.5" height="10.5" fill="#e6982a"/>
<rect x="20" y="115" width="10.5" height="10.5" fill="#d86c33"/>
<rect x="30" y="115" width="10.5" height="10.5" fill="#d86c33"/>
<rect x="40" y="115" width="10.5" height="10.5" fill="#d86c33"/>
<rect x="50" y="115" width="10.5" height="10.5" fill="#d86c33"/>
<rect x="60" y="115" width="10.5" height="10.5" fill="#df852b"/>
<rect x="70" y="115" width="10.5" height="10.5" fill="#d86c33"/>
<rect x="80" y="115" width="10.5" height="10.5" fill="#d86c33"/>
<rect x="90" y="115" width="10.5" height="10.5" fill="#b2de2a"/>
<rect x="100" y="115" width="10.5" height="10.5" fill="#b2de2a"/>
<rect x="110" y="115" width="10.5" height="10.5" fill="#e6982a"/>
<rect x="120" y="115" width="10.5" height="10.5" fill="#df852b"/>
<rect x="130" y="115" width="10.5" height="10.5" fill="#df852b"/>
<rect x="140" y="115" width="10.5" height="10.5" fill="#e6982a"/>
<rect x="150" y="115" width="10.5" height="10.5" fill="#ecc427"/>
<rect x="160" y="115" width="10.5" height="10.5" fill="#eba823"/>
<rect x="170" y="115" width="10.5" height="10.5" fill="#eba823"/>
<rect x="180" y="115" width="10.5" height="10.5" fill="#eba823"/>
<rect x="190" y="115" width="10.5" height="10.5" fill="#b2de2a"/>
<rect x="200" y="115" width="10.5" height="10.5" fill="#b2de2a"/>
<rect x="210" y="115" width="10.5" height="10.5" fill="#1d3d8a"/>
<rect x="220" y="115" width="10.5" height="10.5" fill="#b2de2a"/>
<rect x="230" y="115" width="10.5" height="10.5" fill="#d86c33"/>
<rect x="240" y="115" width="10.5" height="10.5" fill="#3ccf3a"/>
<rect x="250" y="115" width="10.5" height="10.5" fill="#b2de2a"/>
<rect x="260" y="115" width="10.5" height="10.5" fill="#b2de2a"/>
<rect x="10" y="125" width="10.5" height="10.5" fill="#e6982a"/>
<rect x="20" y="125" width="10.5" height="10.5" fill="#b2de2a"/>
<rect x="30" y="125" width="10.5" height="10.5" fill="#b2de2a"/>
<rect x="40" y="125" width="10.5" height="10.5" fill="#b2de2a"/>
<rect x="50" y="125" width="10.5" height="10.5" fill="#df852b"/>
<rect x="60" y="125" width="10.5" height="10.5" fill="#df852b"/>
<rect x="70" y="125" width="10.5" height="10.5" fill="#d86c33"/>
<rect x="80" y="125" width="10.5" height="10.5" fill="#d86c33"/>
<rect x="90" y="125" width="10.5" height="10.5" fill="#df852b"/>
<rect x="100" y="125" width="10.5" height="10.5" fill="#b2de2a"/>
<rect x="110" y="125" width="10.5" height="10.5" fill="#df852b"/>
<rect x="120" y="125" width="10.5" height="10.5" fill="#df852b"/>
<rect x="130" y="125" width="10.5" height="10.5" fill="#df852b"/>
<rect x="140" y="125" width="10.5" height="10.5" fill="#eba823"/>
<rect x="150" y="125" width="10.5" height="10.5" fill="#e6982a"/>
<rect x="160" y="125" width="10.5" height="10.5" fill="#eba823"/>
<rect x="170" y="125" width="10.5" height="10.5" fill="#ecc427"/>
<rect x="180" y="125" width="10.5" height="10.5" fill="#eba823"/>
<rect x="190" y="125" width="10.5" height="10.5" fill="#ecc427"/>
<rect x="200" y="125" width="10.5" height="10.5" fill="#b2de2a"/>
<rect x="210" y="125" width="10.5" height="10.5" fill="#1d3d8a"/>
<rect x="220" y="125" width="10.5" height="10.5" fill="#e6982a"/>
<rect x="230" y="125" width="10.5" height="10.5" fill="#b2de2a"/>
<rect x="240" y="125" width="10.5" height="10.5" fill="#2a8490"/>
<rect x="250" y="125" width="10.5" height="10.5" fill="#3ccf3a"/>
<rect x="260" y="125" width="10.5" height="10.5" fill="#3ccf3a"/>
<rect x="10" y="135" width="10.5" height="10.5" fill="#b2de2a"/>
<rect x="20" y="135" width="10.5" height="10.5" fill="#b2de2a"/>
<rect x="30" y="135" width="10.5" height="10.5" fill="#b2de2a"/>
<rect x="40" y="135" width="10.5" height="10.5" fill="#3ccf3a"/>
<rect x="50" y="135" width="10.5" height="10.5" fill="#b2de2a"/>
<rect x="60" y="135" width="10.5" height="10.5" fill="#df852b"/>
<rect x="70" y="135" width="10.5" height="10.5" fill="#d86c33"/>
<rect x="80" y="135" width="10.5" height="10.5" fill="#d86c33"/>
<rect x="90" y="135" width="10.5" height="10.5" fill="#d86c33"/>
<rect x="100" y="135" width="10.5" height="10.5" fill="#df852b"/>
<rect x="110" y="135" width="10.5" height="10.5" fill="#df852b"/>
<rect x="120" y="135" width="10.5" height="10.5" fill="#e6982a"/>
<rect x="130" y="135" width="10.5" height="10.5" fill="#eba823"/>
<rect x="140" y="135" width="10.5" height="10.5" fill="#eba823"/>
<rect x="150" y="135" width="10.5" height="10.5" fill="#ecc427"/>
<rect x="160" y="135" width="10.5" height="10.5" fill="#ecc427"/>
<rect x="170" y="135" width="10.5" height="10.5" fill="#e6ec22"/>
<rect x="180" y="135" width="10.5" height="10.5" fill="#ecc427"/>
<rect x="190" y="135" width="10.5" height="10.5" fill="#ecc427"/>
<rect x="200" y="135" width="10.5" height="10.5" fill="#b2de2a"/>
<rect x="210" y="135" width="10.5" height="10.5" fill="#2bb276"/>
<rect x="220" y="135" width="10.5" height="10.5" fill="#b2de2a"/>
<rect x="230" y="135" width="10.5" height="10.5" fill="#1d3d8a"/>
<rect x="240" y="135" width="10.5" height="10.5" fill="#3ccf3a"/>
<rect x="250" y="135" width="10.5" height="10.5" fill="#3ccf3a"/>
<rect x="260" y="135" width="10.5" height="10.5" fill="#3ccf3a"/>
<rect x="10" y="145" width="10.5" height="10.5" fill="#b2de2a"/>
<rect x="20" y="145" width="10.5" height="10.5" fill="#b2de2a"/>
<rect x="30" y="145" width="10.5" height="10.5" fill="#e6982a"/>
<rect x="40" y="145" width="10.5" height="10.5" fill="#b2de2a"/>
<rect x="50" y="145" width="10.5" height="10.5" fill="#eba823"/>
<rect x="60" y="145" width="10.5" height="10.5" fill="#e6982a"/>
<rect x="70" y="145" width="10.5" height="10.5" fill="#df852b"/>
<rect x="80" y="145" width="10.5" height="10.5" fill="#d86c33"/>
<rect x="90" y="145" width="10.5" height="10.5" fill="#d86c33"/>
<rect x="100" y="145" width="10.5" height="10.5" fill="#df852b"/>
<rect x="110" y="145" width="10.5" height="10.5" fill="#eba823"/>
<rect x="120" y="145" width="10.5" height="10.5" fill="#eba823"/>
<rect x="130" y="145" width="10.5" height="10.5" fill="#ecc427"/>
<rect x="140" y="145" width="10.5" height="10.5" fill="#e6ec22"/>
<rect x="150" y="145" width="10.5" height="10.5" fill="#ecc427"/>
<rect x="160" y="145" width="10.5" height="10.5" fill="#ecc427"/>
<rect x="170" y="145" width="10.5" height="10.5" fill="#e6ec22"/>
<rect x="180" y="145" width="10.5" height="10.5" fill="#b2de2a"/>
<rect x="190" y="145" width="10.5" height="10.5" fill="#ecc427"/>
<rect x="200" y="145" width="10.5" height="10.5" fill="#b2de2a"/>
<rect x="210" y="145" width="10.5" height="10.5" fill="#2bb276"/>
<rect x="220" y="145" width="10.5" height="10.5" fill="#2a8490"/>
<rect x="230" y="145" width="10.5" height="10.5" fill="#1d3d8a"/>
<rect x="240" y="145" width="10.5" height="10.5" fill="#3ccf3a"/>
<rect x="250" y="145" width="10.5" height="10.5" fill="#b2de2a"/>
<rect x="260" y="145" width="10.5" height="10.5" fill="#b2de2a"/>
<rect x="10" y="155" width="10.5" height="10.5" fill="#e6982a"/>
<rect x="20" y="155" width="10.5" height="10.5" fill="#b2de2a"/>
<rect x="30" y="155" width="10.5" height="10.5" fill="#e6982a"/>
<rect x="40" y="155" width="10.5" height="10.5" fill="#b2de2a"/>
<rect x="50" y="155" width="10.5" height="10.5" fill="#eba823"/>
<rect x="60" y="155" width="10.5" height="10.5" fill="#e6982a"/>
<rect x="70" y="155" width="10.5" height="10.5" fill="#df852b"/>
<rect x="80" y="155" width="10.5" height="10.5" fill="#e6982a"/>
<rect x="90" y="155" width="10.5" height="10.5" fill="#df852b"/>
<rect x="100" y="155" width="10.5" height="10.5" fill="#eba823"/>
<rect x="110" y="155" width="10.5" height="10.5" fill="#ecc427"/>
<rect x="120" y="155" width="10.5" height="10.5" fill="#ecc427"/>
<rect x="130" y="155" width="10.5" height="10.5" fill="#e6ec22"/>
<rect x="140" y="155" width="10.5" height="10.5" fill="#e6ec22"/>
<rect x="150" y="155" width="10.5" height="10.5" fill="#b2de2a"/>
<rect x="160" y="155" width="10.5" height="10.5" fill="#3ccf3a"/>
<rect x="170" y="155" width="10.5" height="10.5" fill="#2bb276"/>
<rect x="180" y="155" width="10.5" height="10.5" fill="#2bb276"/>
<rect x="190" y="155" width="10.5" height="10.5" fill="#b2de2a"/>
<rect x="200" y="155" width="10.5" height="10.5" fill="#2bb276"/>
<rect x="210" y="155" width="10.5" height="10.5" fill="#b2de2a"/>
<rect x="220" y="155" width="10.5" height="10.5" fill="#2a8490"/>
<rect x="230" y="155" width="10.5" height="10.5" fill="#b2de2a"/>
<rect x="240" y="155" width="10.5" height="10.5" fill="#e6982a"/>
<rect x="250" y="155" width="10.5" height="10.5" fill="#3ccf3a"/>
<rect x="260" y="155" width="10.5" height="10.5" fill="#3ccf3a"/>
<rect x="10" y="165" width="10.5" height="10.5" fill="#df852b"/>
<rect x="20" y="165" width="10.5" height="10.5" fill="#e6982a"/>
<rect x="30" y="165" width="10.5" height="10.5" fill="#e6982a"/>
<rect x="40" y="165" width="10.5" height="10.5" fill="#e6982a"/>
<rect x="50" y="165" width="10.5" height="10.5" fill="#ecc427"/>
<rect x="60" y="165" width="10.5" height="10.5" fill="#eba823"/>
<rect x="70" y="165" width="10.5" height="10.5" fill="#e6982a"/>
<rect x="80" y="165" width="10.5" height="10.5" fill="#eba823"/>
<rect x="90" y="165" width="10.5" height="10.5" fill="#e6982a"/>
<rect x="100" y="165" width="10.5" height="10.5" fill="#eba823"/>
<rect x="110" y="165" width="10.5" height="10.5" fill="#b2de2a"/>
<rect x="120" y="165" width="10.5" height="10.5" fill="#e6ec22"/>
<rect x="130" y="165" width="10.5" height="10.5" fill="#e6ec22"/>
<rect x="140" y="165" width="10.5" height="10.5" fill="#b2de2a"/>
<rect x="150" y="165" width="10.5" height="10.5" fill="#3ccf3a"/>
<rect x="160" y="165" width="10.5" height="10.5" fill="#2bb276"/>
<rect x="170" y="165" width="10.5" height="10.5" fill="#2bb276"/>
<rect x="180" y="165" width="10.5" height="10.5" fill="#2a8490"/>
<rect x="190" y="165" width="10.5" height="10.5" fill="#2bb276"/>
<rect x="200" y="165" width="10.5" height="10.5" fill="#3ccf3a"/>
<rect x="210" y="165" width="10.5" height="10.5" fill="#2bb276"/>
<rect x="220" y="165" width="10.5" height="10.5" fill="#2a8490"/>
<rect x="230" y="165" width="10.5" height="10.5" fill="#3ccf3a"/>
<rect x="240" y="165" width="10.5" height="10.5" fill="#b2de2a"/>
<rect x="250" y="165" width="10.5" height="10.5" fill="#3ccf3a"/>
<rect x="260" y="165" width="10.5" height="10.5" fill="#3ccf3a"/>
<rect x="10" y="175" width="10.5" height="10.5" fill="#df852b"/>
<rect x="20" y="175" width="10.5" height="10.5" fill="#b2de2a"/>
<rect x="30" y="175" width="10.5" height="10.5" fill="#b2de2a"/>
<rect x="40" y="175" width="10.5" height="10.5" fill="#2bb276"/>
<rect x="50" y="175" width="10.5" height="10.5" fill="#2bb276"/>
<rect x="60" y="175" width="10.5" height="10.5" fill="#b2de2a"/>
<rect x="70" y="175" width="10.5" height="10.5" fill="#ecc427"/>
<rect x="80" y="175" width="10.5" height="10.5" fill="#eba823"/>
<rect x="90" y="175" width="10.5" height="10.5" fill="#eba823"/>
<rect x="100" y="175" width="10.5" height="10.5" fill="#b2de2a"/>
<rect x="110" y="175" width="10.5" height="10.5" fill="#b2de2a"/>
<rect x="120" y="175" width="10.5" height="10.5" fill="#3ccf3a"/>
<rect x="130" y="175" width="10.5" height="10.5" fill="#3ccf3a"/>
<rect x="140" y="175" width="10.5" height="10.5" fill="#2bb276"/>
<rect x="150" y="175" width="10.5" height="10.5" fill="#2a8490"/>
<rect x="160" y="175" width="10.5" height="10.5" fill="#2bb276"/>
<rect x="170" y="175" width="10.5" height="10.5" fill="#2a8490"/>
<rect x="180" y="175" width="10.5" height="10.5" fill="#2bb276"/>
<rect x="190" y="175" width="10.5" height="10.5" fill="#2bb276"/>
<rect x="200" y="175" width="10.5" height="10.5" fill="#b2de2a"/>
<rect x="210" y="175" width="10.5" height="10.5" fill="#3ccf3a"/>
<rect x="220" y="175" width="10.5" height="10.5" fill="#1d3d8a"/>
<rect x="230" y="175" width="10.5" height="10.5" fill="#b2de2a"/>
<rect x="240" y="175" width="10.5" height="10.5" fill="#b2de2a"/>
<rect x="250" y="175" width="10.5" height="10.5" fill="#3ccf3a"/>
<rect x="260" y="175" width="10.5" height="10.5" fill="#3ccf3a"/>
<rect x="10" y="185" width="10.5" height="10.5" fill="#df852b"/>
<rect x="20" y="185" width="10.5" height="10.5" fill="#b2de2a"/>
<rect x="30" y="185" width="10.5" height="10.5" fill="#2bb276"/>
<rect x="40" y="185" width="10.5" height="10.5" fill="#2bb276"/>
<rect x="50" y="185" width="10.5" height="10.5" fill="#2bb276"/>
<rect x="60" y="185" width="10.5" height="10.5" fill="#2bb276"/>
<rect x="70" y="185" width="10.5" height="10.5" fill="#3ccf3a"/>
<rect x="80" y="185" width="10.5" height="10.5" fill="#b2de2a"/>
<rect x="90" y="185" width="10.5" height="10.5" fill="#ecc427"/>
<rect x="100" y="185" width="10.5" height="10.5" fill="#3ccf3a"/>
<rect x="110" y="185" width="10.5" height="10.5" fill="#2bb276"/>
<rect x="120" y="185" width="10.5" height="10.5" fill="#2bb276"/>
<rect x="130" y="185" width="10.5" height="10.5" fill="#2a8490"/>
<rect x="140" y="185" width="10.5" height="10.5" fill="#2a8490"/>
<rect x="150" y="185" width="10.5" height="10.5" fill="#2bb276"/>
<rect x="160" y="185" width="10.5" height="10.5" fill="#2a8490"/>
<rect x="170" y="185" width="10.5" height="10.5" fill="#3ccf3a"/>
<rect x="180" y="185" width="10.5" height="10.5" fill="#2a8490"/>
<rect x="190" y="185" width="10.5" height="10.5" fill="#1d3d8a"/>
<rect x="200" y="185" width="10.5" height="10.5" fill="#2a8490"/>
<rect x="210" y="185" width="10.5" height="10.5" fill="#2bb276"/>
<rect x="220" y="185" width="10.5" height="10.5" fill="#b2de2a"/>
<rect x="230" y="185" width="10.5" height="10.5" fill="#3ccf3a"/>
<rect x="240" y="185" width="10.5" height="10.5" fill="#b2de2a"/>
<rect x="250" y="185" width="10.5" height="10.5" fill="#3ccf3a"/>
<rect x="260" y="185" width="10.5" height="10.5" fill="#3ccf3a"/>
<rect x="10" y="195" width="10.5" height="10.5" fill="#df852b"/>
<rect x="20" y="195" width="10.5" height="10.5" fill="#b2de2a"/>
<rect x="30" y="195" width="10.5" height="10.5" fill="#2bb276"/>
<rect x="40" y="195" width="10.5" height="10.5" fill="#2bb276"/>
<rect x="50" y="195" width="10.5" height="10.5" fill="#2bb276"/>
<rect x="60" y="195" width="10.5" height="10.5" fill="#3ccf3a"/>
<rect x="70" y="195" width="10.5" height="10.5" fill="#2bb276"/>
<rect x="80" y="195" width="10.5" height="10.5" fill="#2bb276"/>
<rect x="90" y="195" width="10.5" height="10.5" fill="#3ccf3a"/>
<rect x="100" y="195" width="10.5" height="10.5" fill="#2bb276"/>
<rect x="110" y="195" width="10.5" height="10.5" fill="#2a8490"/>
<rect x="120" y="195" width="10.5" height="10.5" fill="#2a8490"/>
<rect x="130" y="195" width="10.5" height="10.5" fill="#2a8490"/>
<rect x="140" y="195" width="10.5" height="10.5" fill="#2bb276"/>
<rect x="150" y="195" width="10.5" height="10.5" fill="#1d3d8a"/>
<rect x="160" y="195" width="10.5" height="10.5" fill="#1d3d8a"/>
<rect x="170" y="195" width="10.5" height="10.5" fill="#2a8490"/>
<rect x="180" y="195" width="10.5" height="10.5" fill="#1d3d8a"/>
<rect x="190" y="195" width="10.5" height="10.5" fill="#2a8490"/>
<rect x="200" y="195" width="10.5" height="10.5" fill="#2a8490"/>
<rect x="210" y="195" width="10.5" height="10.5" fill="#2a8490"/>
<rect x="220" y="195" width="10.5" height="10.5" fill="#3ccf3a"/>
<rect x="230" y="195" width="10.5" height="10.5" fill="#2bb276"/>
<rect x="240" y="195" width="10.5" height="10.5" fill="#3ccf3a"/>
<rect x="250" y="195" width="10.5" height="10.5" fill="#3ccf3a"/>
<rect x="260" y="195" width="10.5" height="10.5" fill="#3ccf3a"/>
<rect x="10" y="205" width="10.5" height="10.5" fill="#df852b"/>
<rect x="20" y="205" width="10.5" height="10.5" fill="#b2de2a"/>
<rect x="30" y="205" width="10.5" height="10.5" fill="#2bb276"/>
<rect x="40" y="205" width="10.5" height="10.5" fill="#2bb276"/>
<rect x="50" y="205" width="10.5" height="10.5" fill="#2bb276"/>
<rect x="60" y="205" width="10.5" height="10.5" fill="#3ccf3a"/>
<rect x="70" y="205" width="10.5" height="10.5" fill="#2bb276"/>
<rect x="80" y="205" width="10.5" height="10.5" fill="#2bb276"/>
<rect x="90" y="205" width="10.5" height="10.5" fill="#3ccf3a"/>
<rect x="100" y="205" width="10.5" height="10.5" fill="#2a8490"/>
<rect x="110" y="205" width="10.5" height="10.5" fill="#2a8490"/>
<rect x="120" y="205" width="10.5" height="10.5" fill="#2a8490"/>
<rect x="130" y="205" width="10.5" height="10.5" fill="#2a8490"/>
<rect x="140" y="205" width="10.5" height="10.5" fill="#1d3d8a"/>
<rect x="150" y="205" width="10.5" height="10.5" fill="#1d3d8a"/>
<rect x="160" y="205" width="10.5" height="10.5" fill="#1d3d8a"/>
<rect x="170" y="205" width="10.5" height="10.5" fill="#2a8490"/>
<rect x="180" y="205" width="10.5" height="10.5" fill="#2bb276"/>
<rect x="190" y="205" width="10.5" height="10.5" fill="#2bb276"/>
<rect x="200" y="205" width="10.5" height="10.5" fill="#2a8490"/>
<rect x="210" y="205" width="10.5" height="10.5" fill="#2a8490"/>
<rect x="220" y="205" width="10.5" height="10.5" fill="#2a8490"/>
<rect x="230" y="205" width="10.5" height="10.5" fill="#2bb276"/>
<rect x="240" y="205" width="10.5" height="10.5" fill="#3ccf3a"/>
<rect x="250" y="205" width="10.5" height="10.5" fill="#3ccf3a"/>
<rect x="260" y="205" width="10.5" height="10.5" fill="#3ccf3a"/>
<rect x="10" y="215" width="10.5" height="10.5" fill="#df852b"/>
<rect x="20" y="215" width="10.5" height="10.5" fill="#b2de2a"/>
<rect x="30" y="215" width="10.5" height="10.5" fill="#2bb276"/>
<rect x="40" y="215" width="10.5" height="10.5" fill="#2bb276"/>
<rect x="50" y="215" width="10.5" height="10.5" fill="#2bb276"/>
<rect x="60" y="215" width="10.5" height="10.5" fill="#3ccf3a"/>
<rect x="70" y="215" width="10.5" height="10.5" fill="#2bb276"/>
<rect x="80" y="215" width="10.5" height="10.5" fill="#2bb276"/>
<rect x="90" y="215" width="10.5" height="10.5" fill="#3ccf3a"/>
<rect x="100" y="215" width="10.5" height="10.5" fill="#2a8490"/>
<rect x="110" y="215" width="10.5" height="10.5" fill="#2a8490"/>
<rect x="120" y="215" width="10.5" height="10.5" fill="#2a8490"/>
<rect x="130" y="215" width="10.5" height="10.5" fill="#2a8490"/>
<rect x="140" y="215" width="10.5" height="10.5" fill="#1d3d8a"/>
<rect x="150" y="215" width="10.5" height="10.5" fill="#1d3d8a"/>
<rect x="160" y="215" width="10.5" height="10.5" fill="#2a8490"/>
<rect x="170" y="215" width="10.5" height="10.5" fill="#2a8490"/>
<rect x="180" y="215" width="10.5" height="10.5" fill="#2bb276"/>
<rect x="190" y="215" width="10.5" height="10.5" fill="#2bb276"/>
<rect x="200" y="215" width="10.5" height="10.5" fill="#2a8490"/>
<rect x="210" y="215" width="10.5" height="10.5" fill="#2a8490"/>
<rect x="220" y="215" width="10.5" height="10.5" fill="#2a8490"/>
<rect x="230" y="215" width="10.5" height="10.5" fill="#2a8490"/>
<rect x="240" y="215" width="10.5" height="10.5" fill="#3ccf3a"/>
<rect x="250" y="215" width="10.5" height="10.5" fill="#3ccf3a"/>
<rect x="260" y="215" width="10.5" height="10.5" fill="#3ccf3a"/></g>
</g></g>
<rect x="10.20" y="231.1" width="17.44" height="6.0" fill="#d4573b"/>
<rect x="27.34" y="231.1" width="17.44" height="6.0" fill="#e2832c"/>
<rect x="44.47" y="231.1" width="17.44" height="6.0" fill="#f0ae26"/>
<rect x="61.61" y="231.1" width="17.44" height="6.0" fill="#e3f21e"/>
<rect x="78.75" y="231.1" width="17.44" height="6.0" fill="#35d233"/>
<rect x="95.89" y="231.1" width="17.44" height="6.0" fill="#2bb679"/>
<rect x="113.02" y="231.1" width="17.44" height="6.0" fill="#2a878c"/>
<rect x="130.16" y="231.1" width="17.44" height="6.0" fill="#1c3c8a"/>
<text x="10.5" y="226.9" class="wue">WUE</text>
<text x="30.5" y="246.6" class="lbl" text-anchor="middle">0.6</text>
<text x="47.7" y="246.6" class="lbl" text-anchor="middle">0.9</text>
<text x="64.8" y="246.6" class="lbl" text-anchor="middle">1.2</text>
<text x="82.0" y="246.6" class="lbl" text-anchor="middle">1.5</text>
<text x="99.1" y="246.6" class="lbl" text-anchor="middle">1.8</text>
<text x="116.2" y="246.6" class="lbl" text-anchor="middle">2.1</text>
<text x="133.4" y="246.6" class="lbl" text-anchor="middle">2.4</text>
<rect x="284.10" y="228.2" width="17.34" height="6.5" fill="#d4573b"/>
<rect x="301.14" y="228.2" width="17.34" height="6.5" fill="#e2832c"/>
<rect x="318.18" y="228.2" width="17.34" height="6.5" fill="#f0ae26"/>
<rect x="335.21" y="228.2" width="17.34" height="6.5" fill="#e3f21e"/>
<rect x="352.25" y="228.2" width="17.34" height="6.5" fill="#35d233"/>
<rect x="369.29" y="228.2" width="17.34" height="6.5" fill="#2bb679"/>
<rect x="386.33" y="228.2" width="17.34" height="6.5" fill="#2a878c"/>
<rect x="403.36" y="228.2" width="17.34" height="6.5" fill="#1c3c8a"/>
<text x="284.4" y="224.0" class="wue">WUE</text>
<text x="304.3" y="244.2" class="lbl" text-anchor="middle">0.6</text>
<text x="321.4" y="244.2" class="lbl" text-anchor="middle">0.9</text>
<text x="338.4" y="244.2" class="lbl" text-anchor="middle">1.2</text>
<text x="355.4" y="244.2" class="lbl" text-anchor="middle">1.5</text>
<text x="372.5" y="244.2" class="lbl" text-anchor="middle">1.8</text>
<text x="389.5" y="244.2" class="lbl" text-anchor="middle">2.1</text>
<text x="406.6" y="244.2" class="lbl" text-anchor="middle">2.4</text>
<rect x="10.50" y="479.0" width="17.41" height="6.4" fill="#d4573b"/>
<rect x="27.61" y="479.0" width="17.41" height="6.4" fill="#e2832c"/>
<rect x="44.73" y="479.0" width="17.41" height="6.4" fill="#f0ae26"/>
<rect x="61.84" y="479.0" width="17.41" height="6.4" fill="#e3f21e"/>
<rect x="78.95" y="479.0" width="17.41" height="6.4" fill="#35d233"/>
<rect x="96.06" y="479.0" width="17.41" height="6.4" fill="#2bb679"/>
<rect x="113.18" y="479.0" width="17.41" height="6.4" fill="#2a878c"/>
<rect x="130.29" y="479.0" width="17.41" height="6.4" fill="#1c3c8a"/>
<text x="10.8" y="474.8" class="wue">WUE</text>
<text x="30.8" y="494.4" class="lbl" text-anchor="middle">0.6</text>
<text x="47.9" y="494.4" class="lbl" text-anchor="middle">0.9</text>
<text x="65.0" y="494.4" class="lbl" text-anchor="middle">1.2</text>
<text x="82.2" y="494.4" class="lbl" text-anchor="middle">1.5</text>
<text x="99.3" y="494.4" class="lbl" text-anchor="middle">1.8</text>
<text x="116.4" y="494.4" class="lbl" text-anchor="middle">2.1</text>
<text x="133.5" y="494.4" class="lbl" text-anchor="middle">2.4</text>
<rect x="283.50" y="478.0" width="17.41" height="6.5" fill="#d4573b"/>
<rect x="300.61" y="478.0" width="17.41" height="6.5" fill="#e2832c"/>
<rect x="317.73" y="478.0" width="17.41" height="6.5" fill="#f0ae26"/>
<rect x="334.84" y="478.0" width="17.41" height="6.5" fill="#e3f21e"/>
<rect x="351.95" y="478.0" width="17.41" height="6.5" fill="#35d233"/>
<rect x="369.06" y="478.0" width="17.41" height="6.5" fill="#2bb679"/>
<rect x="386.18" y="478.0" width="17.41" height="6.5" fill="#2a878c"/>
<rect x="403.29" y="478.0" width="17.41" height="6.5" fill="#1c3c8a"/>
<text x="283.8" y="473.8" class="wue">WUE</text>
<text x="303.8" y="494.3" class="lbl" text-anchor="middle">0.6</text>
<text x="320.9" y="494.3" class="lbl" text-anchor="middle">0.9</text>
<text x="338.0" y="494.3" class="lbl" text-anchor="middle">1.2</text>
<text x="355.1" y="494.3" class="lbl" text-anchor="middle">1.5</text>
<text x="372.3" y="494.3" class="lbl" text-anchor="middle">1.8</text>
<text x="389.4" y="494.3" class="lbl" text-anchor="middle">2.1</text>
<text x="406.5" y="494.3" class="lbl" text-anchor="middle">2.4</text>
<text x="19.8" y="36.3" class="big" textLength="13.9" lengthAdjust="spacingAndGlyphs">a</text>
<text x="316.4" y="33.4" class="big" style="font-size:28.3px" textLength="17.4" lengthAdjust="spacingAndGlyphs">b</text>
<text x="23.3" y="281.7" class="big" textLength="14.6" lengthAdjust="spacingAndGlyphs">c</text>
<text x="287.5" y="283.1" class="big" style="font-size:28.3px" textLength="17.6" lengthAdjust="spacingAndGlyphs">d</text>
<text x="194.3" y="240.9" class="season" textLength="64" lengthAdjust="spacingAndGlyphs">annual</text>
<text x="454.8" y="238.5" class="season" textLength="60.5" lengthAdjust="spacingAndGlyphs">spring</text>
<text x="181.9" y="491.6" class="season" textLength="77" lengthAdjust="spacingAndGlyphs">summer</text>
<text x="454.6" y="491.3" class="season" textLength="74.6" lengthAdjust="spacingAndGlyphs">autumn</text>
</svg>
</body></html>
